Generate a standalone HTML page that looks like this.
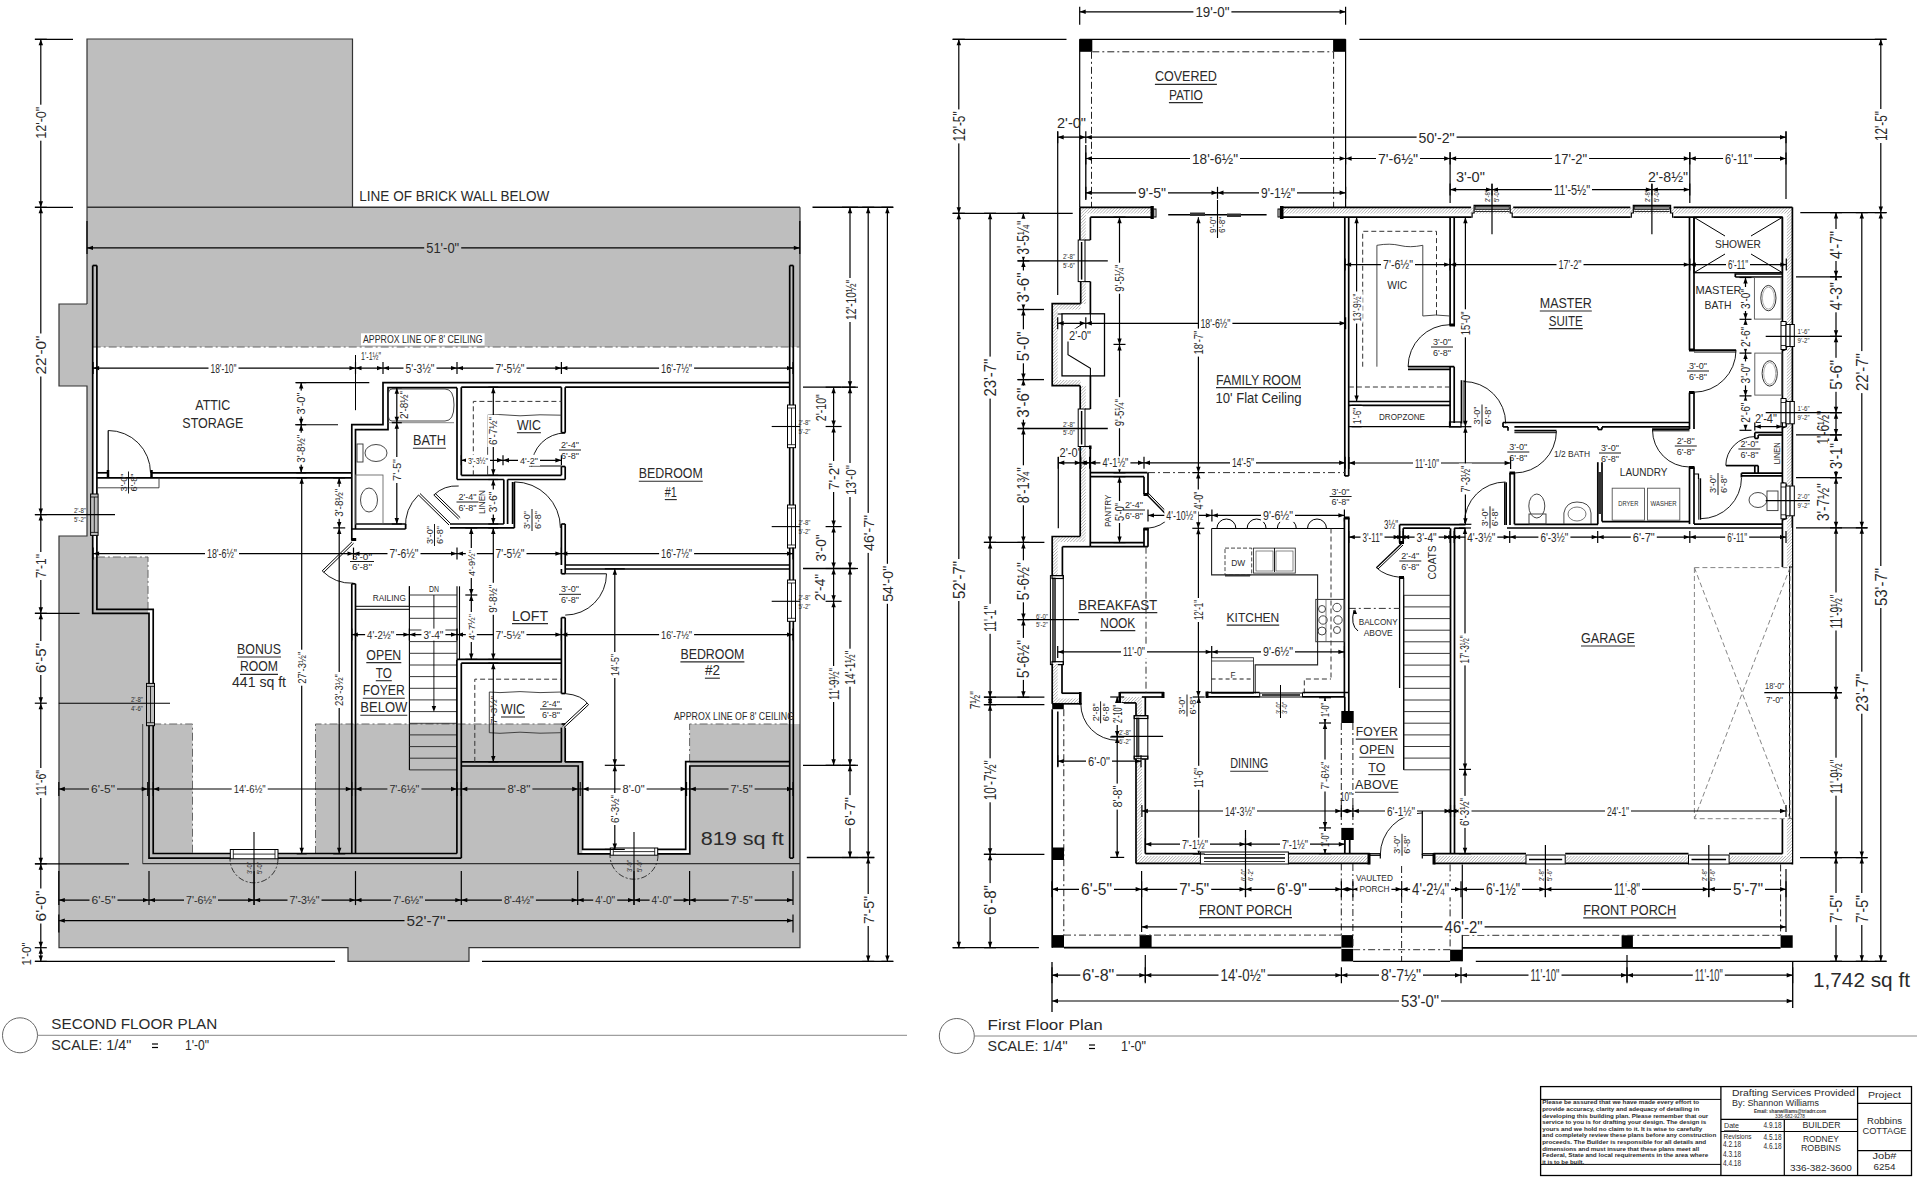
<!DOCTYPE html>
<html><head><meta charset="utf-8"><style>
html,body{margin:0;padding:0;background:#fff;width:1920px;height:1178px;overflow:hidden}
svg{display:block}
</style></head><body>
<svg width="1920" height="1178" viewBox="0 0 1920 1178" stroke-linecap="butt">
<defs><pattern id="h" width="2.2" height="2.2" patternUnits="userSpaceOnUse" patternTransform="rotate(45)"><rect width="2.2" height="2.2" fill="#fff"/><line x1="0" y1="0" x2="0" y2="2.2" stroke="#777" stroke-width="0.8"/></pattern></defs>
<rect x="0" y="0" width="1920" height="1178" fill="#fff"/>
<polygon points="87.0,39.0 352.5,39.0 352.5,207.3 87.0,207.3" fill="#bebebe" stroke="none"/>
<polygon points="87.0,207.3 800.0,207.3 800.0,347.0 87.0,347.0" fill="#bebebe" stroke="none"/>
<polygon points="59.0,304.0 87.0,304.0 87.0,386.0 59.0,386.0" fill="#bebebe" stroke="none"/>
<polygon points="87.0,347.0 92.7,347.0 92.7,536.0 87.0,536.0" fill="#bebebe" stroke="none"/>
<polygon points="59.0,536.0 92.7,536.0 92.7,557.0 148.0,557.0 148.0,724.0 192.5,724.0 192.5,854.0 59.0,854.0" fill="#bebebe" stroke="none"/>
<polygon points="59.0,854.0 800.0,854.0 800.0,947.7 469.0,947.7 469.0,961.4 348.0,961.4 348.0,947.7 59.0,947.7" fill="#bebebe" stroke="none"/>
<polygon points="315.5,724.0 565.0,724.0 565.0,762.0 582.3,762.0 582.3,854.0 315.5,854.0" fill="#bebebe" stroke="none"/>
<polygon points="689.6,724.0 800.0,724.0 800.0,854.0 689.6,854.0" fill="#bebebe" stroke="none"/>
<polyline points="87.0,304.0 87.0,39.0 352.5,39.0 352.5,207.3" fill="none" stroke="#333" stroke-width="1.2" stroke-linejoin="miter"/>
<line x1="87.0" y1="207.3" x2="800.0" y2="207.3" stroke="#333" stroke-width="1.4"/>
<polyline points="87.0,304.0 59.0,304.0 59.0,386.0 87.0,386.0 87.0,536.0 59.0,536.0 59.0,947.7 348.0,947.7 348.0,961.4 469.0,961.4 469.0,947.7 800.0,947.7 800.0,207.3" fill="none" stroke="#333" stroke-width="1.2" stroke-linejoin="miter"/>
<line x1="92.7" y1="347.0" x2="800.0" y2="347.0" stroke="#666" stroke-width="1.0" stroke-dasharray="8,3,2,3"/>
<polyline points="96.9,557.0 148.0,557.0 148.0,609.0" fill="none" stroke="#666" stroke-width="1.0" stroke-dasharray="8,3,2,3" stroke-linejoin="miter"/>
<polyline points="153.2,724.0 192.5,724.0 192.5,854.0" fill="none" stroke="#666" stroke-width="1.0" stroke-dasharray="8,3,2,3" stroke-linejoin="miter"/>
<polyline points="315.5,854.0 315.5,724.0 561.0,724.0" fill="none" stroke="#666" stroke-width="1.0" stroke-dasharray="8,3,2,3" stroke-linejoin="miter"/>
<polyline points="689.6,762.0 689.6,724.0 789.7,724.0" fill="none" stroke="#666" stroke-width="1.0" stroke-dasharray="8,3,2,3" stroke-linejoin="miter"/>
<line x1="142.7" y1="724.0" x2="142.7" y2="863.7" stroke="#444" stroke-width="1.0"/>
<line x1="142.7" y1="863.7" x2="800.0" y2="863.7" stroke="#333" stroke-width="1.2"/>
<polyline points="92.7,265.5 92.7,613.3 149.0,613.3 149.0,858.1 461.3,858.1" fill="none" stroke="#000" stroke-width="1.7" stroke-linejoin="miter"/>
<polyline points="96.9,265.5 96.9,609.3 153.2,609.3 153.2,853.5 456.9,853.5" fill="none" stroke="#000" stroke-width="1.7" stroke-linejoin="miter"/>
<line x1="92.7" y1="265.5" x2="96.9" y2="265.5" stroke="#000" stroke-width="1.7"/>
<line x1="789.7" y1="265.5" x2="789.7" y2="858.1" stroke="#000" stroke-width="1.7"/>
<line x1="793.3" y1="265.5" x2="793.3" y2="858.1" stroke="#000" stroke-width="1.7"/>
<line x1="789.7" y1="265.5" x2="793.3" y2="265.5" stroke="#000" stroke-width="1.7"/>
<line x1="789.7" y1="858.1" x2="793.3" y2="858.1" stroke="#000" stroke-width="1.7"/>
<line x1="96.9" y1="472.8" x2="108.0" y2="472.8" stroke="#000" stroke-width="1.7"/>
<line x1="151.5" y1="472.8" x2="351.8" y2="472.8" stroke="#000" stroke-width="1.7"/>
<line x1="96.9" y1="477.8" x2="351.8" y2="477.8" stroke="#000" stroke-width="1.7"/>
<line x1="108.0" y1="470.0" x2="108.0" y2="478.0" stroke="#000" stroke-width="2.5"/>
<line x1="151.5" y1="470.0" x2="151.5" y2="478.0" stroke="#000" stroke-width="2.5"/>
<line x1="108.2" y1="472.8" x2="108.2" y2="430.5" stroke="#000" stroke-width="1.2"/>
<path d="M108.2,430.5 A42.3,42.3 0 0 1 150.5,472.8" fill="none" stroke="#000" stroke-width="0.9"/>
<polyline points="96.9,487.8 159.0,487.8 159.0,477.8" fill="none" stroke="#333" stroke-width="0.9" stroke-linejoin="miter"/>
<polyline points="351.8,540.4 351.8,424.7 383.0,424.7 383.0,382.6 789.7,382.6" fill="none" stroke="#000" stroke-width="1.7" stroke-linejoin="miter"/>
<polyline points="355.5,529.0 355.5,429.7 388.0,429.7 388.0,387.7 457.0,387.7" fill="none" stroke="#000" stroke-width="1.7" stroke-linejoin="miter"/>
<line x1="461.3" y1="387.2" x2="561.4" y2="387.2" stroke="#000" stroke-width="1.7"/>
<line x1="565.2" y1="387.2" x2="789.7" y2="387.2" stroke="#000" stroke-width="1.7"/>
<line x1="457.0" y1="387.7" x2="457.0" y2="479.5" stroke="#000" stroke-width="1.7"/>
<line x1="461.3" y1="387.2" x2="461.3" y2="475.3" stroke="#000" stroke-width="1.7"/>
<line x1="461.3" y1="475.3" x2="561.4" y2="475.3" stroke="#000" stroke-width="1.7"/>
<line x1="457.0" y1="479.5" x2="503.8" y2="479.5" stroke="#000" stroke-width="1.7"/>
<line x1="507.6" y1="479.5" x2="565.2" y2="479.5" stroke="#000" stroke-width="1.7"/>
<line x1="561.4" y1="387.2" x2="561.4" y2="432.7" stroke="#000" stroke-width="1.7"/>
<line x1="565.2" y1="387.2" x2="565.2" y2="432.7" stroke="#000" stroke-width="1.7"/>
<line x1="561.4" y1="466.5" x2="561.4" y2="475.3" stroke="#000" stroke-width="1.7"/>
<line x1="565.2" y1="466.5" x2="565.2" y2="479.5" stroke="#000" stroke-width="1.7"/>
<line x1="561.4" y1="432.7" x2="565.2" y2="432.7" stroke="#000" stroke-width="1.7"/>
<line x1="561.4" y1="466.5" x2="565.2" y2="466.5" stroke="#000" stroke-width="1.7"/>
<line x1="355.5" y1="524.0" x2="405.6" y2="524.0" stroke="#000" stroke-width="1.7"/>
<line x1="351.8" y1="529.0" x2="405.6" y2="529.0" stroke="#000" stroke-width="1.7"/>
<line x1="405.6" y1="524.0" x2="405.6" y2="529.0" stroke="#000" stroke-width="1.7"/>
<line x1="503.8" y1="479.5" x2="503.8" y2="524.0" stroke="#000" stroke-width="1.7"/>
<line x1="507.6" y1="479.5" x2="507.6" y2="524.0" stroke="#000" stroke-width="1.7"/>
<line x1="450.0" y1="524.0" x2="503.8" y2="524.0" stroke="#000" stroke-width="1.7"/>
<line x1="450.0" y1="527.9" x2="514.4" y2="527.9" stroke="#000" stroke-width="1.7"/>
<line x1="512.6" y1="482.0" x2="512.6" y2="524.0" stroke="#000" stroke-width="1.7"/>
<line x1="514.4" y1="482.0" x2="514.4" y2="527.9" stroke="#000" stroke-width="1.7"/>
<line x1="561.4" y1="524.0" x2="561.4" y2="565.0" stroke="#000" stroke-width="1.7"/>
<line x1="565.2" y1="524.0" x2="565.2" y2="569.0" stroke="#000" stroke-width="1.7"/>
<line x1="561.4" y1="524.0" x2="565.2" y2="524.0" stroke="#000" stroke-width="1.7"/>
<line x1="565.2" y1="565.0" x2="789.7" y2="565.0" stroke="#000" stroke-width="1.7"/>
<line x1="565.2" y1="569.0" x2="789.7" y2="569.0" stroke="#000" stroke-width="1.7"/>
<line x1="561.4" y1="569.0" x2="561.4" y2="573.8" stroke="#000" stroke-width="1.7"/>
<line x1="565.2" y1="569.0" x2="565.2" y2="573.8" stroke="#000" stroke-width="1.7"/>
<line x1="561.4" y1="617.6" x2="561.4" y2="693.6" stroke="#000" stroke-width="1.7"/>
<line x1="565.2" y1="617.6" x2="565.2" y2="693.6" stroke="#000" stroke-width="1.7"/>
<line x1="561.4" y1="727.6" x2="561.4" y2="761.9" stroke="#000" stroke-width="1.7"/>
<line x1="565.2" y1="727.6" x2="565.2" y2="761.9" stroke="#000" stroke-width="1.7"/>
<line x1="561.4" y1="573.8" x2="565.2" y2="573.8" stroke="#000" stroke-width="1.7"/>
<line x1="561.4" y1="617.6" x2="565.2" y2="617.6" stroke="#000" stroke-width="1.7"/>
<line x1="565.2" y1="573.8" x2="606.5" y2="573.8" stroke="#000" stroke-width="1.0"/>
<path d="M606.5,573.8 A41.3,41.3 0 0 1 565.2,615.1" fill="none" stroke="#000" stroke-width="0.9"/>
<line x1="351.8" y1="583.8" x2="351.8" y2="853.5" stroke="#000" stroke-width="1.7"/>
<line x1="355.5" y1="583.8" x2="355.5" y2="853.5" stroke="#000" stroke-width="1.7"/>
<line x1="351.8" y1="583.8" x2="355.5" y2="583.8" stroke="#000" stroke-width="1.7"/>
<line x1="409.4" y1="586.3" x2="409.4" y2="769.9" stroke="#000" stroke-width="1.1"/>
<line x1="457.0" y1="586.3" x2="457.0" y2="659.4" stroke="#000" stroke-width="1.1"/>
<line x1="459.5" y1="586.3" x2="459.5" y2="659.4" stroke="#000" stroke-width="1.1"/>
<line x1="409.4" y1="586.3" x2="409.4" y2="606.3" stroke="#000" stroke-width="1.1"/>
<line x1="409.4" y1="595.0" x2="457.0" y2="595.0" stroke="#222" stroke-width="0.9"/>
<line x1="409.4" y1="606.7" x2="457.0" y2="606.7" stroke="#222" stroke-width="0.9"/>
<line x1="409.4" y1="618.3" x2="457.0" y2="618.3" stroke="#222" stroke-width="0.9"/>
<line x1="409.4" y1="630.0" x2="457.0" y2="630.0" stroke="#222" stroke-width="0.9"/>
<line x1="409.4" y1="641.6" x2="457.0" y2="641.6" stroke="#222" stroke-width="0.9"/>
<line x1="409.4" y1="653.3" x2="457.0" y2="653.3" stroke="#222" stroke-width="0.9"/>
<line x1="409.4" y1="665.0" x2="457.0" y2="665.0" stroke="#222" stroke-width="0.9"/>
<line x1="409.4" y1="676.6" x2="457.0" y2="676.6" stroke="#222" stroke-width="0.9"/>
<line x1="409.4" y1="688.3" x2="457.0" y2="688.3" stroke="#222" stroke-width="0.9"/>
<line x1="409.4" y1="699.9" x2="457.0" y2="699.9" stroke="#222" stroke-width="0.9"/>
<line x1="409.4" y1="711.6" x2="457.0" y2="711.6" stroke="#222" stroke-width="0.9"/>
<line x1="409.4" y1="723.3" x2="457.0" y2="723.3" stroke="#222" stroke-width="0.9"/>
<line x1="409.4" y1="734.9" x2="457.0" y2="734.9" stroke="#222" stroke-width="0.9"/>
<line x1="409.4" y1="746.6" x2="457.0" y2="746.6" stroke="#222" stroke-width="0.9"/>
<line x1="409.4" y1="758.2" x2="457.0" y2="758.2" stroke="#222" stroke-width="0.9"/>
<line x1="409.4" y1="769.9" x2="457.0" y2="769.9" stroke="#222" stroke-width="0.9"/>
<line x1="433.9" y1="595.0" x2="433.9" y2="709.0" stroke="#000" stroke-width="0.9"/>
<polygon points="433.9,712.0 431.7,706.0 436.1,706.0" fill="#000"/>
<line x1="355.5" y1="606.3" x2="409.4" y2="606.3" stroke="#000" stroke-width="1.0"/>
<line x1="355.5" y1="609.3" x2="409.4" y2="609.3" stroke="#000" stroke-width="1.0"/>
<line x1="457.0" y1="659.4" x2="561.4" y2="659.4" stroke="#000" stroke-width="1.7"/>
<line x1="461.3" y1="663.2" x2="561.4" y2="663.2" stroke="#000" stroke-width="1.7"/>
<line x1="456.9" y1="659.4" x2="456.9" y2="853.5" stroke="#000" stroke-width="1.7"/>
<line x1="461.3" y1="663.2" x2="461.3" y2="858.1" stroke="#000" stroke-width="1.7"/>
<line x1="461.3" y1="761.9" x2="561.9" y2="761.9" stroke="#000" stroke-width="1.7"/>
<polyline points="564.8,761.9 582.6,761.9 582.6,849.4 685.7,849.4 685.7,761.6 789.7,761.6" fill="none" stroke="#000" stroke-width="1.7" stroke-linejoin="miter"/>
<polyline points="461.3,766.0 578.2,766.0 578.2,853.8 689.8,853.8 689.8,766.0 789.7,766.0" fill="none" stroke="#000" stroke-width="1.7" stroke-linejoin="miter"/>
<rect x="90.6" y="494.0" width="7.5" height="41.4" fill="#bebebe" stroke="#000" stroke-width="1.0"/>
<line x1="94.3" y1="497.0" x2="94.3" y2="532.4" stroke="#000" stroke-width="0.8"/>
<line x1="90.6" y1="497.0" x2="98.1" y2="497.0" stroke="#000" stroke-width="0.8"/>
<line x1="90.6" y1="532.4" x2="98.1" y2="532.4" stroke="#000" stroke-width="0.8"/>
<rect x="146.5" y="683.4" width="8.0" height="42.3" fill="#bebebe" stroke="#000" stroke-width="1.0"/>
<line x1="150.5" y1="686.4" x2="150.5" y2="722.7" stroke="#000" stroke-width="0.8"/>
<line x1="146.5" y1="686.4" x2="154.5" y2="686.4" stroke="#000" stroke-width="0.8"/>
<line x1="146.5" y1="722.7" x2="154.5" y2="722.7" stroke="#000" stroke-width="0.8"/>
<rect x="787.5" y="405.0" width="8.0" height="42.7" fill="#fff" stroke="#000" stroke-width="1.0"/>
<line x1="791.5" y1="408.0" x2="791.5" y2="444.7" stroke="#000" stroke-width="0.8"/>
<line x1="787.5" y1="408.0" x2="795.5" y2="408.0" stroke="#000" stroke-width="0.8"/>
<line x1="787.5" y1="444.7" x2="795.5" y2="444.7" stroke="#000" stroke-width="0.8"/>
<rect x="787.5" y="505.0" width="8.0" height="43.0" fill="#fff" stroke="#000" stroke-width="1.0"/>
<line x1="791.5" y1="508.0" x2="791.5" y2="545.0" stroke="#000" stroke-width="0.8"/>
<line x1="787.5" y1="508.0" x2="795.5" y2="508.0" stroke="#000" stroke-width="0.8"/>
<line x1="787.5" y1="545.0" x2="795.5" y2="545.0" stroke="#000" stroke-width="0.8"/>
<rect x="787.5" y="580.0" width="8.0" height="41.3" fill="#fff" stroke="#000" stroke-width="1.0"/>
<line x1="791.5" y1="583.0" x2="791.5" y2="618.3" stroke="#000" stroke-width="0.8"/>
<line x1="787.5" y1="583.0" x2="795.5" y2="583.0" stroke="#000" stroke-width="0.8"/>
<line x1="787.5" y1="618.3" x2="795.5" y2="618.3" stroke="#000" stroke-width="0.8"/>
<rect x="230.3" y="849.5" width="47.7" height="9.3" fill="#fff" stroke="#000" stroke-width="1.0"/>
<line x1="233.3" y1="854.1" x2="275.0" y2="854.1" stroke="#000" stroke-width="0.8"/>
<line x1="233.3" y1="849.5" x2="233.3" y2="858.8" stroke="#000" stroke-width="0.8"/>
<line x1="275.0" y1="849.5" x2="275.0" y2="858.8" stroke="#000" stroke-width="0.8"/>
<rect x="610.3" y="848.0" width="47.4" height="7.2" fill="#fff" stroke="#000" stroke-width="1.0"/>
<line x1="613.3" y1="851.6" x2="654.7" y2="851.6" stroke="#000" stroke-width="0.8"/>
<line x1="613.3" y1="848.0" x2="613.3" y2="855.2" stroke="#000" stroke-width="0.8"/>
<line x1="654.7" y1="848.0" x2="654.7" y2="855.2" stroke="#000" stroke-width="0.8"/>
<path d="M278.0,858.8 A24.0,24.0 0 0 1 230.0,858.8" fill="none" stroke="#222" stroke-width="0.9" stroke-dasharray="6,2,2,2"/>
<path d="M658.0,855.2 A24.0,24.0 0 0 1 610.0,855.2" fill="none" stroke="#222" stroke-width="0.9" stroke-dasharray="6,2,2,2"/>
<line x1="254.0" y1="832.0" x2="254.0" y2="905.0" stroke="#000" stroke-width="1.1"/>
<line x1="634.0" y1="832.0" x2="634.0" y2="905.0" stroke="#000" stroke-width="1.1"/>
<text x="249.0" y="870.5" font-family="Liberation Sans" font-size="6.94" font-weight="normal" text-anchor="middle" fill="#2a2a2a" textLength="12.0" lengthAdjust="spacingAndGlyphs" transform="rotate(-90 249.0 868.0)">3'-0&quot;</text>
<text x="259.0" y="870.5" font-family="Liberation Sans" font-size="6.94" font-weight="normal" text-anchor="middle" fill="#2a2a2a" textLength="12.0" lengthAdjust="spacingAndGlyphs" transform="rotate(-90 259.0 868.0)">5'-0&quot;</text>
<text x="629.0" y="868.5" font-family="Liberation Sans" font-size="6.94" font-weight="normal" text-anchor="middle" fill="#2a2a2a" textLength="12.0" lengthAdjust="spacingAndGlyphs" transform="rotate(-90 629.0 866.0)">3'-0&quot;</text>
<text x="639.0" y="868.5" font-family="Liberation Sans" font-size="6.94" font-weight="normal" text-anchor="middle" fill="#2a2a2a" textLength="12.0" lengthAdjust="spacingAndGlyphs" transform="rotate(-90 639.0 866.0)">5'-0&quot;</text>
<line x1="35.0" y1="514.6" x2="115.0" y2="514.6" stroke="#000" stroke-width="1.1"/>
<text x="80.0" y="512.5" font-family="Liberation Sans" font-size="6.94" font-weight="normal" text-anchor="middle" fill="#2a2a2a" textLength="12.0" lengthAdjust="spacingAndGlyphs">2'-8&quot;</text>
<text x="80.0" y="522.0" font-family="Liberation Sans" font-size="6.94" font-weight="normal" text-anchor="middle" fill="#2a2a2a" textLength="12.0" lengthAdjust="spacingAndGlyphs">5'-2&quot;</text>
<line x1="58.8" y1="703.2" x2="170.0" y2="703.2" stroke="#000" stroke-width="1.1"/>
<text x="137.0" y="701.5" font-family="Liberation Sans" font-size="6.94" font-weight="normal" text-anchor="middle" fill="#2a2a2a" textLength="12.0" lengthAdjust="spacingAndGlyphs">2'-8&quot;</text>
<text x="137.0" y="711.0" font-family="Liberation Sans" font-size="6.94" font-weight="normal" text-anchor="middle" fill="#2a2a2a" textLength="12.0" lengthAdjust="spacingAndGlyphs">4'-6&quot;</text>
<line x1="771.7" y1="426.5" x2="800.0" y2="426.5" stroke="#000" stroke-width="1.1"/>
<text x="804.5" y="424.7" font-family="Liberation Sans" font-size="6.94" font-weight="normal" text-anchor="middle" fill="#2a2a2a" textLength="12.0" lengthAdjust="spacingAndGlyphs">2'-8&quot;</text>
<text x="804.5" y="433.7" font-family="Liberation Sans" font-size="6.94" font-weight="normal" text-anchor="middle" fill="#2a2a2a" textLength="12.0" lengthAdjust="spacingAndGlyphs">5'-2&quot;</text>
<line x1="771.7" y1="526.6" x2="800.0" y2="526.6" stroke="#000" stroke-width="1.1"/>
<text x="804.5" y="524.8" font-family="Liberation Sans" font-size="6.94" font-weight="normal" text-anchor="middle" fill="#2a2a2a" textLength="12.0" lengthAdjust="spacingAndGlyphs">2'-8&quot;</text>
<text x="804.5" y="533.8" font-family="Liberation Sans" font-size="6.94" font-weight="normal" text-anchor="middle" fill="#2a2a2a" textLength="12.0" lengthAdjust="spacingAndGlyphs">5'-2&quot;</text>
<line x1="771.7" y1="601.3" x2="800.0" y2="601.3" stroke="#000" stroke-width="1.1"/>
<text x="804.5" y="599.5" font-family="Liberation Sans" font-size="6.94" font-weight="normal" text-anchor="middle" fill="#2a2a2a" textLength="12.0" lengthAdjust="spacingAndGlyphs">2'-8&quot;</text>
<text x="804.5" y="608.5" font-family="Liberation Sans" font-size="6.94" font-weight="normal" text-anchor="middle" fill="#2a2a2a" textLength="12.0" lengthAdjust="spacingAndGlyphs">5'-2&quot;</text>
<path d="M392,389 H445 Q454,389 454,405 Q454,421 445,421 H392 Q388.5,421 388.5,417 V393 Q388.5,389 392,389 Z" fill="none" stroke="#333" stroke-width="0.9"/>
<line x1="388.0" y1="422.7" x2="454.0" y2="422.7" stroke="#666" stroke-width="0.8"/>
<rect x="357.0" y="444.0" width="6.0" height="18.0" fill="none" stroke="#333" stroke-width="0.9"/>
<ellipse cx="376.0" cy="453.0" rx="11.0" ry="8.5" fill="none" stroke="#333" stroke-width="0.9"/>
<rect x="355.5" y="475.0" width="27.5" height="49.0" fill="none" stroke="#555" stroke-width="0.8"/>
<ellipse cx="369.0" cy="500.0" rx="8.5" ry="12.0" fill="none" stroke="#333" stroke-width="0.9"/>
<polyline points="473.3,475.3 473.3,401.4 561.4,401.4" fill="none" stroke="#333" stroke-width="1.0" stroke-dasharray="5,3" stroke-linejoin="miter"/>
<polyline points="487.6,475.3 487.6,415.2 500.0,414.6 520.0,415.8 540.0,414.8 561.4,415.2" fill="none" stroke="#333" stroke-width="0.9" stroke-linejoin="miter"/>
<polyline points="474.8,761.9 474.8,679.2 561.4,679.2" fill="none" stroke="#333" stroke-width="1.0" stroke-dasharray="5,3" stroke-linejoin="miter"/>
<polyline points="561.4,692.0 540.0,692.6 520.0,691.6 500.0,692.6 489.3,692.0 489.3,732.7 500.0,733.3 520.0,732.2 540.0,733.2 561.4,732.7" fill="none" stroke="#333" stroke-width="0.9" stroke-linejoin="miter"/>
<path d="M531.7,466.5 A33.5,33.5 0 0 1 565.2,433.0" fill="none" stroke="#000" stroke-width="0.9"/>
<line x1="528.9" y1="466.0" x2="561.4" y2="466.0" stroke="#000" stroke-width="1.0"/>
<path d="M514.4,481.9 A46.0,46.0 0 0 1 560.4,527.9" fill="none" stroke="#000" stroke-width="0.9"/>
<line x1="514.4" y1="482.0" x2="514.4" y2="527.9" stroke="#000" stroke-width="1.0"/>
<path d="M418.5,495 A43,43 0 0 0 405.6,528.8" fill="none" stroke="#000" stroke-width="0.9"/>
<line x1="449.0" y1="525.0" x2="418.5" y2="495.0" stroke="#000" stroke-width="1.0"/>
<line x1="450.5" y1="523.5" x2="420.0" y2="493.5" stroke="#000" stroke-width="1.0"/>
<path d="M433.8,495 A33,33 0 0 1 458.7,486" fill="none" stroke="#000" stroke-width="0.9"/>
<line x1="458.7" y1="519.2" x2="433.8" y2="495.0" stroke="#000" stroke-width="1.0"/>
<line x1="460.2" y1="517.7" x2="435.3" y2="493.5" stroke="#000" stroke-width="1.0"/>
<line x1="352.1" y1="541.7" x2="322.2" y2="570.9" stroke="#000" stroke-width="1.0"/>
<line x1="353.6" y1="543.2" x2="323.7" y2="572.4" stroke="#000" stroke-width="1.0"/>
<path d="M322.2,570.9 A42,42 0 0 0 353.5,583.2" fill="none" stroke="#000" stroke-width="0.9"/>
<rect x="351.4" y="538.0" width="4.8" height="3.0" fill="#000" stroke="none"/>
<path d="M565.2,693.6 Q582,695 588.6,704.7" fill="none" stroke="#000" stroke-width="0.9"/>
<line x1="588.6" y1="704.7" x2="564.0" y2="727.6" stroke="#000" stroke-width="1.0"/>
<line x1="587.0" y1="703.2" x2="562.5" y2="726.1" stroke="#000" stroke-width="1.0"/>
<line x1="561.4" y1="693.5" x2="565.2" y2="693.5" stroke="#000" stroke-width="1.7"/>
<line x1="561.4" y1="724.0" x2="565.2" y2="724.0" stroke="#000" stroke-width="1.7"/>
<line x1="40.8" y1="39.3" x2="40.8" y2="961.4" stroke="#000" stroke-width="1.2"/>
<line x1="34.8" y1="39.3" x2="46.8" y2="39.3" stroke="#000" stroke-width="1.2"/>
<line x1="34.8" y1="207.3" x2="46.8" y2="207.3" stroke="#000" stroke-width="1.2"/>
<line x1="34.8" y1="514.6" x2="46.8" y2="514.6" stroke="#000" stroke-width="1.2"/>
<line x1="34.8" y1="613.3" x2="46.8" y2="613.3" stroke="#000" stroke-width="1.2"/>
<line x1="34.8" y1="703.2" x2="46.8" y2="703.2" stroke="#000" stroke-width="1.2"/>
<line x1="34.8" y1="863.8" x2="46.8" y2="863.8" stroke="#000" stroke-width="1.2"/>
<line x1="34.8" y1="947.7" x2="46.8" y2="947.7" stroke="#000" stroke-width="1.2"/>
<line x1="34.8" y1="961.4" x2="46.8" y2="961.4" stroke="#000" stroke-width="1.2"/>
<polygon points="40.8,39.3 38.6,45.3 43.0,45.3" fill="#000"/>
<polygon points="40.8,207.3 38.6,201.3 43.0,201.3" fill="#000"/>
<polygon points="40.8,207.3 38.6,213.3 43.0,213.3" fill="#000"/>
<polygon points="40.8,514.6 38.6,508.6 43.0,508.6" fill="#000"/>
<polygon points="40.8,514.6 38.6,520.6 43.0,520.6" fill="#000"/>
<polygon points="40.8,613.3 38.6,607.3 43.0,607.3" fill="#000"/>
<polygon points="40.8,613.3 38.6,619.3 43.0,619.3" fill="#000"/>
<polygon points="40.8,703.2 38.6,697.2 43.0,697.2" fill="#000"/>
<polygon points="40.8,703.2 38.6,709.2 43.0,709.2" fill="#000"/>
<polygon points="40.8,863.8 38.6,857.8 43.0,857.8" fill="#000"/>
<polygon points="40.8,863.8 38.6,869.8 43.0,869.8" fill="#000"/>
<polygon points="40.8,947.7 38.6,941.7 43.0,941.7" fill="#000"/>
<polygon points="40.8,947.7 38.6,953.7 43.0,953.7" fill="#000"/>
<polygon points="40.8,961.4 38.6,955.4 43.0,955.4" fill="#000"/>
<rect x="22.8" y="115.2" width="36.0" height="15.0" fill="#fff" transform="rotate(-90 40.8 122.7)"/>
<text x="40.8" y="128.2" font-family="Liberation Sans" font-size="15.28" font-weight="normal" text-anchor="middle" fill="#2a2a2a" textLength="32.0" lengthAdjust="spacingAndGlyphs" transform="rotate(-90 40.8 122.7)">12'-0&quot;</text>
<rect x="19.3" y="347.5" width="43.0" height="15.0" fill="#fff" transform="rotate(-90 40.8 355.0)"/>
<text x="40.8" y="360.5" font-family="Liberation Sans" font-size="15.28" font-weight="normal" text-anchor="middle" fill="#2a2a2a" textLength="39.0" lengthAdjust="spacingAndGlyphs" transform="rotate(-90 40.8 355.0)">22'-0&quot;</text>
<rect x="26.8" y="558.5" width="28.0" height="15.0" fill="#fff" transform="rotate(-90 40.8 566.0)"/>
<text x="40.8" y="571.5" font-family="Liberation Sans" font-size="15.28" font-weight="normal" text-anchor="middle" fill="#2a2a2a" textLength="24.0" lengthAdjust="spacingAndGlyphs" transform="rotate(-90 40.8 566.0)">7'-1&quot;</text>
<rect x="23.8" y="650.5" width="34.0" height="15.0" fill="#fff" transform="rotate(-90 40.8 658.0)"/>
<text x="40.8" y="663.5" font-family="Liberation Sans" font-size="15.28" font-weight="normal" text-anchor="middle" fill="#2a2a2a" textLength="30.0" lengthAdjust="spacingAndGlyphs" transform="rotate(-90 40.8 658.0)">6'-5&quot;</text>
<rect x="25.8" y="775.5" width="30.0" height="15.0" fill="#fff" transform="rotate(-90 40.8 783.0)"/>
<text x="40.8" y="788.5" font-family="Liberation Sans" font-size="15.28" font-weight="normal" text-anchor="middle" fill="#2a2a2a" textLength="26.0" lengthAdjust="spacingAndGlyphs" transform="rotate(-90 40.8 783.0)">11'-6&quot;</text>
<rect x="23.3" y="898.5" width="35.0" height="15.0" fill="#fff" transform="rotate(-90 40.8 906.0)"/>
<text x="40.8" y="911.5" font-family="Liberation Sans" font-size="15.28" font-weight="normal" text-anchor="middle" fill="#2a2a2a" textLength="31.0" lengthAdjust="spacingAndGlyphs" transform="rotate(-90 40.8 906.0)">6'-0&quot;</text>
<line x1="35.0" y1="39.3" x2="73.0" y2="39.3" stroke="#000" stroke-width="1.3"/>
<line x1="35.0" y1="207.3" x2="73.0" y2="207.3" stroke="#000" stroke-width="1.3"/>
<line x1="35.0" y1="613.3" x2="79.6" y2="613.3" stroke="#000" stroke-width="1.3"/>
<line x1="35.0" y1="863.8" x2="129.0" y2="863.8" stroke="#000" stroke-width="1.3"/>
<line x1="35.0" y1="961.4" x2="335.0" y2="961.4" stroke="#000" stroke-width="1.3"/>
<text x="26.8" y="958.5" font-family="Liberation Sans" font-size="12.50" font-weight="normal" text-anchor="middle" fill="#2a2a2a" textLength="23.0" lengthAdjust="spacingAndGlyphs" transform="rotate(-90 26.8 954.0)">1'-0&quot;</text>
<line x1="833.6" y1="387.2" x2="833.6" y2="765.3" stroke="#000" stroke-width="1.2"/>
<line x1="825.6" y1="387.2" x2="841.6" y2="387.2" stroke="#000" stroke-width="1.2"/>
<line x1="825.6" y1="426.5" x2="841.6" y2="426.5" stroke="#000" stroke-width="1.2"/>
<line x1="825.6" y1="526.6" x2="841.6" y2="526.6" stroke="#000" stroke-width="1.2"/>
<line x1="825.6" y1="568.5" x2="841.6" y2="568.5" stroke="#000" stroke-width="1.2"/>
<line x1="825.6" y1="601.3" x2="841.6" y2="601.3" stroke="#000" stroke-width="1.2"/>
<line x1="825.6" y1="765.3" x2="841.6" y2="765.3" stroke="#000" stroke-width="1.2"/>
<polygon points="833.6,387.2 831.4,393.2 835.8,393.2" fill="#000"/>
<polygon points="833.6,426.5 831.4,420.5 835.8,420.5" fill="#000"/>
<polygon points="833.6,426.5 831.4,432.5 835.8,432.5" fill="#000"/>
<polygon points="833.6,526.6 831.4,520.6 835.8,520.6" fill="#000"/>
<polygon points="833.6,526.6 831.4,532.6 835.8,532.6" fill="#000"/>
<polygon points="833.6,568.5 831.4,562.5 835.8,562.5" fill="#000"/>
<polygon points="833.6,568.5 831.4,574.5 835.8,574.5" fill="#000"/>
<polygon points="833.6,601.3 831.4,595.3 835.8,595.3" fill="#000"/>
<polygon points="833.6,601.3 831.4,607.3 835.8,607.3" fill="#000"/>
<polygon points="833.6,765.3 831.4,759.3 835.8,759.3" fill="#000"/>
<text x="820.6" y="413.2" font-family="Liberation Sans" font-size="15.28" font-weight="normal" text-anchor="middle" fill="#2a2a2a" textLength="27.0" lengthAdjust="spacingAndGlyphs" transform="rotate(-90 820.6 407.7)">2'-10&quot;</text>
<rect x="818.1" y="469.0" width="31.0" height="15.0" fill="#fff" transform="rotate(-90 833.6 476.5)"/>
<text x="833.6" y="482.0" font-family="Liberation Sans" font-size="15.28" font-weight="normal" text-anchor="middle" fill="#2a2a2a" textLength="27.0" lengthAdjust="spacingAndGlyphs" transform="rotate(-90 833.6 476.5)">7'-2&quot;</text>
<text x="820.6" y="553.5" font-family="Liberation Sans" font-size="15.28" font-weight="normal" text-anchor="middle" fill="#2a2a2a" textLength="27.0" lengthAdjust="spacingAndGlyphs" transform="rotate(-90 820.6 548.0)">3'-0&quot;</text>
<text x="819.6" y="593.0" font-family="Liberation Sans" font-size="15.28" font-weight="normal" text-anchor="middle" fill="#2a2a2a" textLength="27.0" lengthAdjust="spacingAndGlyphs" transform="rotate(-90 819.6 587.5)">2'-4&quot;</text>
<rect x="815.6" y="676.5" width="36.0" height="15.0" fill="#fff" transform="rotate(-90 833.6 684.0)"/>
<text x="833.6" y="689.5" font-family="Liberation Sans" font-size="15.28" font-weight="normal" text-anchor="middle" fill="#2a2a2a" textLength="32.0" lengthAdjust="spacingAndGlyphs" transform="rotate(-90 833.6 684.0)">11'-9½&quot;</text>
<line x1="850.0" y1="207.3" x2="850.0" y2="857.5" stroke="#000" stroke-width="1.2"/>
<line x1="842.0" y1="207.3" x2="858.0" y2="207.3" stroke="#000" stroke-width="1.2"/>
<line x1="842.0" y1="387.2" x2="858.0" y2="387.2" stroke="#000" stroke-width="1.2"/>
<line x1="842.0" y1="568.5" x2="858.0" y2="568.5" stroke="#000" stroke-width="1.2"/>
<line x1="842.0" y1="765.3" x2="858.0" y2="765.3" stroke="#000" stroke-width="1.2"/>
<line x1="842.0" y1="857.5" x2="858.0" y2="857.5" stroke="#000" stroke-width="1.2"/>
<polygon points="850.0,207.3 847.8,213.3 852.2,213.3" fill="#000"/>
<polygon points="850.0,387.2 847.8,381.2 852.2,381.2" fill="#000"/>
<polygon points="850.0,387.2 847.8,393.2 852.2,393.2" fill="#000"/>
<polygon points="850.0,568.5 847.8,562.5 852.2,562.5" fill="#000"/>
<polygon points="850.0,568.5 847.8,574.5 852.2,574.5" fill="#000"/>
<polygon points="850.0,765.3 847.8,759.3 852.2,759.3" fill="#000"/>
<polygon points="850.0,765.3 847.8,771.3 852.2,771.3" fill="#000"/>
<polygon points="850.0,857.5 847.8,851.5 852.2,851.5" fill="#000"/>
<rect x="828.0" y="292.5" width="44.0" height="15.0" fill="#fff" transform="rotate(-90 850.0 300.0)"/>
<text x="850.0" y="305.5" font-family="Liberation Sans" font-size="15.28" font-weight="normal" text-anchor="middle" fill="#2a2a2a" textLength="40.0" lengthAdjust="spacingAndGlyphs" transform="rotate(-90 850.0 300.0)">12'-10½&quot;</text>
<rect x="833.0" y="472.5" width="34.0" height="15.0" fill="#fff" transform="rotate(-90 850.0 480.0)"/>
<text x="850.0" y="485.5" font-family="Liberation Sans" font-size="15.28" font-weight="normal" text-anchor="middle" fill="#2a2a2a" textLength="30.0" lengthAdjust="spacingAndGlyphs" transform="rotate(-90 850.0 480.0)">13'-0&quot;</text>
<rect x="831.0" y="660.2" width="38.0" height="15.0" fill="#fff" transform="rotate(-90 850.0 667.7)"/>
<text x="850.0" y="673.2" font-family="Liberation Sans" font-size="15.28" font-weight="normal" text-anchor="middle" fill="#2a2a2a" textLength="34.0" lengthAdjust="spacingAndGlyphs" transform="rotate(-90 850.0 667.7)">14'-1½&quot;</text>
<rect x="833.5" y="804.1" width="33.0" height="15.0" fill="#fff" transform="rotate(-90 850.0 811.6)"/>
<text x="850.0" y="817.1" font-family="Liberation Sans" font-size="15.28" font-weight="normal" text-anchor="middle" fill="#2a2a2a" textLength="29.0" lengthAdjust="spacingAndGlyphs" transform="rotate(-90 850.0 811.6)">6'-7&quot;</text>
<line x1="868.2" y1="207.3" x2="868.2" y2="961.4" stroke="#000" stroke-width="1.2"/>
<line x1="862.2" y1="207.3" x2="874.2" y2="207.3" stroke="#000" stroke-width="1.2"/>
<line x1="862.2" y1="857.5" x2="874.2" y2="857.5" stroke="#000" stroke-width="1.2"/>
<line x1="862.2" y1="961.4" x2="874.2" y2="961.4" stroke="#000" stroke-width="1.2"/>
<polygon points="868.2,207.3 866.0,213.3 870.4,213.3" fill="#000"/>
<polygon points="868.2,857.5 866.0,851.5 870.4,851.5" fill="#000"/>
<polygon points="868.2,857.5 866.0,863.5 870.4,863.5" fill="#000"/>
<polygon points="868.2,961.4 866.0,955.4 870.4,955.4" fill="#000"/>
<rect x="848.2" y="525.4" width="40.0" height="15.0" fill="#fff" transform="rotate(-90 868.2 532.9)"/>
<text x="868.2" y="538.4" font-family="Liberation Sans" font-size="15.28" font-weight="normal" text-anchor="middle" fill="#2a2a2a" textLength="36.0" lengthAdjust="spacingAndGlyphs" transform="rotate(-90 868.2 532.9)">46'-7&quot;</text>
<rect x="852.2" y="902.5" width="32.0" height="15.0" fill="#fff" transform="rotate(-90 868.2 910.0)"/>
<text x="868.2" y="915.5" font-family="Liberation Sans" font-size="15.28" font-weight="normal" text-anchor="middle" fill="#2a2a2a" textLength="28.0" lengthAdjust="spacingAndGlyphs" transform="rotate(-90 868.2 910.0)">7'-5&quot;</text>
<line x1="887.4" y1="207.3" x2="887.4" y2="961.4" stroke="#000" stroke-width="1.2"/>
<line x1="881.4" y1="207.3" x2="893.4" y2="207.3" stroke="#000" stroke-width="1.2"/>
<line x1="881.4" y1="961.4" x2="893.4" y2="961.4" stroke="#000" stroke-width="1.2"/>
<polygon points="887.4,207.3 885.2,213.3 889.6,213.3" fill="#000"/>
<polygon points="887.4,961.4 885.2,955.4 889.6,955.4" fill="#000"/>
<rect x="867.4" y="576.3" width="40.0" height="15.0" fill="#fff" transform="rotate(-90 887.4 583.8)"/>
<text x="887.4" y="589.3" font-family="Liberation Sans" font-size="15.28" font-weight="normal" text-anchor="middle" fill="#2a2a2a" textLength="36.0" lengthAdjust="spacingAndGlyphs" transform="rotate(-90 887.4 583.8)">54'-0&quot;</text>
<line x1="812.5" y1="207.3" x2="893.2" y2="207.3" stroke="#000" stroke-width="1.4"/>
<line x1="803.0" y1="387.2" x2="855.6" y2="387.2" stroke="#000" stroke-width="1.3"/>
<line x1="803.0" y1="568.5" x2="855.6" y2="568.5" stroke="#000" stroke-width="1.3"/>
<line x1="803.0" y1="765.3" x2="855.6" y2="765.3" stroke="#000" stroke-width="1.3"/>
<line x1="806.8" y1="857.5" x2="874.4" y2="857.5" stroke="#000" stroke-width="1.3"/>
<line x1="482.0" y1="961.4" x2="893.2" y2="961.4" stroke="#000" stroke-width="1.4"/>
<line x1="87.0" y1="247.9" x2="799.8" y2="247.9" stroke="#000" stroke-width="1.2"/>
<line x1="87.0" y1="220.9" x2="87.0" y2="253.9" stroke="#000" stroke-width="1.2"/>
<line x1="799.8" y1="220.9" x2="799.8" y2="253.9" stroke="#000" stroke-width="1.2"/>
<polygon points="87.0,247.9 93.0,245.7 93.0,250.1" fill="#000"/>
<polygon points="799.8,247.9 793.8,245.7 793.8,250.1" fill="#000"/>
<rect x="424.2" y="240.4" width="37.0" height="15.0" fill="#bebebe"/>
<text x="442.7" y="253.4" font-family="Liberation Sans" font-size="15.28" font-weight="normal" text-anchor="middle" fill="#2a2a2a" textLength="33.0" lengthAdjust="spacingAndGlyphs">51'-0&quot;</text>
<line x1="93.1" y1="368.1" x2="793.0" y2="368.1" stroke="#000" stroke-width="1.2"/>
<line x1="93.1" y1="362.1" x2="93.1" y2="374.1" stroke="#000" stroke-width="1.2"/>
<line x1="355.5" y1="362.1" x2="355.5" y2="374.1" stroke="#000" stroke-width="1.2"/>
<line x1="383.0" y1="362.1" x2="383.0" y2="374.1" stroke="#000" stroke-width="1.2"/>
<line x1="457.0" y1="362.1" x2="457.0" y2="374.1" stroke="#000" stroke-width="1.2"/>
<line x1="561.4" y1="362.1" x2="561.4" y2="374.1" stroke="#000" stroke-width="1.2"/>
<line x1="793.0" y1="362.1" x2="793.0" y2="374.1" stroke="#000" stroke-width="1.2"/>
<polygon points="93.1,368.1 99.1,365.9 99.1,370.3" fill="#000"/>
<polygon points="355.5,368.1 349.5,365.9 349.5,370.3" fill="#000"/>
<polygon points="355.5,368.1 361.5,365.9 361.5,370.3" fill="#000"/>
<polygon points="383.0,368.1 377.0,365.9 377.0,370.3" fill="#000"/>
<polygon points="383.0,368.1 389.0,365.9 389.0,370.3" fill="#000"/>
<polygon points="457.0,368.1 451.0,365.9 451.0,370.3" fill="#000"/>
<polygon points="457.0,368.1 463.0,365.9 463.0,370.3" fill="#000"/>
<polygon points="561.4,368.1 555.4,365.9 555.4,370.3" fill="#000"/>
<polygon points="561.4,368.1 567.4,365.9 567.4,370.3" fill="#000"/>
<polygon points="793.0,368.1 787.0,365.9 787.0,370.3" fill="#000"/>
<rect x="208.5" y="361.6" width="30.0" height="13.0" fill="#fff"/>
<text x="223.5" y="372.6" font-family="Liberation Sans" font-size="12.50" font-weight="normal" text-anchor="middle" fill="#2a2a2a" textLength="26.0" lengthAdjust="spacingAndGlyphs">18'-10&quot;</text>
<rect x="403.5" y="361.6" width="33.0" height="13.0" fill="#fff"/>
<text x="420.0" y="372.6" font-family="Liberation Sans" font-size="12.50" font-weight="normal" text-anchor="middle" fill="#2a2a2a" textLength="29.0" lengthAdjust="spacingAndGlyphs">5'-3½&quot;</text>
<rect x="493.5" y="361.6" width="33.0" height="13.0" fill="#fff"/>
<text x="510.0" y="372.6" font-family="Liberation Sans" font-size="12.50" font-weight="normal" text-anchor="middle" fill="#2a2a2a" textLength="29.0" lengthAdjust="spacingAndGlyphs">7'-5½&quot;</text>
<rect x="659.1" y="361.6" width="35.0" height="13.0" fill="#fff"/>
<text x="676.6" y="372.6" font-family="Liberation Sans" font-size="12.50" font-weight="normal" text-anchor="middle" fill="#2a2a2a" textLength="31.0" lengthAdjust="spacingAndGlyphs">16'-7½&quot;</text>
<text x="371.0" y="360.0" font-family="Liberation Sans" font-size="11.11" font-weight="normal" text-anchor="middle" fill="#2a2a2a" textLength="20.0" lengthAdjust="spacingAndGlyphs">1'-1½&quot;</text>
<line x1="355.5" y1="355.0" x2="355.5" y2="410.2" stroke="#000" stroke-width="1.0"/>
<line x1="295.4" y1="382.6" x2="369.3" y2="382.6" stroke="#000" stroke-width="1.1"/>
<line x1="295.0" y1="424.7" x2="338.0" y2="424.7" stroke="#000" stroke-width="1.1"/>
<line x1="93.1" y1="553.6" x2="793.0" y2="553.6" stroke="#000" stroke-width="1.2"/>
<line x1="93.1" y1="547.6" x2="93.1" y2="559.6" stroke="#000" stroke-width="1.2"/>
<line x1="353.5" y1="547.6" x2="353.5" y2="559.6" stroke="#000" stroke-width="1.2"/>
<line x1="457.0" y1="547.6" x2="457.0" y2="559.6" stroke="#000" stroke-width="1.2"/>
<line x1="561.4" y1="547.6" x2="561.4" y2="559.6" stroke="#000" stroke-width="1.2"/>
<line x1="793.0" y1="547.6" x2="793.0" y2="559.6" stroke="#000" stroke-width="1.2"/>
<polygon points="93.1,553.6 99.1,551.4 99.1,555.8" fill="#000"/>
<polygon points="353.5,553.6 347.5,551.4 347.5,555.8" fill="#000"/>
<polygon points="353.5,553.6 359.5,551.4 359.5,555.8" fill="#000"/>
<polygon points="457.0,553.6 451.0,551.4 451.0,555.8" fill="#000"/>
<polygon points="457.0,553.6 463.0,551.4 463.0,555.8" fill="#000"/>
<polygon points="561.4,553.6 555.4,551.4 555.4,555.8" fill="#000"/>
<polygon points="561.4,553.6 567.4,551.4 567.4,555.8" fill="#000"/>
<polygon points="793.0,553.6 787.0,551.4 787.0,555.8" fill="#000"/>
<rect x="205.0" y="547.1" width="34.0" height="13.0" fill="#fff"/>
<text x="222.0" y="558.1" font-family="Liberation Sans" font-size="12.50" font-weight="normal" text-anchor="middle" fill="#2a2a2a" textLength="30.0" lengthAdjust="spacingAndGlyphs">18'-6½&quot;</text>
<rect x="387.5" y="547.1" width="33.0" height="13.0" fill="#fff"/>
<text x="404.0" y="558.1" font-family="Liberation Sans" font-size="12.50" font-weight="normal" text-anchor="middle" fill="#2a2a2a" textLength="29.0" lengthAdjust="spacingAndGlyphs">7'-6½&quot;</text>
<rect x="493.5" y="547.1" width="33.0" height="13.0" fill="#fff"/>
<text x="510.0" y="558.1" font-family="Liberation Sans" font-size="12.50" font-weight="normal" text-anchor="middle" fill="#2a2a2a" textLength="29.0" lengthAdjust="spacingAndGlyphs">7'-5½&quot;</text>
<rect x="659.1" y="547.1" width="35.0" height="13.0" fill="#fff"/>
<text x="676.6" y="558.1" font-family="Liberation Sans" font-size="12.50" font-weight="normal" text-anchor="middle" fill="#2a2a2a" textLength="31.0" lengthAdjust="spacingAndGlyphs">16'-7½&quot;</text>
<line x1="351.8" y1="634.6" x2="793.0" y2="634.6" stroke="#000" stroke-width="1.2"/>
<line x1="351.8" y1="628.6" x2="351.8" y2="640.6" stroke="#000" stroke-width="1.2"/>
<line x1="409.4" y1="628.6" x2="409.4" y2="640.6" stroke="#000" stroke-width="1.2"/>
<line x1="457.0" y1="628.6" x2="457.0" y2="640.6" stroke="#000" stroke-width="1.2"/>
<line x1="561.4" y1="628.6" x2="561.4" y2="640.6" stroke="#000" stroke-width="1.2"/>
<line x1="793.0" y1="628.6" x2="793.0" y2="640.6" stroke="#000" stroke-width="1.2"/>
<polygon points="351.8,634.6 357.8,632.4 357.8,636.8" fill="#000"/>
<polygon points="409.4,634.6 403.4,632.4 403.4,636.8" fill="#000"/>
<polygon points="409.4,634.6 415.4,632.4 415.4,636.8" fill="#000"/>
<polygon points="457.0,634.6 451.0,632.4 451.0,636.8" fill="#000"/>
<polygon points="457.0,634.6 463.0,632.4 463.0,636.8" fill="#000"/>
<polygon points="561.4,634.6 555.4,632.4 555.4,636.8" fill="#000"/>
<polygon points="561.4,634.6 567.4,632.4 567.4,636.8" fill="#000"/>
<polygon points="793.0,634.6 787.0,632.4 787.0,636.8" fill="#000"/>
<rect x="365.1" y="628.6" width="31.0" height="12.0" fill="#fff"/>
<text x="380.6" y="638.6" font-family="Liberation Sans" font-size="11.11" font-weight="normal" text-anchor="middle" fill="#2a2a2a" textLength="27.0" lengthAdjust="spacingAndGlyphs">4'-2½&quot;</text>
<rect x="421.4" y="628.6" width="24.0" height="12.0" fill="#fff"/>
<text x="433.4" y="638.6" font-family="Liberation Sans" font-size="11.11" font-weight="normal" text-anchor="middle" fill="#2a2a2a" textLength="20.0" lengthAdjust="spacingAndGlyphs">3'-4&quot;</text>
<rect x="493.5" y="628.6" width="33.0" height="12.0" fill="#fff"/>
<text x="510.0" y="638.6" font-family="Liberation Sans" font-size="11.11" font-weight="normal" text-anchor="middle" fill="#2a2a2a" textLength="29.0" lengthAdjust="spacingAndGlyphs">7'-5½&quot;</text>
<rect x="659.1" y="628.6" width="35.0" height="12.0" fill="#fff"/>
<text x="676.6" y="638.6" font-family="Liberation Sans" font-size="11.11" font-weight="normal" text-anchor="middle" fill="#2a2a2a" textLength="31.0" lengthAdjust="spacingAndGlyphs">16'-7½&quot;</text>
<line x1="58.8" y1="789.0" x2="793.0" y2="789.0" stroke="#000" stroke-width="1.2"/>
<line x1="58.8" y1="782.0" x2="58.8" y2="796.0" stroke="#000" stroke-width="1.1"/>
<line x1="147.7" y1="782.0" x2="147.7" y2="796.0" stroke="#000" stroke-width="1.1"/>
<line x1="153.2" y1="782.0" x2="153.2" y2="796.0" stroke="#000" stroke-width="1.1"/>
<line x1="351.8" y1="782.0" x2="351.8" y2="796.0" stroke="#000" stroke-width="1.1"/>
<line x1="355.5" y1="782.0" x2="355.5" y2="796.0" stroke="#000" stroke-width="1.1"/>
<line x1="457.0" y1="782.0" x2="457.0" y2="796.0" stroke="#000" stroke-width="1.1"/>
<line x1="461.3" y1="782.0" x2="461.3" y2="796.0" stroke="#000" stroke-width="1.1"/>
<line x1="580.2" y1="782.0" x2="580.2" y2="796.0" stroke="#000" stroke-width="1.1"/>
<line x1="686.6" y1="782.0" x2="686.6" y2="796.0" stroke="#000" stroke-width="1.1"/>
<line x1="793.0" y1="782.0" x2="793.0" y2="796.0" stroke="#000" stroke-width="1.1"/>
<polygon points="58.8,789.0 64.8,786.8 64.8,791.2" fill="#000"/>
<polygon points="147.7,789.0 141.7,786.8 141.7,791.2" fill="#000"/>
<polygon points="153.2,789.0 159.2,786.8 159.2,791.2" fill="#000"/>
<polygon points="351.8,789.0 345.8,786.8 345.8,791.2" fill="#000"/>
<polygon points="355.5,789.0 361.5,786.8 361.5,791.2" fill="#000"/>
<polygon points="457.0,789.0 451.0,786.8 451.0,791.2" fill="#000"/>
<polygon points="461.3,789.0 467.3,786.8 467.3,791.2" fill="#000"/>
<polygon points="578.2,789.0 572.2,786.8 572.2,791.2" fill="#000"/>
<polygon points="582.6,789.0 588.6,786.8 588.6,791.2" fill="#000"/>
<polygon points="686.6,789.0 680.6,786.8 680.6,791.2" fill="#000"/>
<polygon points="689.8,789.0 695.8,786.8 695.8,791.2" fill="#000"/>
<polygon points="793.0,789.0 787.0,786.8 787.0,791.2" fill="#000"/>
<rect x="89.0" y="783.0" width="28.0" height="12.0" fill="#bebebe"/>
<text x="103.0" y="793.0" font-family="Liberation Sans" font-size="11.11" font-weight="normal" text-anchor="middle" fill="#2a2a2a" textLength="24.0" lengthAdjust="spacingAndGlyphs">6'-5&quot;</text>
<rect x="231.7" y="783.0" width="36.0" height="12.0" fill="#fff"/>
<text x="249.7" y="793.0" font-family="Liberation Sans" font-size="11.11" font-weight="normal" text-anchor="middle" fill="#2a2a2a" textLength="32.0" lengthAdjust="spacingAndGlyphs">14'-6½&quot;</text>
<rect x="387.4" y="783.0" width="34.0" height="12.0" fill="#bebebe"/>
<text x="404.4" y="793.0" font-family="Liberation Sans" font-size="11.11" font-weight="normal" text-anchor="middle" fill="#2a2a2a" textLength="30.0" lengthAdjust="spacingAndGlyphs">7'-6½&quot;</text>
<rect x="505.4" y="783.0" width="27.0" height="12.0" fill="#bebebe"/>
<text x="518.9" y="793.0" font-family="Liberation Sans" font-size="11.11" font-weight="normal" text-anchor="middle" fill="#2a2a2a" textLength="23.0" lengthAdjust="spacingAndGlyphs">8'-8&quot;</text>
<rect x="620.6" y="783.0" width="26.0" height="12.0" fill="#fff"/>
<text x="633.6" y="793.0" font-family="Liberation Sans" font-size="11.11" font-weight="normal" text-anchor="middle" fill="#2a2a2a" textLength="22.0" lengthAdjust="spacingAndGlyphs">8'-0&quot;</text>
<rect x="728.6" y="783.0" width="26.0" height="12.0" fill="#bebebe"/>
<text x="741.6" y="793.0" font-family="Liberation Sans" font-size="11.11" font-weight="normal" text-anchor="middle" fill="#2a2a2a" textLength="22.0" lengthAdjust="spacingAndGlyphs">7'-5&quot;</text>
<line x1="58.8" y1="900.1" x2="793.0" y2="900.1" stroke="#000" stroke-width="1.2"/>
<line x1="58.8" y1="871.1" x2="58.8" y2="905.1" stroke="#000" stroke-width="1.2"/>
<line x1="149.0" y1="871.1" x2="149.0" y2="905.1" stroke="#000" stroke-width="1.2"/>
<line x1="254.1" y1="871.1" x2="254.1" y2="905.1" stroke="#000" stroke-width="1.2"/>
<line x1="355.5" y1="871.1" x2="355.5" y2="905.1" stroke="#000" stroke-width="1.2"/>
<line x1="461.3" y1="871.1" x2="461.3" y2="905.1" stroke="#000" stroke-width="1.2"/>
<line x1="577.7" y1="871.1" x2="577.7" y2="905.1" stroke="#000" stroke-width="1.2"/>
<line x1="634.0" y1="871.1" x2="634.0" y2="905.1" stroke="#000" stroke-width="1.2"/>
<line x1="689.6" y1="871.1" x2="689.6" y2="905.1" stroke="#000" stroke-width="1.2"/>
<line x1="793.0" y1="871.1" x2="793.0" y2="905.1" stroke="#000" stroke-width="1.2"/>
<polygon points="58.8,900.1 64.8,897.9 64.8,902.3" fill="#000"/>
<polygon points="149.0,900.1 143.0,897.9 143.0,902.3" fill="#000"/>
<polygon points="149.0,900.1 155.0,897.9 155.0,902.3" fill="#000"/>
<polygon points="254.1,900.1 248.1,897.9 248.1,902.3" fill="#000"/>
<polygon points="254.1,900.1 260.1,897.9 260.1,902.3" fill="#000"/>
<polygon points="355.5,900.1 349.5,897.9 349.5,902.3" fill="#000"/>
<polygon points="355.5,900.1 361.5,897.9 361.5,902.3" fill="#000"/>
<polygon points="461.3,900.1 455.3,897.9 455.3,902.3" fill="#000"/>
<polygon points="461.3,900.1 467.3,897.9 467.3,902.3" fill="#000"/>
<polygon points="577.7,900.1 571.7,897.9 571.7,902.3" fill="#000"/>
<polygon points="577.7,900.1 583.7,897.9 583.7,902.3" fill="#000"/>
<polygon points="634.0,900.1 628.0,897.9 628.0,902.3" fill="#000"/>
<polygon points="634.0,900.1 640.0,897.9 640.0,902.3" fill="#000"/>
<polygon points="689.6,900.1 683.6,897.9 683.6,902.3" fill="#000"/>
<polygon points="689.6,900.1 695.6,897.9 695.6,902.3" fill="#000"/>
<polygon points="793.0,900.1 787.0,897.9 787.0,902.3" fill="#000"/>
<rect x="89.5" y="894.1" width="28.0" height="12.0" fill="#bebebe"/>
<text x="103.5" y="904.1" font-family="Liberation Sans" font-size="11.11" font-weight="normal" text-anchor="middle" fill="#2a2a2a" textLength="24.0" lengthAdjust="spacingAndGlyphs">6'-5&quot;</text>
<rect x="184.0" y="894.1" width="34.0" height="12.0" fill="#bebebe"/>
<text x="201.0" y="904.1" font-family="Liberation Sans" font-size="11.11" font-weight="normal" text-anchor="middle" fill="#2a2a2a" textLength="30.0" lengthAdjust="spacingAndGlyphs">7'-6½&quot;</text>
<rect x="287.5" y="894.1" width="34.0" height="12.0" fill="#bebebe"/>
<text x="304.5" y="904.1" font-family="Liberation Sans" font-size="11.11" font-weight="normal" text-anchor="middle" fill="#2a2a2a" textLength="30.0" lengthAdjust="spacingAndGlyphs">7'-3½&quot;</text>
<rect x="391.0" y="894.1" width="34.0" height="12.0" fill="#bebebe"/>
<text x="408.0" y="904.1" font-family="Liberation Sans" font-size="11.11" font-weight="normal" text-anchor="middle" fill="#2a2a2a" textLength="30.0" lengthAdjust="spacingAndGlyphs">7'-6½&quot;</text>
<rect x="501.9" y="894.1" width="34.0" height="12.0" fill="#bebebe"/>
<text x="518.9" y="904.1" font-family="Liberation Sans" font-size="11.11" font-weight="normal" text-anchor="middle" fill="#2a2a2a" textLength="30.0" lengthAdjust="spacingAndGlyphs">8'-4½&quot;</text>
<rect x="593.2" y="894.1" width="24.0" height="12.0" fill="#bebebe"/>
<text x="605.2" y="904.1" font-family="Liberation Sans" font-size="11.11" font-weight="normal" text-anchor="middle" fill="#2a2a2a" textLength="20.0" lengthAdjust="spacingAndGlyphs">4'-0&quot;</text>
<rect x="649.6" y="894.1" width="24.0" height="12.0" fill="#bebebe"/>
<text x="661.6" y="904.1" font-family="Liberation Sans" font-size="11.11" font-weight="normal" text-anchor="middle" fill="#2a2a2a" textLength="20.0" lengthAdjust="spacingAndGlyphs">4'-0&quot;</text>
<rect x="728.7" y="894.1" width="26.0" height="12.0" fill="#bebebe"/>
<text x="741.7" y="904.1" font-family="Liberation Sans" font-size="11.11" font-weight="normal" text-anchor="middle" fill="#2a2a2a" textLength="22.0" lengthAdjust="spacingAndGlyphs">7'-5&quot;</text>
<line x1="58.8" y1="920.6" x2="793.0" y2="920.6" stroke="#000" stroke-width="1.2"/>
<line x1="58.8" y1="914.6" x2="58.8" y2="932.6" stroke="#000" stroke-width="1.2"/>
<line x1="793.0" y1="914.6" x2="793.0" y2="932.6" stroke="#000" stroke-width="1.2"/>
<polygon points="58.8,920.6 64.8,918.4 64.8,922.8" fill="#000"/>
<polygon points="793.0,920.6 787.0,918.4 787.0,922.8" fill="#000"/>
<rect x="404.5" y="913.1" width="43.0" height="15.0" fill="#bebebe"/>
<text x="426.0" y="926.1" font-family="Liberation Sans" font-size="15.28" font-weight="normal" text-anchor="middle" fill="#2a2a2a" textLength="39.0" lengthAdjust="spacingAndGlyphs">52'-7&quot;</text>
<line x1="301.2" y1="382.6" x2="301.2" y2="472.8" stroke="#000" stroke-width="1.2"/>
<line x1="296.2" y1="382.6" x2="306.2" y2="382.6" stroke="#000" stroke-width="1.2"/>
<line x1="296.2" y1="424.7" x2="306.2" y2="424.7" stroke="#000" stroke-width="1.2"/>
<line x1="296.2" y1="472.8" x2="306.2" y2="472.8" stroke="#000" stroke-width="1.2"/>
<polygon points="301.2,382.6 299.0,388.6 303.4,388.6" fill="#000"/>
<polygon points="301.2,424.7 299.0,418.7 303.4,418.7" fill="#000"/>
<polygon points="301.2,424.7 299.0,430.7 303.4,430.7" fill="#000"/>
<polygon points="301.2,472.8 299.0,466.8 303.4,466.8" fill="#000"/>
<rect x="288.2" y="397.6" width="26.0" height="12.0" fill="#fff" transform="rotate(-90 301.2 403.6)"/>
<text x="301.2" y="407.6" font-family="Liberation Sans" font-size="11.11" font-weight="normal" text-anchor="middle" fill="#2a2a2a" textLength="22.0" lengthAdjust="spacingAndGlyphs" transform="rotate(-90 301.2 403.6)">3'-0&quot;</text>
<rect x="285.2" y="442.7" width="32.0" height="12.0" fill="#fff" transform="rotate(-90 301.2 448.7)"/>
<text x="301.2" y="452.7" font-family="Liberation Sans" font-size="11.11" font-weight="normal" text-anchor="middle" fill="#2a2a2a" textLength="28.0" lengthAdjust="spacingAndGlyphs" transform="rotate(-90 301.2 448.7)">3'-8½&quot;</text>
<line x1="301.7" y1="477.8" x2="301.7" y2="853.8" stroke="#000" stroke-width="1.2"/>
<line x1="296.7" y1="477.8" x2="306.7" y2="477.8" stroke="#000" stroke-width="1.2"/>
<line x1="296.7" y1="853.8" x2="306.7" y2="853.8" stroke="#000" stroke-width="1.2"/>
<polygon points="301.7,477.8 299.5,483.8 303.9,483.8" fill="#000"/>
<polygon points="301.7,853.8 299.5,847.8 303.9,847.8" fill="#000"/>
<rect x="283.7" y="661.7" width="36.0" height="12.0" fill="#fff" transform="rotate(-90 301.7 667.7)"/>
<text x="301.7" y="671.7" font-family="Liberation Sans" font-size="11.11" font-weight="normal" text-anchor="middle" fill="#2a2a2a" textLength="32.0" lengthAdjust="spacingAndGlyphs" transform="rotate(-90 301.7 667.7)">27'-3½&quot;</text>
<line x1="339.2" y1="477.8" x2="339.2" y2="853.8" stroke="#000" stroke-width="1.2"/>
<line x1="333.2" y1="477.8" x2="345.2" y2="477.8" stroke="#000" stroke-width="1.2"/>
<line x1="333.2" y1="527.9" x2="345.2" y2="527.9" stroke="#000" stroke-width="1.2"/>
<line x1="333.2" y1="853.8" x2="345.2" y2="853.8" stroke="#000" stroke-width="1.2"/>
<polygon points="339.2,477.8 337.0,483.8 341.4,483.8" fill="#000"/>
<polygon points="339.2,527.9 337.0,521.9 341.4,521.9" fill="#000"/>
<polygon points="339.2,527.9 337.0,533.9 341.4,533.9" fill="#000"/>
<polygon points="339.2,853.8 337.0,847.8 341.4,847.8" fill="#000"/>
<rect x="323.2" y="496.8" width="32.0" height="12.0" fill="#fff" transform="rotate(-90 339.2 502.8)"/>
<text x="339.2" y="506.8" font-family="Liberation Sans" font-size="11.11" font-weight="normal" text-anchor="middle" fill="#2a2a2a" textLength="28.0" lengthAdjust="spacingAndGlyphs" transform="rotate(-90 339.2 502.8)">3'-8½&quot;</text>
<rect x="321.2" y="684.0" width="36.0" height="12.0" fill="#fff" transform="rotate(-90 339.2 690.0)"/>
<text x="339.2" y="694.0" font-family="Liberation Sans" font-size="11.11" font-weight="normal" text-anchor="middle" fill="#2a2a2a" textLength="32.0" lengthAdjust="spacingAndGlyphs" transform="rotate(-90 339.2 690.0)">23'-3½&quot;</text>
<line x1="396.8" y1="387.7" x2="396.8" y2="524.0" stroke="#000" stroke-width="1.2"/>
<line x1="391.8" y1="387.7" x2="401.8" y2="387.7" stroke="#000" stroke-width="1.2"/>
<line x1="391.8" y1="422.7" x2="401.8" y2="422.7" stroke="#000" stroke-width="1.2"/>
<line x1="391.8" y1="524.0" x2="401.8" y2="524.0" stroke="#000" stroke-width="1.2"/>
<polygon points="396.8,387.7 394.6,393.7 399.0,393.7" fill="#000"/>
<polygon points="396.8,422.7 394.6,416.7 399.0,416.7" fill="#000"/>
<polygon points="396.8,422.7 394.6,428.7 399.0,428.7" fill="#000"/>
<polygon points="396.8,524.0 394.6,518.0 399.0,518.0" fill="#000"/>
<text x="403.8" y="409.0" font-family="Liberation Sans" font-size="11.11" font-weight="normal" text-anchor="middle" fill="#2a2a2a" textLength="28.0" lengthAdjust="spacingAndGlyphs" transform="rotate(-90 403.8 405.0)">2'-8½&quot;</text>
<rect x="383.8" y="464.0" width="26.0" height="12.0" fill="#fff" transform="rotate(-90 396.8 470.0)"/>
<text x="396.8" y="474.0" font-family="Liberation Sans" font-size="11.11" font-weight="normal" text-anchor="middle" fill="#2a2a2a" textLength="22.0" lengthAdjust="spacingAndGlyphs" transform="rotate(-90 396.8 470.0)">7'-5&quot;</text>
<line x1="493.3" y1="387.2" x2="493.3" y2="475.3" stroke="#000" stroke-width="1.2"/>
<line x1="488.3" y1="387.2" x2="498.3" y2="387.2" stroke="#000" stroke-width="1.2"/>
<line x1="488.3" y1="475.3" x2="498.3" y2="475.3" stroke="#000" stroke-width="1.2"/>
<polygon points="493.3,387.2 491.1,393.2 495.5,393.2" fill="#000"/>
<polygon points="493.3,475.3 491.1,469.3 495.5,469.3" fill="#000"/>
<rect x="477.3" y="425.0" width="32.0" height="12.0" fill="#fff" transform="rotate(-90 493.3 431.0)"/>
<text x="493.3" y="435.0" font-family="Liberation Sans" font-size="11.11" font-weight="normal" text-anchor="middle" fill="#2a2a2a" textLength="28.0" lengthAdjust="spacingAndGlyphs" transform="rotate(-90 493.3 431.0)">6'-7½&quot;</text>
<line x1="493.3" y1="479.5" x2="493.3" y2="524.0" stroke="#000" stroke-width="1.2"/>
<line x1="488.3" y1="479.5" x2="498.3" y2="479.5" stroke="#000" stroke-width="1.2"/>
<line x1="488.3" y1="524.0" x2="498.3" y2="524.0" stroke="#000" stroke-width="1.2"/>
<polygon points="493.3,479.5 491.1,485.5 495.5,485.5" fill="#000"/>
<polygon points="493.3,524.0 491.1,518.0 495.5,518.0" fill="#000"/>
<rect x="480.8" y="496.0" width="25.0" height="12.0" fill="#fff" transform="rotate(-90 493.3 502.0)"/>
<text x="493.3" y="506.0" font-family="Liberation Sans" font-size="11.11" font-weight="normal" text-anchor="middle" fill="#2a2a2a" textLength="21.0" lengthAdjust="spacingAndGlyphs" transform="rotate(-90 493.3 502.0)">3'-6&quot;</text>
<line x1="493.3" y1="527.9" x2="493.3" y2="659.4" stroke="#000" stroke-width="1.2"/>
<line x1="488.3" y1="527.9" x2="498.3" y2="527.9" stroke="#000" stroke-width="1.2"/>
<line x1="488.3" y1="659.4" x2="498.3" y2="659.4" stroke="#000" stroke-width="1.2"/>
<polygon points="493.3,527.9 491.1,533.9 495.5,533.9" fill="#000"/>
<polygon points="493.3,659.4 491.1,653.4 495.5,653.4" fill="#000"/>
<rect x="477.3" y="592.8" width="32.0" height="12.0" fill="#fff" transform="rotate(-90 493.3 598.8)"/>
<text x="493.3" y="602.8" font-family="Liberation Sans" font-size="11.11" font-weight="normal" text-anchor="middle" fill="#2a2a2a" textLength="28.0" lengthAdjust="spacingAndGlyphs" transform="rotate(-90 493.3 598.8)">9'-8½&quot;</text>
<line x1="471.3" y1="527.9" x2="471.3" y2="659.4" stroke="#000" stroke-width="1.2"/>
<line x1="465.3" y1="527.9" x2="477.3" y2="527.9" stroke="#000" stroke-width="1.2"/>
<line x1="465.3" y1="595.0" x2="477.3" y2="595.0" stroke="#000" stroke-width="1.2"/>
<line x1="465.3" y1="659.4" x2="477.3" y2="659.4" stroke="#000" stroke-width="1.2"/>
<polygon points="471.3,527.9 469.1,533.9 473.5,533.9" fill="#000"/>
<polygon points="471.3,595.0 469.1,589.0 473.5,589.0" fill="#000"/>
<polygon points="471.3,595.0 469.1,601.0 473.5,601.0" fill="#000"/>
<polygon points="471.3,659.4 469.1,653.4 473.5,653.4" fill="#000"/>
<rect x="456.3" y="557.5" width="30.0" height="11.0" fill="#fff" transform="rotate(-90 471.3 563.0)"/>
<text x="471.3" y="566.5" font-family="Liberation Sans" font-size="9.72" font-weight="normal" text-anchor="middle" fill="#2a2a2a" textLength="26.0" lengthAdjust="spacingAndGlyphs" transform="rotate(-90 471.3 563.0)">4'-9½&quot;</text>
<rect x="456.3" y="621.5" width="30.0" height="11.0" fill="#fff" transform="rotate(-90 471.3 627.0)"/>
<text x="471.3" y="630.5" font-family="Liberation Sans" font-size="9.72" font-weight="normal" text-anchor="middle" fill="#2a2a2a" textLength="26.0" lengthAdjust="spacingAndGlyphs" transform="rotate(-90 471.3 627.0)">4'-7½&quot;</text>
<line x1="614.8" y1="568.8" x2="614.8" y2="849.4" stroke="#000" stroke-width="1.2"/>
<line x1="604.8" y1="568.8" x2="624.8" y2="568.8" stroke="#000" stroke-width="1.2"/>
<line x1="604.8" y1="765.3" x2="624.8" y2="765.3" stroke="#000" stroke-width="1.2"/>
<line x1="604.8" y1="849.4" x2="624.8" y2="849.4" stroke="#000" stroke-width="1.2"/>
<polygon points="614.8,568.8 612.6,574.8 617.0,574.8" fill="#000"/>
<polygon points="614.8,765.3 612.6,759.3 617.0,759.3" fill="#000"/>
<polygon points="614.8,765.3 612.6,771.3 617.0,771.3" fill="#000"/>
<polygon points="614.8,849.4 612.6,843.4 617.0,843.4" fill="#000"/>
<rect x="601.8" y="659.0" width="26.0" height="12.0" fill="#fff" transform="rotate(-90 614.8 665.0)"/>
<text x="614.8" y="669.0" font-family="Liberation Sans" font-size="11.11" font-weight="normal" text-anchor="middle" fill="#2a2a2a" textLength="22.0" lengthAdjust="spacingAndGlyphs" transform="rotate(-90 614.8 665.0)">14'-5&quot;</text>
<rect x="598.8" y="803.0" width="32.0" height="12.0" fill="#fff" transform="rotate(-90 614.8 809.0)"/>
<text x="614.8" y="813.0" font-family="Liberation Sans" font-size="11.11" font-weight="normal" text-anchor="middle" fill="#2a2a2a" textLength="28.0" lengthAdjust="spacingAndGlyphs" transform="rotate(-90 614.8 809.0)">6'-3½&quot;</text>
<line x1="493.3" y1="663.2" x2="493.3" y2="761.9" stroke="#000" stroke-width="1.2"/>
<line x1="488.3" y1="663.2" x2="498.3" y2="663.2" stroke="#000" stroke-width="1.2"/>
<line x1="488.3" y1="761.9" x2="498.3" y2="761.9" stroke="#000" stroke-width="1.2"/>
<polygon points="493.3,663.2 491.1,669.2 495.5,669.2" fill="#000"/>
<polygon points="493.3,761.9 491.1,755.9 495.5,755.9" fill="#000"/>
<text x="493.3" y="713.5" font-family="Liberation Sans" font-size="9.72" font-weight="normal" text-anchor="middle" fill="#2a2a2a" textLength="28.0" lengthAdjust="spacingAndGlyphs" transform="rotate(-90 493.3 710.0)">7'-3½&quot;</text>
<line x1="461.3" y1="460.3" x2="561.4" y2="460.3" stroke="#000" stroke-width="1.2"/>
<line x1="461.3" y1="455.3" x2="461.3" y2="465.3" stroke="#000" stroke-width="1.2"/>
<line x1="503.0" y1="455.3" x2="503.0" y2="465.3" stroke="#000" stroke-width="1.2"/>
<line x1="561.4" y1="455.3" x2="561.4" y2="465.3" stroke="#000" stroke-width="1.2"/>
<polygon points="461.3,460.3 467.3,458.1 467.3,462.5" fill="#000"/>
<polygon points="503.0,460.3 497.0,458.1 497.0,462.5" fill="#000"/>
<polygon points="503.0,460.3 509.0,458.1 509.0,462.5" fill="#000"/>
<polygon points="561.4,460.3 555.4,458.1 555.4,462.5" fill="#000"/>
<rect x="466.0" y="454.8" width="24.0" height="11.0" fill="#fff"/>
<text x="478.0" y="463.8" font-family="Liberation Sans" font-size="9.72" font-weight="normal" text-anchor="middle" fill="#2a2a2a" textLength="20.0" lengthAdjust="spacingAndGlyphs">3'-3½&quot;</text>
<rect x="518.0" y="454.8" width="22.0" height="11.0" fill="#fff"/>
<text x="529.0" y="463.8" font-family="Liberation Sans" font-size="9.72" font-weight="normal" text-anchor="middle" fill="#2a2a2a" textLength="18.0" lengthAdjust="spacingAndGlyphs">4'-2&quot;</text>
<text x="123.5" y="485.5" font-family="Liberation Sans" font-size="8.33" font-weight="normal" text-anchor="middle" fill="#2a2a2a" textLength="18.0" lengthAdjust="spacingAndGlyphs" transform="rotate(-90 123.5 482.5)">3'-0&quot;</text>
<line x1="128.5" y1="471.5" x2="128.5" y2="493.5" stroke="#000" stroke-width="0.9"/>
<text x="134.0" y="485.5" font-family="Liberation Sans" font-size="8.33" font-weight="normal" text-anchor="middle" fill="#2a2a2a" textLength="18.0" lengthAdjust="spacingAndGlyphs" transform="rotate(-90 134.0 482.5)">6'-8&quot;</text>
<text x="570.0" y="448.0" font-family="Liberation Sans" font-size="8.33" font-weight="normal" text-anchor="middle" fill="#2a2a2a" textLength="18.0" lengthAdjust="spacingAndGlyphs">2'-4&quot;</text>
<line x1="559.0" y1="450.0" x2="581.0" y2="450.0" stroke="#000" stroke-width="0.9"/>
<text x="570.0" y="458.5" font-family="Liberation Sans" font-size="8.33" font-weight="normal" text-anchor="middle" fill="#2a2a2a" textLength="18.0" lengthAdjust="spacingAndGlyphs">6'-8&quot;</text>
<text x="467.5" y="500.0" font-family="Liberation Sans" font-size="8.33" font-weight="normal" text-anchor="middle" fill="#2a2a2a" textLength="18.0" lengthAdjust="spacingAndGlyphs">2'-4&quot;</text>
<line x1="456.5" y1="502.0" x2="478.5" y2="502.0" stroke="#000" stroke-width="0.9"/>
<text x="467.5" y="510.5" font-family="Liberation Sans" font-size="8.33" font-weight="normal" text-anchor="middle" fill="#2a2a2a" textLength="18.0" lengthAdjust="spacingAndGlyphs">6'-8&quot;</text>
<text x="527.0" y="523.0" font-family="Liberation Sans" font-size="8.33" font-weight="normal" text-anchor="middle" fill="#2a2a2a" textLength="18.0" lengthAdjust="spacingAndGlyphs" transform="rotate(-90 527.0 520.0)">3'-0&quot;</text>
<line x1="532.0" y1="509.0" x2="532.0" y2="531.0" stroke="#000" stroke-width="0.9"/>
<text x="537.5" y="523.0" font-family="Liberation Sans" font-size="8.33" font-weight="normal" text-anchor="middle" fill="#2a2a2a" textLength="18.0" lengthAdjust="spacingAndGlyphs" transform="rotate(-90 537.5 520.0)">6'-8&quot;</text>
<text x="362.0" y="559.5" font-family="Liberation Sans" font-size="8.33" font-weight="normal" text-anchor="middle" fill="#2a2a2a" textLength="20.0" lengthAdjust="spacingAndGlyphs">3'-0&quot;</text>
<line x1="350.0" y1="561.5" x2="374.0" y2="561.5" stroke="#000" stroke-width="0.9"/>
<text x="362.0" y="570.0" font-family="Liberation Sans" font-size="8.33" font-weight="normal" text-anchor="middle" fill="#2a2a2a" textLength="20.0" lengthAdjust="spacingAndGlyphs">6'-8&quot;</text>
<text x="429.5" y="538.0" font-family="Liberation Sans" font-size="8.33" font-weight="normal" text-anchor="middle" fill="#2a2a2a" textLength="18.0" lengthAdjust="spacingAndGlyphs" transform="rotate(-90 429.5 535.0)">3'-0&quot;</text>
<line x1="434.5" y1="524.0" x2="434.5" y2="546.0" stroke="#000" stroke-width="0.9"/>
<text x="440.0" y="538.0" font-family="Liberation Sans" font-size="8.33" font-weight="normal" text-anchor="middle" fill="#2a2a2a" textLength="18.0" lengthAdjust="spacingAndGlyphs" transform="rotate(-90 440.0 535.0)">6'-8&quot;</text>
<text x="570.0" y="592.3" font-family="Liberation Sans" font-size="8.33" font-weight="normal" text-anchor="middle" fill="#2a2a2a" textLength="18.0" lengthAdjust="spacingAndGlyphs">3'-0&quot;</text>
<line x1="559.0" y1="594.3" x2="581.0" y2="594.3" stroke="#000" stroke-width="0.9"/>
<text x="570.0" y="602.8" font-family="Liberation Sans" font-size="8.33" font-weight="normal" text-anchor="middle" fill="#2a2a2a" textLength="18.0" lengthAdjust="spacingAndGlyphs">6'-8&quot;</text>
<text x="551.0" y="707.0" font-family="Liberation Sans" font-size="8.33" font-weight="normal" text-anchor="middle" fill="#2a2a2a" textLength="18.0" lengthAdjust="spacingAndGlyphs">2'-4&quot;</text>
<line x1="540.0" y1="709.0" x2="562.0" y2="709.0" stroke="#000" stroke-width="0.9"/>
<text x="551.0" y="717.5" font-family="Liberation Sans" font-size="8.33" font-weight="normal" text-anchor="middle" fill="#2a2a2a" textLength="18.0" lengthAdjust="spacingAndGlyphs">6'-8&quot;</text>
<text x="359.3" y="200.5" font-family="Liberation Sans" font-size="13.89" font-weight="normal" text-anchor="start" fill="#2a2a2a" textLength="190.0" lengthAdjust="spacingAndGlyphs">LINE OF BRICK WALL BELOW</text>
<rect x="361.0" y="333.3" width="123.6" height="12.0" fill="#fff"/>
<text x="363.0" y="343.3" font-family="Liberation Sans" font-size="11.11" font-weight="normal" text-anchor="start" fill="#2a2a2a" textLength="119.6" lengthAdjust="spacingAndGlyphs">APPROX LINE OF 8' CEILING</text>
<text x="212.8" y="410.0" font-family="Liberation Sans" font-size="13.89" font-weight="normal" text-anchor="middle" fill="#2a2a2a" textLength="35.0" lengthAdjust="spacingAndGlyphs">ATTIC</text>
<text x="212.8" y="428.0" font-family="Liberation Sans" font-size="13.89" font-weight="normal" text-anchor="middle" fill="#2a2a2a" textLength="61.0" lengthAdjust="spacingAndGlyphs">STORAGE</text>
<text x="429.4" y="445.2" font-family="Liberation Sans" font-size="13.89" font-weight="normal" text-anchor="middle" fill="#2a2a2a" textLength="33.0" lengthAdjust="spacingAndGlyphs">BATH</text>
<line x1="412.9" y1="448.2" x2="445.9" y2="448.2" stroke="#2a2a2a" stroke-width="1.1"/>
<text x="528.9" y="429.7" font-family="Liberation Sans" font-size="13.89" font-weight="normal" text-anchor="middle" fill="#2a2a2a" textLength="24.0" lengthAdjust="spacingAndGlyphs">WIC</text>
<line x1="516.9" y1="432.7" x2="540.9" y2="432.7" stroke="#2a2a2a" stroke-width="1.1"/>
<text x="670.8" y="478.3" font-family="Liberation Sans" font-size="13.89" font-weight="normal" text-anchor="middle" fill="#2a2a2a" textLength="64.0" lengthAdjust="spacingAndGlyphs">BEDROOM</text>
<line x1="638.8" y1="481.3" x2="702.8" y2="481.3" stroke="#2a2a2a" stroke-width="1.1"/>
<text x="670.8" y="496.6" font-family="Liberation Sans" font-size="13.89" font-weight="normal" text-anchor="middle" fill="#2a2a2a" textLength="12.0" lengthAdjust="spacingAndGlyphs">#1</text>
<line x1="664.8" y1="499.6" x2="676.8" y2="499.6" stroke="#2a2a2a" stroke-width="1.1"/>
<text x="481.3" y="505.5" font-family="Liberation Sans" font-size="9.72" font-weight="normal" text-anchor="middle" fill="#2a2a2a" textLength="24.0" lengthAdjust="spacingAndGlyphs" transform="rotate(-90 481.3 502.0)">LINEN</text>
<text x="530.0" y="620.6" font-family="Liberation Sans" font-size="13.89" font-weight="normal" text-anchor="middle" fill="#2a2a2a" textLength="36.0" lengthAdjust="spacingAndGlyphs">LOFT</text>
<line x1="512.0" y1="623.6" x2="548.0" y2="623.6" stroke="#2a2a2a" stroke-width="1.1"/>
<text x="712.4" y="658.9" font-family="Liberation Sans" font-size="13.89" font-weight="normal" text-anchor="middle" fill="#2a2a2a" textLength="64.0" lengthAdjust="spacingAndGlyphs">BEDROOM</text>
<line x1="680.4" y1="661.9" x2="744.4" y2="661.9" stroke="#2a2a2a" stroke-width="1.1"/>
<text x="712.4" y="675.2" font-family="Liberation Sans" font-size="13.89" font-weight="normal" text-anchor="middle" fill="#2a2a2a" textLength="15.0" lengthAdjust="spacingAndGlyphs">#2</text>
<line x1="704.9" y1="678.2" x2="719.9" y2="678.2" stroke="#2a2a2a" stroke-width="1.1"/>
<text x="513.0" y="714.0" font-family="Liberation Sans" font-size="13.89" font-weight="normal" text-anchor="middle" fill="#2a2a2a" textLength="24.0" lengthAdjust="spacingAndGlyphs">WIC</text>
<line x1="501.0" y1="717.0" x2="525.0" y2="717.0" stroke="#2a2a2a" stroke-width="1.1"/>
<text x="389.3" y="601.1" font-family="Liberation Sans" font-size="9.72" font-weight="normal" text-anchor="middle" fill="#2a2a2a" textLength="33.0" lengthAdjust="spacingAndGlyphs">RAILING</text>
<text x="433.9" y="591.5" font-family="Liberation Sans" font-size="9.72" font-weight="normal" text-anchor="middle" fill="#2a2a2a" textLength="10.0" lengthAdjust="spacingAndGlyphs">DN</text>
<text x="383.8" y="659.6" font-family="Liberation Sans" font-size="13.89" font-weight="normal" text-anchor="middle" fill="#2a2a2a" textLength="35.0" lengthAdjust="spacingAndGlyphs">OPEN</text>
<line x1="366.3" y1="662.6" x2="401.3" y2="662.6" stroke="#2a2a2a" stroke-width="1.1"/>
<text x="383.8" y="677.7" font-family="Liberation Sans" font-size="13.89" font-weight="normal" text-anchor="middle" fill="#2a2a2a" textLength="16.0" lengthAdjust="spacingAndGlyphs">TO</text>
<line x1="375.8" y1="680.7" x2="391.8" y2="680.7" stroke="#2a2a2a" stroke-width="1.1"/>
<text x="383.8" y="695.2" font-family="Liberation Sans" font-size="13.89" font-weight="normal" text-anchor="middle" fill="#2a2a2a" textLength="42.0" lengthAdjust="spacingAndGlyphs">FOYER</text>
<line x1="362.8" y1="698.2" x2="404.8" y2="698.2" stroke="#2a2a2a" stroke-width="1.1"/>
<text x="383.8" y="712.2" font-family="Liberation Sans" font-size="13.89" font-weight="normal" text-anchor="middle" fill="#2a2a2a" textLength="47.0" lengthAdjust="spacingAndGlyphs">BELOW</text>
<line x1="360.3" y1="715.2" x2="407.3" y2="715.2" stroke="#2a2a2a" stroke-width="1.1"/>
<text x="259.0" y="654.0" font-family="Liberation Sans" font-size="13.89" font-weight="normal" text-anchor="middle" fill="#2a2a2a" textLength="44.0" lengthAdjust="spacingAndGlyphs">BONUS</text>
<line x1="237.0" y1="657.0" x2="281.0" y2="657.0" stroke="#2a2a2a" stroke-width="1.1"/>
<text x="259.0" y="671.4" font-family="Liberation Sans" font-size="13.89" font-weight="normal" text-anchor="middle" fill="#2a2a2a" textLength="38.0" lengthAdjust="spacingAndGlyphs">ROOM</text>
<line x1="240.0" y1="674.4" x2="278.0" y2="674.4" stroke="#2a2a2a" stroke-width="1.1"/>
<text x="259.0" y="686.5" font-family="Liberation Sans" font-size="13.89" font-weight="normal" text-anchor="middle" fill="#2a2a2a" textLength="54.0" lengthAdjust="spacingAndGlyphs">441 sq ft</text>
<text x="674.0" y="719.7" font-family="Liberation Sans" font-size="11.11" font-weight="normal" text-anchor="start" fill="#2a2a2a" textLength="120.0" lengthAdjust="spacingAndGlyphs">APPROX LINE OF 8' CEILING</text>
<text x="700.7" y="844.5" font-family="Liberation Sans" font-size="18.06" font-weight="normal" text-anchor="start" fill="#2a2a2a" textLength="83.0" lengthAdjust="spacingAndGlyphs">819 sq ft</text>
<circle cx="20.0" cy="1035.3" r="17.5" fill="none" stroke="#666" stroke-width="1.0"/>
<line x1="37.6" y1="1035.3" x2="907.0" y2="1035.3" stroke="#888" stroke-width="1.0"/>
<text x="51.3" y="1029.0" font-family="Liberation Sans" font-size="15.28" font-weight="normal" text-anchor="start" fill="#2a2a2a" textLength="166.0" lengthAdjust="spacingAndGlyphs">SECOND FLOOR PLAN</text>
<text x="51.3" y="1050.0" font-family="Liberation Sans" font-size="15.28" font-weight="normal" text-anchor="start" fill="#2a2a2a" textLength="80.0" lengthAdjust="spacingAndGlyphs">SCALE: 1/4&quot;</text>
<line x1="152.0" y1="1044.0" x2="158.0" y2="1044.0" stroke="#000" stroke-width="1.2"/>
<line x1="152.0" y1="1047.5" x2="158.0" y2="1047.5" stroke="#000" stroke-width="1.2"/>
<text x="185.0" y="1050.0" font-family="Liberation Sans" font-size="15.28" font-weight="normal" text-anchor="start" fill="#2a2a2a" textLength="24.0" lengthAdjust="spacingAndGlyphs">1'-0&quot;</text>
<line x1="952.5" y1="39.3" x2="1066.5" y2="39.3" stroke="#000" stroke-width="1.3"/>
<line x1="1079.7" y1="39.3" x2="1345.6" y2="39.3" stroke="#000" stroke-width="1.3"/>
<line x1="1359.4" y1="39.3" x2="1886.2" y2="39.3" stroke="#000" stroke-width="1.3"/>
<rect x="1079.7" y="39.3" width="12.6" height="12.5" fill="#000" stroke="none"/>
<rect x="1333.1" y="39.3" width="12.5" height="12.5" fill="#000" stroke="none"/>
<line x1="1092.3" y1="51.8" x2="1333.1" y2="51.8" stroke="#222" stroke-width="1.0" stroke-dasharray="7,3,2,3"/>
<line x1="1091.5" y1="51.8" x2="1091.5" y2="207.3" stroke="#222" stroke-width="1.0" stroke-dasharray="7,3,2,3"/>
<line x1="1333.6" y1="51.8" x2="1333.6" y2="207.3" stroke="#222" stroke-width="1.0" stroke-dasharray="7,3,2,3"/>
<line x1="1079.7" y1="39.3" x2="1079.7" y2="207.3" stroke="#000" stroke-width="1.2"/>
<line x1="1345.6" y1="39.3" x2="1345.6" y2="207.3" stroke="#000" stroke-width="1.2"/>
<rect x="1080.7" y="207.7" width="72.2" height="5.8" fill="url(#h)" stroke="none"/>
<rect x="1281.9" y="207.7" width="510.1" height="5.8" fill="url(#h)" stroke="none"/>
<line x1="1079.9" y1="207.3" x2="1152.9" y2="207.3" stroke="#000" stroke-width="1.7"/>
<line x1="1090.4" y1="217.2" x2="1152.9" y2="217.2" stroke="#000" stroke-width="1.7"/>
<rect x="1150.5" y="206.0" width="3.3" height="13.0" fill="#000" stroke="none"/>
<rect x="1153.8" y="209.0" width="2.2" height="8.0" fill="#fff" stroke="#000" stroke-width="1"/>
<line x1="1281.9" y1="207.3" x2="1471.1" y2="207.3" stroke="#000" stroke-width="1.7"/>
<line x1="1513.2" y1="207.3" x2="1630.3" y2="207.3" stroke="#000" stroke-width="1.7"/>
<line x1="1673.6" y1="207.3" x2="1792.4" y2="207.3" stroke="#000" stroke-width="1.7"/>
<line x1="1281.9" y1="217.2" x2="1471.1" y2="217.2" stroke="#000" stroke-width="1.7"/>
<line x1="1513.2" y1="217.2" x2="1630.3" y2="217.2" stroke="#000" stroke-width="1.7"/>
<line x1="1673.6" y1="217.2" x2="1782.4" y2="217.2" stroke="#000" stroke-width="1.7"/>
<rect x="1280.0" y="206.0" width="3.5" height="13.0" fill="#000" stroke="none"/>
<rect x="1278.0" y="209.0" width="2.0" height="8.0" fill="#fff" stroke="#000" stroke-width="1"/>
<polyline points="1471.1,217.2 1472.1,217.2 1472.1,213.0 1474.1,213.0 1474.1,205.4 1510.2,205.4 1510.2,213.0 1512.2,213.0 1512.2,217.2 1513.2,217.2" fill="none" stroke="#000" stroke-width="1.2" stroke-linejoin="miter"/>
<rect x="1475.1" y="206.5" width="34.1" height="3.0" fill="#888" stroke="#000" stroke-width="0.7"/>
<line x1="1475.1" y1="211.5" x2="1509.2" y2="211.5" stroke="#000" stroke-width="0.8"/>
<polyline points="1630.3,217.2 1631.3,217.2 1631.3,213.0 1633.3,213.0 1633.3,205.4 1670.6,205.4 1670.6,213.0 1672.6,213.0 1672.6,217.2 1673.6,217.2" fill="none" stroke="#000" stroke-width="1.2" stroke-linejoin="miter"/>
<rect x="1634.3" y="206.5" width="35.3" height="3.0" fill="#888" stroke="#000" stroke-width="0.7"/>
<line x1="1634.3" y1="211.5" x2="1669.6" y2="211.5" stroke="#000" stroke-width="0.8"/>
<line x1="1168.2" y1="214.8" x2="1266.6" y2="214.8" stroke="#000" stroke-width="1.6"/>
<rect x="1190.0" y="212.5" width="15.0" height="3.5" fill="#333" stroke="none"/>
<rect x="1227.0" y="213.5" width="14.0" height="3.5" fill="#333" stroke="none"/>
<rect x="1786.9" y="213.5" width="5.1" height="314.3" fill="url(#h)" stroke="none"/>
<line x1="1792.4" y1="207.3" x2="1792.4" y2="864.4" stroke="#000" stroke-width="1.7"/>
<polyline points="1782.4,217.2 1782.4,321.7 1786.0,323.3 1786.0,349.1 1782.4,350.7 1782.4,398.6 1786.0,400.5 1786.0,426.3 1782.4,428.0 1782.4,482.5 1786.0,484.5 1786.0,518.4 1782.4,520.0 1782.4,567.0" fill="none" stroke="#000" stroke-width="1.7" stroke-linejoin="miter"/>
<rect x="1781.0" y="321.5" width="5.0" height="28.0" fill="#fff" stroke="#000" stroke-width="1.0"/>
<rect x="1786.0" y="324.5" width="8.3" height="22.0" fill="#fff" stroke="#000" stroke-width="1.0"/>
<line x1="1790.0" y1="324.5" x2="1790.0" y2="346.5" stroke="#000" stroke-width="1.2"/>
<line x1="1781.0" y1="325.5" x2="1786.0" y2="325.5" stroke="#000" stroke-width="0.8"/>
<line x1="1781.0" y1="345.5" x2="1786.0" y2="345.5" stroke="#000" stroke-width="0.8"/>
<rect x="1781.0" y="398.5" width="5.0" height="28.3" fill="#fff" stroke="#000" stroke-width="1.0"/>
<rect x="1786.0" y="401.5" width="8.3" height="22.3" fill="#fff" stroke="#000" stroke-width="1.0"/>
<line x1="1790.0" y1="401.5" x2="1790.0" y2="423.8" stroke="#000" stroke-width="1.2"/>
<line x1="1781.0" y1="402.5" x2="1786.0" y2="402.5" stroke="#000" stroke-width="0.8"/>
<line x1="1781.0" y1="422.8" x2="1786.0" y2="422.8" stroke="#000" stroke-width="0.8"/>
<rect x="1781.0" y="483.0" width="5.0" height="35.8" fill="#fff" stroke="#000" stroke-width="1.0"/>
<rect x="1786.0" y="486.0" width="8.3" height="29.8" fill="#fff" stroke="#000" stroke-width="1.0"/>
<line x1="1790.0" y1="486.0" x2="1790.0" y2="515.8" stroke="#000" stroke-width="1.2"/>
<line x1="1781.0" y1="487.0" x2="1786.0" y2="487.0" stroke="#000" stroke-width="0.8"/>
<line x1="1781.0" y1="514.8" x2="1786.0" y2="514.8" stroke="#000" stroke-width="0.8"/>
<rect x="1786.9" y="527.8" width="5.1" height="39.2" fill="url(#h)" stroke="none"/>
<rect x="1789.5" y="567.0" width="2.9" height="252.0" fill="#fff" stroke="#000" stroke-width="1.0"/>
<rect x="1786.9" y="819.0" width="5.1" height="41.0" fill="url(#h)" stroke="none"/>
<line x1="1782.4" y1="819.0" x2="1782.4" y2="853.7" stroke="#000" stroke-width="1.7"/>
<rect x="1694.4" y="567.6" width="95.6" height="251.1" fill="none" stroke="#777" stroke-width="0.9" stroke-dasharray="5,3"/>
<line x1="1694.4" y1="567.6" x2="1790.0" y2="818.7" stroke="#777" stroke-width="0.9" stroke-dasharray="5,3"/>
<line x1="1790.0" y1="567.6" x2="1694.4" y2="818.7" stroke="#777" stroke-width="0.9" stroke-dasharray="5,3"/>
<rect x="1080.7" y="213.5" width="5.1" height="26.5" fill="url(#h)" stroke="none"/>
<rect x="1080.7" y="281.6" width="5.1" height="22.4" fill="url(#h)" stroke="none"/>
<line x1="1079.9" y1="207.3" x2="1079.9" y2="240.0" stroke="#000" stroke-width="1.7"/>
<line x1="1090.4" y1="217.2" x2="1090.4" y2="240.0" stroke="#000" stroke-width="1.7"/>
<rect x="1078.2" y="240.0" width="6.8" height="41.6" fill="#fff" stroke="#000" stroke-width="1.0"/>
<line x1="1081.6" y1="242.0" x2="1081.6" y2="279.6" stroke="#000" stroke-width="1.5"/>
<line x1="1085.0" y1="240.0" x2="1090.4" y2="240.0" stroke="#000" stroke-width="1.2"/>
<line x1="1085.0" y1="281.6" x2="1090.4" y2="281.6" stroke="#000" stroke-width="1.2"/>
<line x1="1080.7" y1="281.6" x2="1080.7" y2="303.6" stroke="#000" stroke-width="1.7"/>
<line x1="1090.4" y1="281.6" x2="1090.4" y2="314.0" stroke="#000" stroke-width="1.7"/>
<polygon points="1052.2,303.6 1080.7,303.6 1080.7,309.5 1057.7,309.5 1057.7,380.0 1080.7,380.0 1080.7,385.7 1052.2,385.7" fill="url(#h)" stroke="none"/>
<polyline points="1080.7,303.6 1052.2,303.6 1052.2,385.7 1080.2,385.7" fill="none" stroke="#000" stroke-width="1.7" stroke-linejoin="miter"/>
<rect x="1062.0" y="313.8" width="42.5" height="62.1" fill="none" stroke="#000" stroke-width="1.3"/>
<line x1="1057.7" y1="314.0" x2="1062.0" y2="314.0" stroke="#000" stroke-width="1.0"/>
<polyline points="1068.0,333.4 1068.0,354.6 1090.4,368.2 1090.4,375.9" fill="none" stroke="#000" stroke-width="1.1" stroke-linejoin="miter"/>
<line x1="1068.0" y1="333.4" x2="1082.4" y2="324.0" stroke="#000" stroke-width="1.0"/>
<line x1="1090.4" y1="314.0" x2="1090.4" y2="323.0" stroke="#000" stroke-width="1.0"/>
<rect x="1080.7" y="386.0" width="5.1" height="23.0" fill="url(#h)" stroke="none"/>
<rect x="1080.7" y="446.5" width="5.1" height="90.0" fill="url(#h)" stroke="none"/>
<line x1="1080.2" y1="385.7" x2="1080.2" y2="409.0" stroke="#000" stroke-width="1.7"/>
<line x1="1090.4" y1="375.9" x2="1090.4" y2="409.0" stroke="#000" stroke-width="1.7"/>
<rect x="1078.2" y="409.0" width="6.8" height="37.5" fill="#fff" stroke="#000" stroke-width="1.0"/>
<line x1="1081.6" y1="411.0" x2="1081.6" y2="444.5" stroke="#000" stroke-width="1.5"/>
<line x1="1085.0" y1="409.0" x2="1090.4" y2="409.0" stroke="#000" stroke-width="1.2"/>
<line x1="1085.0" y1="446.5" x2="1090.4" y2="446.5" stroke="#000" stroke-width="1.2"/>
<line x1="1080.2" y1="446.5" x2="1080.2" y2="536.5" stroke="#000" stroke-width="1.7"/>
<line x1="1090.3" y1="446.5" x2="1090.3" y2="546.7" stroke="#000" stroke-width="1.7"/>
<rect x="1089.0" y="445.5" width="2.5" height="3.5" fill="#000" stroke="none"/>
<polygon points="1052.2,536.5 1085.5,536.5 1085.5,541.9 1057.7,541.9 1057.7,575.9 1052.9,575.9" fill="url(#h)" stroke="none"/>
<polyline points="1080.2,536.5 1052.2,536.5 1052.2,575.9" fill="none" stroke="#000" stroke-width="1.7" stroke-linejoin="miter"/>
<line x1="1062.4" y1="546.7" x2="1090.3" y2="546.7" stroke="#000" stroke-width="1.7"/>
<line x1="1062.4" y1="546.7" x2="1062.4" y2="575.9" stroke="#000" stroke-width="1.7"/>
<rect x="1050.4" y="575.6" width="12.9" height="89.0" fill="#fff" stroke="#000" stroke-width="1.0"/>
<rect x="1052.6" y="578.0" width="2.8" height="84.0" fill="#555" stroke="#000" stroke-width="0.6"/>
<rect x="1052.0" y="575.6" width="11.3" height="2.9" fill="none" stroke="#000" stroke-width="1.2"/>
<rect x="1052.0" y="661.7" width="11.3" height="2.9" fill="none" stroke="#000" stroke-width="1.2"/>
<polygon points="1052.9,663.9 1057.7,663.9 1057.7,698.5 1080.7,698.5 1080.7,703.8 1052.9,703.8" fill="url(#h)" stroke="none"/>
<line x1="1052.2" y1="663.9" x2="1052.2" y2="703.8" stroke="#000" stroke-width="1.7"/>
<line x1="1062.0" y1="663.9" x2="1062.0" y2="693.2" stroke="#000" stroke-width="1.7"/>
<line x1="1061.7" y1="693.2" x2="1080.7" y2="693.2" stroke="#000" stroke-width="1.7"/>
<line x1="1052.2" y1="703.8" x2="1081.6" y2="703.8" stroke="#000" stroke-width="1.7"/>
<rect x="1079.0" y="692.0" width="2.6" height="12.5" fill="#000" stroke="none"/>
<rect x="1052.2" y="703.8" width="11.6" height="5.4" fill="#000" stroke="none"/>
<line x1="1052.2" y1="709.2" x2="1052.2" y2="947.7" stroke="#000" stroke-width="1.7"/>
<line x1="1063.8" y1="709.2" x2="1063.8" y2="935.1" stroke="#222" stroke-width="1.0" stroke-dasharray="7,3,2,3"/>
<line x1="1057.8" y1="711.4" x2="1057.8" y2="766.6" stroke="#000" stroke-width="1.5"/>
<rect x="1052.0" y="847.5" width="12.0" height="12.5" fill="#000" stroke="none"/>
<rect x="1052.0" y="935.1" width="12.0" height="12.6" fill="#000" stroke="none"/>
<rect x="1139.6" y="935.1" width="12.0" height="12.6" fill="#000" stroke="none"/>
<rect x="1341.4" y="935.1" width="11.7" height="12.6" fill="#000" stroke="none"/>
<rect x="1341.4" y="948.9" width="11.7" height="12.5" fill="#000" stroke="none"/>
<line x1="1064.0" y1="947.7" x2="1341.4" y2="947.7" stroke="#000" stroke-width="1.7"/>
<line x1="1064.0" y1="935.1" x2="1341.4" y2="935.1" stroke="#333" stroke-width="1.0" stroke-dasharray="7,3,2,3"/>
<line x1="1341.3" y1="863.4" x2="1341.3" y2="935.1" stroke="#222" stroke-width="1.0" stroke-dasharray="7,3,2,3"/>
<line x1="1352.9" y1="864.0" x2="1352.9" y2="948.9" stroke="#222" stroke-width="1.0" stroke-dasharray="7,3,2,3"/>
<line x1="1341.3" y1="723.0" x2="1341.3" y2="827.9" stroke="#222" stroke-width="1.0" stroke-dasharray="7,3,2,3"/>
<line x1="1352.9" y1="723.0" x2="1352.9" y2="827.9" stroke="#222" stroke-width="1.0" stroke-dasharray="7,3,2,3"/>
<line x1="1353.1" y1="961.4" x2="1450.1" y2="961.4" stroke="#000" stroke-width="1.3"/>
<line x1="1353.1" y1="949.7" x2="1450.1" y2="949.7" stroke="#333" stroke-width="1.0" stroke-dasharray="7,3,2,3"/>
<rect x="1450.1" y="949.7" width="12.2" height="11.6" fill="#000" stroke="none"/>
<rect x="1621.6" y="935.3" width="11.3" height="12.5" fill="#000" stroke="none"/>
<rect x="1780.6" y="935.3" width="12.1" height="12.5" fill="#000" stroke="none"/>
<line x1="1462.3" y1="864.4" x2="1462.3" y2="961.3" stroke="#000" stroke-width="1.2"/>
<line x1="1450.1" y1="864.4" x2="1450.1" y2="949.7" stroke="#222" stroke-width="1.0" stroke-dasharray="7,3,2,3"/>
<line x1="1780.6" y1="864.4" x2="1780.6" y2="935.3" stroke="#222" stroke-width="1.0" stroke-dasharray="7,3,2,3"/>
<line x1="1462.3" y1="935.3" x2="1780.6" y2="935.3" stroke="#333" stroke-width="1.0" stroke-dasharray="7,3,2,3"/>
<line x1="1462.3" y1="947.8" x2="1780.6" y2="947.8" stroke="#000" stroke-width="1.7"/>
<polygon points="1121.5,697.0 1141.9,697.0 1141.9,715.7 1136.0,715.7 1136.0,702.9 1121.5,702.9" fill="url(#h)" stroke="none"/>
<line x1="1119.8" y1="692.7" x2="1163.9" y2="692.7" stroke="#000" stroke-width="1.7"/>
<line x1="1121.5" y1="702.9" x2="1136.0" y2="702.9" stroke="#000" stroke-width="1.7"/>
<line x1="1141.9" y1="697.0" x2="1163.9" y2="697.0" stroke="#000" stroke-width="1.7"/>
<rect x="1118.5" y="692.0" width="2.5" height="12.0" fill="#000" stroke="none"/>
<rect x="1161.5" y="692.0" width="3.0" height="6.0" fill="#000" stroke="none"/>
<rect x="1134.2" y="715.7" width="13.6" height="43.3" fill="#fff" stroke="#000" stroke-width="1.0"/>
<rect x="1136.5" y="718.0" width="2.5" height="39.0" fill="#555" stroke="#000" stroke-width="0.6"/>
<rect x="1134.2" y="715.7" width="13.6" height="2.8" fill="none" stroke="#000" stroke-width="1.2"/>
<rect x="1134.2" y="756.2" width="13.6" height="2.8" fill="none" stroke="#000" stroke-width="1.2"/>
<line x1="1145.3" y1="697.0" x2="1145.3" y2="715.7" stroke="#000" stroke-width="1.7"/>
<line x1="1136.0" y1="702.9" x2="1136.0" y2="715.7" stroke="#000" stroke-width="1.7"/>
<rect x="1136.5" y="759.0" width="5.4" height="104.0" fill="url(#h)" stroke="none"/>
<rect x="1136.5" y="856.0" width="63.9" height="6.6" fill="url(#h)" stroke="none"/>
<rect x="1288.4" y="856.0" width="80.6" height="6.6" fill="url(#h)" stroke="none"/>
<line x1="1136.0" y1="759.0" x2="1136.0" y2="863.4" stroke="#000" stroke-width="1.7"/>
<line x1="1145.3" y1="759.0" x2="1145.3" y2="853.7" stroke="#000" stroke-width="1.7"/>
<line x1="1136.0" y1="863.4" x2="1200.4" y2="863.4" stroke="#000" stroke-width="1.7"/>
<line x1="1145.3" y1="853.7" x2="1200.4" y2="853.7" stroke="#000" stroke-width="1.7"/>
<line x1="1288.4" y1="863.4" x2="1369.8" y2="863.4" stroke="#000" stroke-width="1.7"/>
<line x1="1288.4" y1="853.7" x2="1369.8" y2="853.7" stroke="#000" stroke-width="1.7"/>
<rect x="1367.5" y="853.0" width="3.0" height="11.5" fill="#000" stroke="none"/>
<rect x="1200.4" y="852.0" width="88.0" height="12.0" fill="#fff" stroke="#000" stroke-width="1.0"/>
<line x1="1204.0" y1="858.0" x2="1285.0" y2="858.0" stroke="#000" stroke-width="1.5"/>
<line x1="1204.0" y1="854.5" x2="1285.0" y2="854.5" stroke="#000" stroke-width="0.8"/>
<line x1="1204.0" y1="861.5" x2="1285.0" y2="861.5" stroke="#000" stroke-width="0.8"/>
<rect x="1433.5" y="856.0" width="92.5" height="6.6" fill="url(#h)" stroke="none"/>
<rect x="1565.2" y="856.0" width="123.3" height="6.6" fill="url(#h)" stroke="none"/>
<rect x="1729.1" y="856.0" width="62.9" height="6.6" fill="url(#h)" stroke="none"/>
<line x1="1433.5" y1="853.7" x2="1526.0" y2="853.7" stroke="#000" stroke-width="1.7"/>
<line x1="1565.2" y1="853.7" x2="1688.5" y2="853.7" stroke="#000" stroke-width="1.7"/>
<line x1="1729.1" y1="853.7" x2="1782.4" y2="853.7" stroke="#000" stroke-width="1.7"/>
<line x1="1433.5" y1="863.4" x2="1526.0" y2="863.4" stroke="#000" stroke-width="1.7"/>
<line x1="1565.2" y1="863.4" x2="1688.5" y2="863.4" stroke="#000" stroke-width="1.7"/>
<line x1="1729.1" y1="863.4" x2="1792.4" y2="863.4" stroke="#000" stroke-width="1.7"/>
<rect x="1432.5" y="853.0" width="3.0" height="11.5" fill="#000" stroke="none"/>
<rect x="1526.0" y="855.0" width="39.2" height="9.0" fill="#fff" stroke="#000" stroke-width="1.0"/>
<line x1="1529.0" y1="859.5" x2="1562.2" y2="859.5" stroke="#000" stroke-width="1.5"/>
<rect x="1688.5" y="855.0" width="40.6" height="9.0" fill="#fff" stroke="#000" stroke-width="1.0"/>
<line x1="1691.5" y1="859.5" x2="1726.1" y2="859.5" stroke="#000" stroke-width="1.5"/>
<line x1="1369.8" y1="853.7" x2="1380.3" y2="853.7" stroke="#000" stroke-width="1.2"/>
<line x1="1369.8" y1="855.3" x2="1380.3" y2="855.3" stroke="#000" stroke-width="1.2"/>
<line x1="1380.3" y1="853.7" x2="1380.3" y2="858.5" stroke="#000" stroke-width="1.2"/>
<line x1="1422.3" y1="853.7" x2="1433.5" y2="853.7" stroke="#000" stroke-width="1.2"/>
<line x1="1422.3" y1="855.3" x2="1433.5" y2="855.3" stroke="#000" stroke-width="1.2"/>
<line x1="1422.3" y1="853.7" x2="1422.3" y2="858.5" stroke="#000" stroke-width="1.2"/>
<path d="M1380.3,855.0 A42.0,42.0 0 0 1 1422.3,813.0" fill="none" stroke="#000" stroke-width="0.9"/>
<line x1="1422.3" y1="811.0" x2="1422.3" y2="855.0" stroke="#000" stroke-width="1.2"/>
<line x1="1344.8" y1="217.2" x2="1344.8" y2="475.9" stroke="#000" stroke-width="1.7"/>
<line x1="1348.7" y1="217.2" x2="1348.7" y2="475.9" stroke="#000" stroke-width="1.7"/>
<line x1="1344.8" y1="475.9" x2="1348.7" y2="475.9" stroke="#000" stroke-width="1.7"/>
<line x1="1450.1" y1="217.2" x2="1450.1" y2="325.5" stroke="#000" stroke-width="1.7"/>
<line x1="1454.2" y1="217.2" x2="1454.2" y2="325.5" stroke="#000" stroke-width="1.7"/>
<rect x="1449.5" y="323.5" width="5.5" height="3.0" fill="#000" stroke="none"/>
<line x1="1450.1" y1="366.7" x2="1450.1" y2="426.7" stroke="#000" stroke-width="1.7"/>
<line x1="1454.2" y1="366.7" x2="1454.2" y2="423.0" stroke="#000" stroke-width="1.7"/>
<rect x="1449.5" y="422.0" width="11.5" height="5.0" fill="none" stroke="#000" stroke-width="1.2"/>
<line x1="1408.0" y1="366.7" x2="1454.2" y2="366.7" stroke="#000" stroke-width="1.7"/>
<line x1="1408.0" y1="369.4" x2="1450.1" y2="369.4" stroke="#000" stroke-width="1.7"/>
<path d="M1408.1,366.7 A42.0,42.0 0 0 1 1450.1,324.7" fill="none" stroke="#000" stroke-width="0.9"/>
<polyline points="1362.7,366.7 1362.7,231.3 1436.5,231.3 1436.5,316.0" fill="none" stroke="#333" stroke-width="1.0" stroke-dasharray="5,3" stroke-linejoin="miter"/>
<path d="M1376.9,366.7 V245.3 Q1390,243 1400,245.5 T1422.8,245.3 V316 Q1435,314 1450,316" fill="none" stroke="#333" stroke-width="0.9"/>
<line x1="1348.9" y1="387.0" x2="1450.1" y2="387.0" stroke="#333" stroke-width="1.0" stroke-dasharray="5,3"/>
<line x1="1348.9" y1="401.5" x2="1450.1" y2="401.5" stroke="#000" stroke-width="1.7"/>
<line x1="1348.9" y1="405.3" x2="1450.1" y2="405.3" stroke="#000" stroke-width="1.7"/>
<line x1="1348.9" y1="426.7" x2="1459.7" y2="426.7" stroke="#000" stroke-width="1.3"/>
<line x1="1461.5" y1="380.2" x2="1461.5" y2="423.5" stroke="#000" stroke-width="1.7"/>
<line x1="1464.0" y1="380.2" x2="1464.0" y2="423.5" stroke="#000" stroke-width="1.0"/>
<path d="M1463.7,381.5 A42.0,42.0 0 0 1 1505.7,423.5" fill="none" stroke="#000" stroke-width="0.9"/>
<line x1="1503.0" y1="422.5" x2="1689.5" y2="422.5" stroke="#000" stroke-width="1.7"/>
<line x1="1503.0" y1="422.5" x2="1503.0" y2="426.9" stroke="#000" stroke-width="1.7"/>
<line x1="1503.0" y1="426.9" x2="1508.0" y2="426.9" stroke="#000" stroke-width="1.7"/>
<line x1="1508.0" y1="426.9" x2="1508.0" y2="430.7" stroke="#000" stroke-width="1.7"/>
<line x1="1514.4" y1="426.9" x2="1598.0" y2="426.9" stroke="#000" stroke-width="1.7"/>
<line x1="1602.0" y1="426.9" x2="1689.5" y2="426.9" stroke="#000" stroke-width="1.7"/>
<line x1="1598.0" y1="426.9" x2="1598.0" y2="429.5" stroke="#000" stroke-width="1.7"/>
<line x1="1602.0" y1="426.9" x2="1602.0" y2="429.5" stroke="#000" stroke-width="1.7"/>
<line x1="1598.0" y1="429.5" x2="1602.0" y2="429.5" stroke="#000" stroke-width="1.7"/>
<line x1="1514.4" y1="430.7" x2="1556.5" y2="430.7" stroke="#000" stroke-width="1.7"/>
<line x1="1514.4" y1="432.7" x2="1556.5" y2="432.7" stroke="#000" stroke-width="1.0"/>
<path d="M1556.4,431.0 A42.0,42.0 0 0 1 1514.4,473.0" fill="none" stroke="#000" stroke-width="0.9"/>
<line x1="1689.5" y1="217.2" x2="1689.5" y2="350.2" stroke="#000" stroke-width="1.7"/>
<line x1="1694.0" y1="217.2" x2="1694.0" y2="350.2" stroke="#000" stroke-width="1.7"/>
<rect x="1689.0" y="348.5" width="5.5" height="3.0" fill="#000" stroke="none"/>
<line x1="1689.5" y1="392.6" x2="1689.5" y2="429.0" stroke="#000" stroke-width="1.7"/>
<line x1="1694.0" y1="392.6" x2="1694.0" y2="429.0" stroke="#000" stroke-width="1.7"/>
<rect x="1689.0" y="391.0" width="5.5" height="3.0" fill="#000" stroke="none"/>
<line x1="1694.0" y1="350.2" x2="1736.1" y2="350.2" stroke="#000" stroke-width="1.7"/>
<line x1="1694.0" y1="352.0" x2="1736.1" y2="352.0" stroke="#000" stroke-width="1.0"/>
<path d="M1736.0,350.2 A42.0,42.0 0 0 1 1694.0,392.2" fill="none" stroke="#000" stroke-width="0.9"/>
<rect x="1694.0" y="217.3" width="88.4" height="55.4" fill="none" stroke="#000" stroke-width="1.3"/>
<line x1="1694.0" y1="217.3" x2="1725.0" y2="236.0" stroke="#000" stroke-width="1.0"/>
<line x1="1782.4" y1="217.3" x2="1751.0" y2="236.0" stroke="#000" stroke-width="1.0"/>
<line x1="1694.0" y1="272.7" x2="1725.0" y2="254.0" stroke="#000" stroke-width="1.0"/>
<line x1="1782.4" y1="272.7" x2="1751.0" y2="254.0" stroke="#000" stroke-width="1.0"/>
<polyline points="1735.3,277.0 1735.3,274.0 1782.4,274.0" fill="none" stroke="#000" stroke-width="1.7" stroke-linejoin="miter"/>
<line x1="1735.3" y1="277.0" x2="1782.4" y2="277.0" stroke="#000" stroke-width="1.7"/>
<rect x="1754.4" y="277.5" width="26.8" height="41.6" fill="none" stroke="#555" stroke-width="0.9"/>
<ellipse cx="1768.4" cy="298.1" rx="7.6" ry="12.7" fill="none" stroke="#333" stroke-width="1.0"/>
<ellipse cx="1768.4" cy="298.1" rx="6.0" ry="11.0" fill="none" stroke="#777" stroke-width="0.6"/>
<rect x="1754.8" y="353.1" width="27.1" height="42.0" fill="none" stroke="#555" stroke-width="0.9"/>
<ellipse cx="1769.7" cy="373.4" rx="7.6" ry="12.7" fill="none" stroke="#333" stroke-width="1.0"/>
<ellipse cx="1769.7" cy="373.4" rx="6.0" ry="11.0" fill="none" stroke="#777" stroke-width="0.6"/>
<line x1="1754.8" y1="432.5" x2="1782.4" y2="432.5" stroke="#000" stroke-width="1.7"/>
<line x1="1758.2" y1="435.0" x2="1782.4" y2="435.0" stroke="#000" stroke-width="1.7"/>
<line x1="1754.8" y1="432.5" x2="1754.8" y2="438.4" stroke="#000" stroke-width="1.7"/>
<line x1="1758.2" y1="435.0" x2="1758.2" y2="438.4" stroke="#000" stroke-width="1.7"/>
<line x1="1754.8" y1="438.4" x2="1758.2" y2="438.4" stroke="#000" stroke-width="1.7"/>
<line x1="1741.4" y1="473.2" x2="1782.4" y2="473.2" stroke="#000" stroke-width="1.7"/>
<line x1="1741.4" y1="475.8" x2="1782.4" y2="475.8" stroke="#000" stroke-width="1.7"/>
<line x1="1754.8" y1="465.6" x2="1754.8" y2="473.2" stroke="#000" stroke-width="1.7"/>
<line x1="1758.2" y1="465.6" x2="1758.2" y2="473.2" stroke="#000" stroke-width="1.7"/>
<line x1="1754.8" y1="465.6" x2="1758.2" y2="465.6" stroke="#000" stroke-width="1.7"/>
<line x1="1741.4" y1="473.2" x2="1741.4" y2="477.5" stroke="#000" stroke-width="1.7"/>
<line x1="1726.0" y1="465.6" x2="1754.8" y2="465.6" stroke="#000" stroke-width="1.7"/>
<path d="M1725.8,465.6 A29.0,29.0 0 0 1 1754.8,436.6" fill="none" stroke="#000" stroke-width="0.9"/>
<line x1="1652.1" y1="429.1" x2="1689.5" y2="429.1" stroke="#000" stroke-width="1.7"/>
<line x1="1652.1" y1="430.8" x2="1689.5" y2="430.8" stroke="#000" stroke-width="1.0"/>
<path d="M1689.5,467.0 A37.0,37.0 0 0 1 1652.5,430.0" fill="none" stroke="#000" stroke-width="0.9"/>
<line x1="1689.5" y1="467.3" x2="1689.5" y2="524.1" stroke="#000" stroke-width="1.7"/>
<line x1="1694.0" y1="467.3" x2="1694.0" y2="524.1" stroke="#000" stroke-width="1.7"/>
<rect x="1689.0" y="466.0" width="5.5" height="3.0" fill="#000" stroke="none"/>
<polyline points="1694.0,474.0 1698.5,474.0 1698.5,479.0" fill="none" stroke="#000" stroke-width="1.2" stroke-linejoin="miter"/>
<line x1="1700.5" y1="478.3" x2="1700.5" y2="519.7" stroke="#000" stroke-width="1.3"/>
<line x1="1698.8" y1="478.3" x2="1698.8" y2="519.7" stroke="#000" stroke-width="1.0"/>
<path d="M1741.5,477.7 A41.0,41.0 0 0 1 1700.5,518.7" fill="none" stroke="#000" stroke-width="0.9"/>
<line x1="1602.0" y1="521.6" x2="1689.5" y2="521.6" stroke="#000" stroke-width="1.7"/>
<line x1="1694.0" y1="524.1" x2="1782.4" y2="524.1" stroke="#000" stroke-width="1.7"/>
<line x1="1507.0" y1="528.0" x2="1782.4" y2="528.0" stroke="#000" stroke-width="1.7"/>
<line x1="1514.4" y1="524.3" x2="1598.0" y2="524.3" stroke="#000" stroke-width="1.7"/>
<line x1="1510.0" y1="472.8" x2="1510.0" y2="525.0" stroke="#000" stroke-width="1.7"/>
<line x1="1514.4" y1="472.8" x2="1514.4" y2="524.3" stroke="#000" stroke-width="1.7"/>
<rect x="1509.5" y="471.5" width="5.5" height="3.0" fill="#000" stroke="none"/>
<line x1="1597.8" y1="462.2" x2="1597.8" y2="524.3" stroke="#000" stroke-width="1.7"/>
<line x1="1602.0" y1="462.2" x2="1602.0" y2="521.6" stroke="#000" stroke-width="1.7"/>
<rect x="1597.8" y="472.0" width="4.2" height="42.0" fill="#333" stroke="none"/>
<ellipse cx="1536.8" cy="506.0" rx="8.0" ry="12.0" fill="none" stroke="#333" stroke-width="0.9"/>
<rect x="1529.0" y="514.0" width="17.0" height="10.0" fill="none" stroke="#333" stroke-width="0.9"/>
<path d="M1563.9,524 V513 Q1566,502 1577,502 Q1590,502 1591,513 V524" fill="none" stroke="#333" stroke-width="0.9"/>
<ellipse cx="1577.0" cy="514.0" rx="9.0" ry="7.0" fill="none" stroke="#555" stroke-width="0.8"/>
<rect x="1612.2" y="488.2" width="32.3" height="32.0" fill="none" stroke="#555" stroke-width="0.9"/>
<rect x="1647.5" y="488.2" width="32.3" height="32.0" fill="none" stroke="#555" stroke-width="0.9"/>
<ellipse cx="1758.0" cy="500.0" rx="9.0" ry="7.5" fill="none" stroke="#333" stroke-width="0.9"/>
<rect x="1767.0" y="491.0" width="11.0" height="19.6" fill="none" stroke="#333" stroke-width="0.9"/>
<line x1="1504.9" y1="482.3" x2="1504.9" y2="525.0" stroke="#000" stroke-width="1.7"/>
<line x1="1506.5" y1="482.3" x2="1506.5" y2="525.0" stroke="#000" stroke-width="1.0"/>
<path d="M1464.5,523.0 A41.0,41.0 0 0 1 1505.5,482.0" fill="none" stroke="#000" stroke-width="0.9"/>
<line x1="1399.6" y1="524.6" x2="1465.5" y2="524.6" stroke="#000" stroke-width="1.7"/>
<line x1="1403.2" y1="528.2" x2="1450.1" y2="528.2" stroke="#000" stroke-width="1.7"/>
<line x1="1454.2" y1="528.2" x2="1465.5" y2="528.2" stroke="#000" stroke-width="1.7"/>
<line x1="1399.6" y1="524.6" x2="1399.6" y2="542.8" stroke="#000" stroke-width="1.7"/>
<line x1="1403.2" y1="528.2" x2="1403.2" y2="542.8" stroke="#000" stroke-width="1.7"/>
<rect x="1399.0" y="541.0" width="5.0" height="3.0" fill="#000" stroke="none"/>
<line x1="1401.4" y1="543.7" x2="1376.4" y2="567.7" stroke="#000" stroke-width="1.3"/>
<line x1="1403.0" y1="545.0" x2="1378.0" y2="569.0" stroke="#000" stroke-width="1.0"/>
<path d="M1376.4,567.7 Q1385,576 1401.4,577.5" fill="none" stroke="#000" stroke-width="0.9"/>
<line x1="1399.6" y1="577.5" x2="1399.6" y2="688.0" stroke="#000" stroke-width="1.3"/>
<line x1="1403.7" y1="577.5" x2="1403.7" y2="769.8" stroke="#000" stroke-width="1.1"/>
<rect x="1399.0" y="576.0" width="5.0" height="3.0" fill="#000" stroke="none"/>
<line x1="1450.5" y1="528.2" x2="1450.5" y2="853.7" stroke="#000" stroke-width="1.7"/>
<line x1="1454.5" y1="528.2" x2="1454.5" y2="853.7" stroke="#000" stroke-width="1.7"/>
<line x1="1403.7" y1="595.3" x2="1403.7" y2="769.8" stroke="#000" stroke-width="1.1"/>
<line x1="1403.7" y1="595.3" x2="1450.5" y2="595.3" stroke="#222" stroke-width="0.9"/>
<line x1="1403.7" y1="606.9" x2="1450.5" y2="606.9" stroke="#222" stroke-width="0.9"/>
<line x1="1403.7" y1="618.6" x2="1450.5" y2="618.6" stroke="#222" stroke-width="0.9"/>
<line x1="1403.7" y1="630.2" x2="1450.5" y2="630.2" stroke="#222" stroke-width="0.9"/>
<line x1="1403.7" y1="641.8" x2="1450.5" y2="641.8" stroke="#222" stroke-width="0.9"/>
<line x1="1403.7" y1="653.4" x2="1450.5" y2="653.4" stroke="#222" stroke-width="0.9"/>
<line x1="1403.7" y1="665.1" x2="1450.5" y2="665.1" stroke="#222" stroke-width="0.9"/>
<line x1="1403.7" y1="676.7" x2="1450.5" y2="676.7" stroke="#222" stroke-width="0.9"/>
<line x1="1403.7" y1="688.3" x2="1450.5" y2="688.3" stroke="#222" stroke-width="0.9"/>
<line x1="1403.7" y1="700.0" x2="1450.5" y2="700.0" stroke="#222" stroke-width="0.9"/>
<line x1="1403.7" y1="711.6" x2="1450.5" y2="711.6" stroke="#222" stroke-width="0.9"/>
<line x1="1403.7" y1="723.2" x2="1450.5" y2="723.2" stroke="#222" stroke-width="0.9"/>
<line x1="1403.7" y1="734.9" x2="1450.5" y2="734.9" stroke="#222" stroke-width="0.9"/>
<line x1="1403.7" y1="746.5" x2="1450.5" y2="746.5" stroke="#222" stroke-width="0.9"/>
<line x1="1403.7" y1="758.1" x2="1450.5" y2="758.1" stroke="#222" stroke-width="0.9"/>
<line x1="1403.7" y1="769.8" x2="1450.5" y2="769.8" stroke="#222" stroke-width="0.9"/>
<line x1="1348.8" y1="608.4" x2="1399.6" y2="608.4" stroke="#333" stroke-width="1.0" stroke-dasharray="7,3,2,3"/>
<line x1="1344.4" y1="517.8" x2="1344.4" y2="697.0" stroke="#000" stroke-width="1.7"/>
<line x1="1348.8" y1="517.8" x2="1348.8" y2="711.0" stroke="#000" stroke-width="1.7"/>
<rect x="1344.0" y="516.5" width="5.5" height="3.0" fill="#000" stroke="none"/>
<polyline points="1211.6,528.5 1344.4,528.5" fill="none" stroke="#000" stroke-width="1.2" stroke-linejoin="miter"/>
<polyline points="1211.6,528.5 1211.6,574.9 1317.6,574.9 1317.6,664.9 1255.2,664.9 1255.2,693.4" fill="none" stroke="#222" stroke-width="1.1" stroke-linejoin="miter"/>
<line x1="1331.0" y1="528.5" x2="1331.0" y2="679.0" stroke="#333" stroke-width="1.0" stroke-dasharray="5,3"/>
<polyline points="1304.3,693.4 1304.3,679.0 1331.0,679.0" fill="none" stroke="#333" stroke-width="1.0" stroke-dasharray="5,3" stroke-linejoin="miter"/>
<rect x="1253.5" y="548.1" width="41.8" height="25.0" fill="none" stroke="#333" stroke-width="0.9"/>
<rect x="1256.0" y="551.0" width="17.0" height="20.0" fill="none" stroke="#555" stroke-width="0.7"/>
<rect x="1276.0" y="551.0" width="17.0" height="20.0" fill="none" stroke="#555" stroke-width="0.7"/>
<line x1="1274.5" y1="548.0" x2="1274.5" y2="572.0" stroke="#000" stroke-width="0.9"/>
<rect x="1225.0" y="548.1" width="26.7" height="26.8" fill="none" stroke="#333" stroke-width="0.9" stroke-dasharray="4,2"/>
<rect x="1225.0" y="574.5" width="25.0" height="2.0" fill="#333" stroke="none"/>
<path d="M1216.9,528.5 A9.5,9.5 0 0 1 1235.9,528.5" fill="none" stroke="#000" stroke-width="1.0"/>
<path d="M1247.1,528.5 A9.5,9.5 0 0 1 1266.1,528.5" fill="none" stroke="#000" stroke-width="1.0"/>
<path d="M1277.3,528.5 A9.5,9.5 0 0 1 1296.3,528.5" fill="none" stroke="#000" stroke-width="1.0"/>
<path d="M1307.5,528.5 A9.5,9.5 0 0 1 1326.5,528.5" fill="none" stroke="#000" stroke-width="1.0"/>
<rect x="1315.8" y="599.4" width="28.6" height="42.3" fill="none" stroke="#333" stroke-width="1.0"/>
<line x1="1326.0" y1="599.4" x2="1326.0" y2="641.7" stroke="#555" stroke-width="0.7"/>
<circle cx="1322.0" cy="609.0" r="3.5" fill="none" stroke="#333" stroke-width="0.9"/>
<circle cx="1337.0" cy="607.5" r="4.2" fill="none" stroke="#333" stroke-width="0.9"/>
<circle cx="1323.0" cy="620.0" r="4.2" fill="none" stroke="#333" stroke-width="0.9"/>
<circle cx="1338.0" cy="620.0" r="4.2" fill="none" stroke="#333" stroke-width="0.9"/>
<circle cx="1322.0" cy="631.0" r="4.0" fill="none" stroke="#333" stroke-width="0.9"/>
<circle cx="1337.0" cy="630.0" r="3.5" fill="none" stroke="#333" stroke-width="0.9"/>
<rect x="1211.6" y="657.7" width="41.9" height="35.7" fill="none" stroke="#333" stroke-width="0.9"/>
<line x1="1211.6" y1="661.0" x2="1253.5" y2="661.0" stroke="#000" stroke-width="0.7"/>
<line x1="1211.6" y1="679.0" x2="1253.5" y2="679.0" stroke="#000" stroke-width="0.9" stroke-dasharray="4,3"/>
<text x="1233.0" y="678.0" font-family="Liberation Sans" font-size="8.33" font-weight="normal" text-anchor="middle" fill="#2a2a2a" textLength="5.0" lengthAdjust="spacingAndGlyphs">F</text>
<line x1="1090.3" y1="472.6" x2="1147.3" y2="472.6" stroke="#000" stroke-width="1.7"/>
<line x1="1090.3" y1="476.7" x2="1144.0" y2="476.7" stroke="#000" stroke-width="1.7"/>
<line x1="1144.0" y1="476.7" x2="1144.0" y2="494.3" stroke="#000" stroke-width="1.7"/>
<line x1="1148.0" y1="472.6" x2="1148.0" y2="494.3" stroke="#000" stroke-width="1.7"/>
<rect x="1143.5" y="493.0" width="5.0" height="3.0" fill="#000" stroke="none"/>
<line x1="1144.0" y1="528.3" x2="1144.0" y2="546.7" stroke="#000" stroke-width="1.7"/>
<line x1="1148.0" y1="528.3" x2="1148.0" y2="546.7" stroke="#000" stroke-width="1.7"/>
<rect x="1143.5" y="527.5" width="5.0" height="3.0" fill="#000" stroke="none"/>
<line x1="1090.3" y1="542.6" x2="1144.0" y2="542.6" stroke="#000" stroke-width="1.7"/>
<line x1="1090.3" y1="546.7" x2="1148.0" y2="546.7" stroke="#000" stroke-width="1.7"/>
<line x1="1146.0" y1="493.7" x2="1169.1" y2="517.4" stroke="#000" stroke-width="1.4"/>
<line x1="1147.5" y1="492.3" x2="1170.5" y2="516.0" stroke="#000" stroke-width="1.0"/>
<path d="M1169.1,517.4 Q1162,527 1147.3,528.3" fill="none" stroke="#000" stroke-width="0.9"/>
<line x1="1148.0" y1="472.6" x2="1345.0" y2="472.6" stroke="#333" stroke-width="1.0" stroke-dasharray="7,3,2,3"/>
<line x1="1146.0" y1="546.7" x2="1146.0" y2="692.5" stroke="#333" stroke-width="1.0" stroke-dasharray="7,3,2,3"/>
<line x1="1207.1" y1="692.5" x2="1259.7" y2="692.5" stroke="#000" stroke-width="1.7"/>
<line x1="1207.1" y1="696.9" x2="1259.7" y2="696.9" stroke="#000" stroke-width="1.7"/>
<line x1="1302.5" y1="692.5" x2="1348.8" y2="692.5" stroke="#000" stroke-width="1.7"/>
<line x1="1302.5" y1="696.9" x2="1344.8" y2="696.9" stroke="#000" stroke-width="1.7"/>
<rect x="1205.5" y="691.5" width="3.0" height="6.5" fill="#000" stroke="none"/>
<rect x="1259.7" y="693.0" width="42.8" height="4.0" fill="#fff" stroke="#000" stroke-width="1.0"/>
<line x1="1262.0" y1="695.0" x2="1300.0" y2="695.0" stroke="#000" stroke-width="1.3"/>
<line x1="1344.8" y1="696.9" x2="1344.8" y2="711.0" stroke="#000" stroke-width="1.7"/>
<rect x="1341.3" y="711.0" width="12.4" height="12.0" fill="#000" stroke="none"/>
<rect x="1341.3" y="827.9" width="12.4" height="12.1" fill="#000" stroke="none"/>
<line x1="1344.8" y1="840.0" x2="1344.8" y2="853.7" stroke="#000" stroke-width="1.7"/>
<line x1="1349.7" y1="840.0" x2="1349.7" y2="853.7" stroke="#000" stroke-width="1.7"/>
<path d="M1117.3,740.3 A36.5,36.5 0 0 1 1080.8,703.8" fill="none" stroke="#000" stroke-width="0.9"/>
<line x1="1079.7" y1="11.8" x2="1345.6" y2="11.8" stroke="#000" stroke-width="1.2"/>
<line x1="1079.7" y1="6.8" x2="1079.7" y2="24.8" stroke="#000" stroke-width="1.2"/>
<line x1="1345.6" y1="6.8" x2="1345.6" y2="24.8" stroke="#000" stroke-width="1.2"/>
<polygon points="1079.7,11.8 1085.7,9.6 1085.7,14.0" fill="#000"/>
<polygon points="1345.6,11.8 1339.6,9.6 1339.6,14.0" fill="#000"/>
<rect x="1193.4" y="4.3" width="38.0" height="15.0" fill="#fff"/>
<text x="1212.4" y="17.3" font-family="Liberation Sans" font-size="15.28" font-weight="normal" text-anchor="middle" fill="#2a2a2a" textLength="34.0" lengthAdjust="spacingAndGlyphs">19'-0&quot;</text>
<line x1="1057.7" y1="137.2" x2="1786.0" y2="137.2" stroke="#000" stroke-width="1.2"/>
<line x1="1057.7" y1="131.2" x2="1057.7" y2="143.2" stroke="#000" stroke-width="1.2"/>
<line x1="1085.8" y1="131.2" x2="1085.8" y2="143.2" stroke="#000" stroke-width="1.2"/>
<line x1="1786.0" y1="131.2" x2="1786.0" y2="143.2" stroke="#000" stroke-width="1.2"/>
<polygon points="1057.7,137.2 1063.7,135.0 1063.7,139.4" fill="#000"/>
<polygon points="1085.8,137.2 1079.8,135.0 1079.8,139.4" fill="#000"/>
<polygon points="1085.8,137.2 1091.8,135.0 1091.8,139.4" fill="#000"/>
<polygon points="1786.0,137.2 1780.0,135.0 1780.0,139.4" fill="#000"/>
<rect x="1416.6" y="129.7" width="40.0" height="15.0" fill="#fff"/>
<text x="1436.6" y="142.7" font-family="Liberation Sans" font-size="15.28" font-weight="normal" text-anchor="middle" fill="#2a2a2a" textLength="36.0" lengthAdjust="spacingAndGlyphs">50'-2&quot;</text>
<line x1="1057.7" y1="131.4" x2="1057.7" y2="295.0" stroke="#000" stroke-width="1.2"/>
<line x1="1085.8" y1="145.0" x2="1085.8" y2="200.0" stroke="#000" stroke-width="1.3"/>
<line x1="1786.0" y1="131.4" x2="1786.0" y2="199.0" stroke="#000" stroke-width="1.2"/>
<text x="1071.5" y="128.2" font-family="Liberation Sans" font-size="15.28" font-weight="normal" text-anchor="middle" fill="#2a2a2a" textLength="29.0" lengthAdjust="spacingAndGlyphs">2'-0&quot;</text>
<line x1="1085.8" y1="158.5" x2="1786.0" y2="158.5" stroke="#000" stroke-width="1.2"/>
<line x1="1085.8" y1="152.5" x2="1085.8" y2="164.5" stroke="#000" stroke-width="1.2"/>
<line x1="1345.6" y1="152.5" x2="1345.6" y2="164.5" stroke="#000" stroke-width="1.2"/>
<line x1="1450.1" y1="152.5" x2="1450.1" y2="164.5" stroke="#000" stroke-width="1.2"/>
<line x1="1689.8" y1="152.5" x2="1689.8" y2="164.5" stroke="#000" stroke-width="1.2"/>
<line x1="1786.0" y1="152.5" x2="1786.0" y2="164.5" stroke="#000" stroke-width="1.2"/>
<polygon points="1085.8,158.5 1091.8,156.3 1091.8,160.7" fill="#000"/>
<polygon points="1345.6,158.5 1339.6,156.3 1339.6,160.7" fill="#000"/>
<polygon points="1345.6,158.5 1351.6,156.3 1351.6,160.7" fill="#000"/>
<polygon points="1450.1,158.5 1444.1,156.3 1444.1,160.7" fill="#000"/>
<polygon points="1450.1,158.5 1456.1,156.3 1456.1,160.7" fill="#000"/>
<polygon points="1689.8,158.5 1683.8,156.3 1683.8,160.7" fill="#000"/>
<polygon points="1689.8,158.5 1695.8,156.3 1695.8,160.7" fill="#000"/>
<polygon points="1786.0,158.5 1780.0,156.3 1780.0,160.7" fill="#000"/>
<rect x="1190.0" y="151.0" width="50.0" height="15.0" fill="#fff"/>
<text x="1215.0" y="164.0" font-family="Liberation Sans" font-size="15.28" font-weight="normal" text-anchor="middle" fill="#2a2a2a" textLength="46.0" lengthAdjust="spacingAndGlyphs">18'-6½&quot;</text>
<rect x="1376.0" y="151.0" width="44.0" height="15.0" fill="#fff"/>
<text x="1398.0" y="164.0" font-family="Liberation Sans" font-size="15.28" font-weight="normal" text-anchor="middle" fill="#2a2a2a" textLength="40.0" lengthAdjust="spacingAndGlyphs">7'-6½&quot;</text>
<rect x="1552.1" y="151.0" width="37.0" height="15.0" fill="#fff"/>
<text x="1570.6" y="164.0" font-family="Liberation Sans" font-size="15.28" font-weight="normal" text-anchor="middle" fill="#2a2a2a" textLength="33.0" lengthAdjust="spacingAndGlyphs">17'-2&quot;</text>
<rect x="1723.1" y="151.0" width="31.0" height="15.0" fill="#fff"/>
<text x="1738.6" y="164.0" font-family="Liberation Sans" font-size="15.28" font-weight="normal" text-anchor="middle" fill="#2a2a2a" textLength="27.0" lengthAdjust="spacingAndGlyphs">6'-11&quot;</text>
<line x1="1450.1" y1="152.0" x2="1450.1" y2="203.0" stroke="#000" stroke-width="1.2"/>
<line x1="1689.8" y1="152.0" x2="1689.8" y2="203.0" stroke="#000" stroke-width="1.2"/>
<line x1="1085.8" y1="192.8" x2="1345.6" y2="192.8" stroke="#000" stroke-width="1.2"/>
<line x1="1085.8" y1="186.8" x2="1085.8" y2="198.8" stroke="#000" stroke-width="1.2"/>
<line x1="1217.5" y1="186.8" x2="1217.5" y2="198.8" stroke="#000" stroke-width="1.2"/>
<line x1="1345.6" y1="186.8" x2="1345.6" y2="198.8" stroke="#000" stroke-width="1.2"/>
<polygon points="1085.8,192.8 1091.8,190.6 1091.8,195.0" fill="#000"/>
<polygon points="1217.5,192.8 1211.5,190.6 1211.5,195.0" fill="#000"/>
<polygon points="1217.5,192.8 1223.5,190.6 1223.5,195.0" fill="#000"/>
<polygon points="1345.6,192.8 1339.6,190.6 1339.6,195.0" fill="#000"/>
<rect x="1136.0" y="185.3" width="32.0" height="15.0" fill="#fff"/>
<text x="1152.0" y="198.3" font-family="Liberation Sans" font-size="15.28" font-weight="normal" text-anchor="middle" fill="#2a2a2a" textLength="28.0" lengthAdjust="spacingAndGlyphs">9'-5&quot;</text>
<rect x="1259.0" y="185.3" width="38.0" height="15.0" fill="#fff"/>
<text x="1278.0" y="198.3" font-family="Liberation Sans" font-size="15.28" font-weight="normal" text-anchor="middle" fill="#2a2a2a" textLength="34.0" lengthAdjust="spacingAndGlyphs">9'-1½&quot;</text>
<line x1="1450.1" y1="189.6" x2="1689.8" y2="189.6" stroke="#000" stroke-width="1.2"/>
<line x1="1450.1" y1="183.6" x2="1450.1" y2="195.6" stroke="#000" stroke-width="1.2"/>
<line x1="1492.0" y1="183.6" x2="1492.0" y2="195.6" stroke="#000" stroke-width="1.2"/>
<line x1="1651.9" y1="183.6" x2="1651.9" y2="195.6" stroke="#000" stroke-width="1.2"/>
<line x1="1689.8" y1="183.6" x2="1689.8" y2="195.6" stroke="#000" stroke-width="1.2"/>
<polygon points="1450.1,189.6 1456.1,187.4 1456.1,191.8" fill="#000"/>
<polygon points="1492.0,189.6 1486.0,187.4 1486.0,191.8" fill="#000"/>
<polygon points="1492.0,189.6 1498.0,187.4 1498.0,191.8" fill="#000"/>
<polygon points="1651.9,189.6 1645.9,187.4 1645.9,191.8" fill="#000"/>
<polygon points="1651.9,189.6 1657.9,187.4 1657.9,191.8" fill="#000"/>
<polygon points="1689.8,189.6 1683.8,187.4 1683.8,191.8" fill="#000"/>
<rect x="1552.0" y="182.1" width="40.0" height="15.0" fill="#fff"/>
<text x="1572.0" y="195.1" font-family="Liberation Sans" font-size="15.28" font-weight="normal" text-anchor="middle" fill="#2a2a2a" textLength="36.0" lengthAdjust="spacingAndGlyphs">11'-5½&quot;</text>
<line x1="1492.0" y1="184.0" x2="1492.0" y2="234.3" stroke="#000" stroke-width="1.2"/>
<line x1="1651.9" y1="184.0" x2="1651.9" y2="234.3" stroke="#000" stroke-width="1.2"/>
<text x="1470.4" y="181.5" font-family="Liberation Sans" font-size="15.28" font-weight="normal" text-anchor="middle" fill="#2a2a2a" textLength="29.0" lengthAdjust="spacingAndGlyphs">3'-0&quot;</text>
<text x="1668.0" y="181.5" font-family="Liberation Sans" font-size="15.28" font-weight="normal" text-anchor="middle" fill="#2a2a2a" textLength="40.0" lengthAdjust="spacingAndGlyphs">2'-8½&quot;</text>
<text x="1487.0" y="198.5" font-family="Liberation Sans" font-size="6.94" font-weight="normal" text-anchor="middle" fill="#2a2a2a" textLength="12.0" lengthAdjust="spacingAndGlyphs" transform="rotate(-90 1487.0 196.0)">2'-8&quot;</text>
<text x="1496.0" y="198.5" font-family="Liberation Sans" font-size="6.94" font-weight="normal" text-anchor="middle" fill="#2a2a2a" textLength="12.0" lengthAdjust="spacingAndGlyphs" transform="rotate(-90 1496.0 196.0)">5'-0&quot;</text>
<text x="1647.0" y="198.5" font-family="Liberation Sans" font-size="6.94" font-weight="normal" text-anchor="middle" fill="#2a2a2a" textLength="12.0" lengthAdjust="spacingAndGlyphs" transform="rotate(-90 1647.0 196.0)">2'-8&quot;</text>
<text x="1656.0" y="198.5" font-family="Liberation Sans" font-size="6.94" font-weight="normal" text-anchor="middle" fill="#2a2a2a" textLength="12.0" lengthAdjust="spacingAndGlyphs" transform="rotate(-90 1656.0 196.0)">5'-0&quot;</text>
<text x="1213.0" y="228.0" font-family="Liberation Sans" font-size="8.33" font-weight="normal" text-anchor="middle" fill="#2a2a2a" textLength="16.0" lengthAdjust="spacingAndGlyphs" transform="rotate(-90 1213.0 225.0)">9'-0&quot;</text>
<text x="1222.0" y="228.0" font-family="Liberation Sans" font-size="8.33" font-weight="normal" text-anchor="middle" fill="#2a2a2a" textLength="16.0" lengthAdjust="spacingAndGlyphs" transform="rotate(-90 1222.0 225.0)">6'-8&quot;</text>
<line x1="1217.5" y1="200.0" x2="1217.5" y2="238.0" stroke="#000" stroke-width="1.1"/>
<line x1="958.8" y1="39.3" x2="958.8" y2="947.7" stroke="#000" stroke-width="1.2"/>
<line x1="952.8" y1="39.3" x2="964.8" y2="39.3" stroke="#000" stroke-width="1.2"/>
<line x1="952.8" y1="213.3" x2="964.8" y2="213.3" stroke="#000" stroke-width="1.2"/>
<line x1="952.8" y1="947.7" x2="964.8" y2="947.7" stroke="#000" stroke-width="1.2"/>
<polygon points="958.8,39.3 956.6,45.3 961.0,45.3" fill="#000"/>
<polygon points="958.8,213.3 956.6,207.3 961.0,207.3" fill="#000"/>
<polygon points="958.8,213.3 956.6,219.3 961.0,219.3" fill="#000"/>
<polygon points="958.8,947.7 956.6,941.7 961.0,941.7" fill="#000"/>
<rect x="941.8" y="118.4" width="34.0" height="16.0" fill="#fff" transform="rotate(-90 958.8 126.4)"/>
<text x="958.8" y="132.4" font-family="Liberation Sans" font-size="16.67" font-weight="normal" text-anchor="middle" fill="#2a2a2a" textLength="30.0" lengthAdjust="spacingAndGlyphs" transform="rotate(-90 958.8 126.4)">12'-5&quot;</text>
<rect x="937.8" y="572.0" width="42.0" height="16.0" fill="#fff" transform="rotate(-90 958.8 580.0)"/>
<text x="958.8" y="586.0" font-family="Liberation Sans" font-size="16.67" font-weight="normal" text-anchor="middle" fill="#2a2a2a" textLength="38.0" lengthAdjust="spacingAndGlyphs" transform="rotate(-90 958.8 580.0)">52'-7&quot;</text>
<line x1="990.1" y1="213.3" x2="990.1" y2="947.7" stroke="#000" stroke-width="1.2"/>
<line x1="984.1" y1="213.3" x2="996.1" y2="213.3" stroke="#000" stroke-width="1.2"/>
<line x1="984.1" y1="542.4" x2="996.1" y2="542.4" stroke="#000" stroke-width="1.2"/>
<line x1="984.1" y1="697.2" x2="996.1" y2="697.2" stroke="#000" stroke-width="1.2"/>
<line x1="984.1" y1="704.7" x2="996.1" y2="704.7" stroke="#000" stroke-width="1.2"/>
<line x1="984.1" y1="854.3" x2="996.1" y2="854.3" stroke="#000" stroke-width="1.2"/>
<line x1="984.1" y1="947.7" x2="996.1" y2="947.7" stroke="#000" stroke-width="1.2"/>
<polygon points="990.1,213.3 987.9,219.3 992.3,219.3" fill="#000"/>
<polygon points="990.1,542.4 987.9,536.4 992.3,536.4" fill="#000"/>
<polygon points="990.1,542.4 987.9,548.4 992.3,548.4" fill="#000"/>
<polygon points="990.1,697.2 987.9,691.2 992.3,691.2" fill="#000"/>
<polygon points="990.1,697.2 987.9,703.2 992.3,703.2" fill="#000"/>
<polygon points="990.1,704.7 987.9,698.7 992.3,698.7" fill="#000"/>
<polygon points="990.1,704.7 987.9,710.7 992.3,710.7" fill="#000"/>
<polygon points="990.1,854.3 987.9,848.3 992.3,848.3" fill="#000"/>
<polygon points="990.1,854.3 987.9,860.3 992.3,860.3" fill="#000"/>
<polygon points="990.1,947.7 987.9,941.7 992.3,941.7" fill="#000"/>
<rect x="969.1" y="369.6" width="42.0" height="16.0" fill="#fff" transform="rotate(-90 990.1 377.6)"/>
<text x="990.1" y="383.6" font-family="Liberation Sans" font-size="16.67" font-weight="normal" text-anchor="middle" fill="#2a2a2a" textLength="38.0" lengthAdjust="spacingAndGlyphs" transform="rotate(-90 990.1 377.6)">23'-7&quot;</text>
<rect x="975.1" y="610.8" width="30.0" height="16.0" fill="#fff" transform="rotate(-90 990.1 618.8)"/>
<text x="990.1" y="624.8" font-family="Liberation Sans" font-size="16.67" font-weight="normal" text-anchor="middle" fill="#2a2a2a" textLength="26.0" lengthAdjust="spacingAndGlyphs" transform="rotate(-90 990.1 618.8)">11'-1&quot;</text>
<rect x="968.1" y="772.3" width="44.0" height="16.0" fill="#fff" transform="rotate(-90 990.1 780.3)"/>
<text x="990.1" y="786.3" font-family="Liberation Sans" font-size="16.67" font-weight="normal" text-anchor="middle" fill="#2a2a2a" textLength="40.0" lengthAdjust="spacingAndGlyphs" transform="rotate(-90 990.1 780.3)">10'-7½&quot;</text>
<rect x="973.1" y="892.1" width="34.0" height="16.0" fill="#fff" transform="rotate(-90 990.1 900.1)"/>
<text x="990.1" y="906.1" font-family="Liberation Sans" font-size="16.67" font-weight="normal" text-anchor="middle" fill="#2a2a2a" textLength="30.0" lengthAdjust="spacingAndGlyphs" transform="rotate(-90 990.1 900.1)">6'-8&quot;</text>
<text x="975.0" y="705.7" font-family="Liberation Sans" font-size="15.28" font-weight="normal" text-anchor="middle" fill="#2a2a2a" textLength="18.0" lengthAdjust="spacingAndGlyphs" transform="rotate(-90 975.0 700.2)">7½&quot;</text>
<line x1="1023.4" y1="213.3" x2="1023.4" y2="697.2" stroke="#000" stroke-width="1.2"/>
<line x1="1017.4" y1="213.3" x2="1029.4" y2="213.3" stroke="#000" stroke-width="1.2"/>
<line x1="1017.4" y1="260.9" x2="1029.4" y2="260.9" stroke="#000" stroke-width="1.2"/>
<line x1="1017.4" y1="309.5" x2="1029.4" y2="309.5" stroke="#000" stroke-width="1.2"/>
<line x1="1017.4" y1="379.6" x2="1029.4" y2="379.6" stroke="#000" stroke-width="1.2"/>
<line x1="1017.4" y1="428.5" x2="1029.4" y2="428.5" stroke="#000" stroke-width="1.2"/>
<line x1="1017.4" y1="542.4" x2="1029.4" y2="542.4" stroke="#000" stroke-width="1.2"/>
<line x1="1017.4" y1="619.6" x2="1029.4" y2="619.6" stroke="#000" stroke-width="1.2"/>
<line x1="1017.4" y1="697.2" x2="1029.4" y2="697.2" stroke="#000" stroke-width="1.2"/>
<polygon points="1023.4,213.3 1021.2,219.3 1025.6,219.3" fill="#000"/>
<polygon points="1023.4,260.9 1021.2,254.9 1025.6,254.9" fill="#000"/>
<polygon points="1023.4,260.9 1021.2,266.9 1025.6,266.9" fill="#000"/>
<polygon points="1023.4,309.5 1021.2,303.5 1025.6,303.5" fill="#000"/>
<polygon points="1023.4,309.5 1021.2,315.5 1025.6,315.5" fill="#000"/>
<polygon points="1023.4,379.6 1021.2,373.6 1025.6,373.6" fill="#000"/>
<polygon points="1023.4,379.6 1021.2,385.6 1025.6,385.6" fill="#000"/>
<polygon points="1023.4,428.5 1021.2,422.5 1025.6,422.5" fill="#000"/>
<polygon points="1023.4,428.5 1021.2,434.5 1025.6,434.5" fill="#000"/>
<polygon points="1023.4,542.4 1021.2,536.4 1025.6,536.4" fill="#000"/>
<polygon points="1023.4,542.4 1021.2,548.4 1025.6,548.4" fill="#000"/>
<polygon points="1023.4,619.6 1021.2,613.6 1025.6,613.6" fill="#000"/>
<polygon points="1023.4,619.6 1021.2,625.6 1025.6,625.6" fill="#000"/>
<polygon points="1023.4,697.2 1021.2,691.2 1025.6,691.2" fill="#000"/>
<rect x="1004.4" y="229.8" width="38.0" height="16.0" fill="#fff" transform="rotate(-90 1023.4 237.8)"/>
<text x="1023.4" y="243.8" font-family="Liberation Sans" font-size="16.67" font-weight="normal" text-anchor="middle" fill="#2a2a2a" textLength="34.0" lengthAdjust="spacingAndGlyphs" transform="rotate(-90 1023.4 237.8)">3'-5¼&quot;</text>
<rect x="1006.4" y="279.5" width="34.0" height="16.0" fill="#fff" transform="rotate(-90 1023.4 287.5)"/>
<text x="1023.4" y="293.5" font-family="Liberation Sans" font-size="16.67" font-weight="normal" text-anchor="middle" fill="#2a2a2a" textLength="30.0" lengthAdjust="spacingAndGlyphs" transform="rotate(-90 1023.4 287.5)">3'-6&quot;</text>
<rect x="1006.4" y="338.3" width="34.0" height="16.0" fill="#fff" transform="rotate(-90 1023.4 346.3)"/>
<text x="1023.4" y="352.3" font-family="Liberation Sans" font-size="16.67" font-weight="normal" text-anchor="middle" fill="#2a2a2a" textLength="30.0" lengthAdjust="spacingAndGlyphs" transform="rotate(-90 1023.4 346.3)">5'-0&quot;</text>
<rect x="1006.4" y="394.7" width="34.0" height="16.0" fill="#fff" transform="rotate(-90 1023.4 402.7)"/>
<text x="1023.4" y="408.7" font-family="Liberation Sans" font-size="16.67" font-weight="normal" text-anchor="middle" fill="#2a2a2a" textLength="30.0" lengthAdjust="spacingAndGlyphs" transform="rotate(-90 1023.4 402.7)">3'-6&quot;</text>
<rect x="1003.4" y="477.3" width="40.0" height="16.0" fill="#fff" transform="rotate(-90 1023.4 485.3)"/>
<text x="1023.4" y="491.3" font-family="Liberation Sans" font-size="16.67" font-weight="normal" text-anchor="middle" fill="#2a2a2a" textLength="36.0" lengthAdjust="spacingAndGlyphs" transform="rotate(-90 1023.4 485.3)">8'-1¾&quot;</text>
<rect x="1002.4" y="573.3" width="42.0" height="16.0" fill="#fff" transform="rotate(-90 1023.4 581.3)"/>
<text x="1023.4" y="587.3" font-family="Liberation Sans" font-size="16.67" font-weight="normal" text-anchor="middle" fill="#2a2a2a" textLength="38.0" lengthAdjust="spacingAndGlyphs" transform="rotate(-90 1023.4 581.3)">5'-6½&quot;</text>
<rect x="1002.4" y="650.9" width="42.0" height="16.0" fill="#fff" transform="rotate(-90 1023.4 658.9)"/>
<text x="1023.4" y="664.9" font-family="Liberation Sans" font-size="16.67" font-weight="normal" text-anchor="middle" fill="#2a2a2a" textLength="38.0" lengthAdjust="spacingAndGlyphs" transform="rotate(-90 1023.4 658.9)">5'-6½&quot;</text>
<line x1="952.5" y1="213.3" x2="1072.7" y2="213.3" stroke="#000" stroke-width="1.3"/>
<line x1="1017.6" y1="260.9" x2="1107.8" y2="260.9" stroke="#000" stroke-width="1.3"/>
<line x1="1017.6" y1="428.5" x2="1107.8" y2="428.5" stroke="#000" stroke-width="1.3"/>
<line x1="983.8" y1="542.4" x2="1044.4" y2="542.4" stroke="#000" stroke-width="1.3"/>
<line x1="1017.6" y1="619.6" x2="1079.0" y2="619.6" stroke="#000" stroke-width="1.3"/>
<line x1="983.8" y1="697.2" x2="1044.4" y2="697.2" stroke="#000" stroke-width="1.3"/>
<line x1="983.8" y1="704.7" x2="1044.4" y2="704.7" stroke="#000" stroke-width="1.3"/>
<line x1="983.8" y1="854.3" x2="1044.4" y2="854.3" stroke="#000" stroke-width="1.3"/>
<line x1="952.5" y1="947.7" x2="1038.9" y2="947.7" stroke="#000" stroke-width="1.3"/>
<line x1="1017.6" y1="309.5" x2="1044.0" y2="309.5" stroke="#000" stroke-width="1.3"/>
<line x1="1017.6" y1="379.6" x2="1044.0" y2="379.6" stroke="#000" stroke-width="1.3"/>
<text x="1068.9" y="259.0" font-family="Liberation Sans" font-size="6.94" font-weight="normal" text-anchor="middle" fill="#2a2a2a" textLength="12.0" lengthAdjust="spacingAndGlyphs">2'-8&quot;</text>
<text x="1068.9" y="268.0" font-family="Liberation Sans" font-size="6.94" font-weight="normal" text-anchor="middle" fill="#2a2a2a" textLength="12.0" lengthAdjust="spacingAndGlyphs">5'-6&quot;</text>
<text x="1069.0" y="427.2" font-family="Liberation Sans" font-size="6.94" font-weight="normal" text-anchor="middle" fill="#2a2a2a" textLength="12.0" lengthAdjust="spacingAndGlyphs">2'-8&quot;</text>
<text x="1069.0" y="435.0" font-family="Liberation Sans" font-size="6.94" font-weight="normal" text-anchor="middle" fill="#2a2a2a" textLength="12.0" lengthAdjust="spacingAndGlyphs">5'-0&quot;</text>
<text x="1042.0" y="618.5" font-family="Liberation Sans" font-size="6.94" font-weight="normal" text-anchor="middle" fill="#2a2a2a" textLength="12.0" lengthAdjust="spacingAndGlyphs">6'-0&quot;</text>
<text x="1042.0" y="626.5" font-family="Liberation Sans" font-size="6.94" font-weight="normal" text-anchor="middle" fill="#2a2a2a" textLength="12.0" lengthAdjust="spacingAndGlyphs">5'-2&quot;</text>
<line x1="1880.8" y1="39.3" x2="1880.8" y2="961.3" stroke="#000" stroke-width="1.2"/>
<line x1="1874.8" y1="39.3" x2="1886.8" y2="39.3" stroke="#000" stroke-width="1.2"/>
<line x1="1874.8" y1="212.6" x2="1886.8" y2="212.6" stroke="#000" stroke-width="1.2"/>
<line x1="1874.8" y1="961.3" x2="1886.8" y2="961.3" stroke="#000" stroke-width="1.2"/>
<polygon points="1880.8,39.3 1878.6,45.3 1883.0,45.3" fill="#000"/>
<polygon points="1880.8,212.6 1878.6,206.6 1883.0,206.6" fill="#000"/>
<polygon points="1880.8,212.6 1878.6,218.6 1883.0,218.6" fill="#000"/>
<polygon points="1880.8,961.3 1878.6,955.3 1883.0,955.3" fill="#000"/>
<rect x="1863.8" y="118.0" width="34.0" height="16.0" fill="#fff" transform="rotate(-90 1880.8 126.0)"/>
<text x="1880.8" y="132.0" font-family="Liberation Sans" font-size="16.67" font-weight="normal" text-anchor="middle" fill="#2a2a2a" textLength="30.0" lengthAdjust="spacingAndGlyphs" transform="rotate(-90 1880.8 126.0)">12'-5&quot;</text>
<rect x="1859.8" y="579.0" width="42.0" height="16.0" fill="#fff" transform="rotate(-90 1880.8 587.0)"/>
<text x="1880.8" y="593.0" font-family="Liberation Sans" font-size="16.67" font-weight="normal" text-anchor="middle" fill="#2a2a2a" textLength="38.0" lengthAdjust="spacingAndGlyphs" transform="rotate(-90 1880.8 587.0)">53'-7&quot;</text>
<line x1="1861.8" y1="212.6" x2="1861.8" y2="961.3" stroke="#000" stroke-width="1.2"/>
<line x1="1855.8" y1="212.6" x2="1867.8" y2="212.6" stroke="#000" stroke-width="1.2"/>
<line x1="1855.8" y1="527.8" x2="1867.8" y2="527.8" stroke="#000" stroke-width="1.2"/>
<line x1="1855.8" y1="857.6" x2="1867.8" y2="857.6" stroke="#000" stroke-width="1.2"/>
<line x1="1855.8" y1="961.3" x2="1867.8" y2="961.3" stroke="#000" stroke-width="1.2"/>
<polygon points="1861.8,212.6 1859.6,218.6 1864.0,218.6" fill="#000"/>
<polygon points="1861.8,527.8 1859.6,521.8 1864.0,521.8" fill="#000"/>
<polygon points="1861.8,527.8 1859.6,533.8 1864.0,533.8" fill="#000"/>
<polygon points="1861.8,857.6 1859.6,851.6 1864.0,851.6" fill="#000"/>
<polygon points="1861.8,857.6 1859.6,863.6 1864.0,863.6" fill="#000"/>
<polygon points="1861.8,961.3 1859.6,955.3 1864.0,955.3" fill="#000"/>
<rect x="1840.8" y="364.1" width="42.0" height="16.0" fill="#fff" transform="rotate(-90 1861.8 372.1)"/>
<text x="1861.8" y="378.1" font-family="Liberation Sans" font-size="16.67" font-weight="normal" text-anchor="middle" fill="#2a2a2a" textLength="38.0" lengthAdjust="spacingAndGlyphs" transform="rotate(-90 1861.8 372.1)">22'-7&quot;</text>
<rect x="1840.8" y="684.7" width="42.0" height="16.0" fill="#fff" transform="rotate(-90 1861.8 692.7)"/>
<text x="1861.8" y="698.7" font-family="Liberation Sans" font-size="16.67" font-weight="normal" text-anchor="middle" fill="#2a2a2a" textLength="38.0" lengthAdjust="spacingAndGlyphs" transform="rotate(-90 1861.8 692.7)">23'-7&quot;</text>
<rect x="1845.8" y="901.0" width="32.0" height="16.0" fill="#fff" transform="rotate(-90 1861.8 909.0)"/>
<text x="1861.8" y="915.0" font-family="Liberation Sans" font-size="16.67" font-weight="normal" text-anchor="middle" fill="#2a2a2a" textLength="28.0" lengthAdjust="spacingAndGlyphs" transform="rotate(-90 1861.8 909.0)">7'-5&quot;</text>
<line x1="1836.0" y1="212.6" x2="1836.0" y2="961.3" stroke="#000" stroke-width="1.2"/>
<line x1="1830.0" y1="212.6" x2="1842.0" y2="212.6" stroke="#000" stroke-width="1.2"/>
<line x1="1830.0" y1="276.8" x2="1842.0" y2="276.8" stroke="#000" stroke-width="1.2"/>
<line x1="1830.0" y1="336.3" x2="1842.0" y2="336.3" stroke="#000" stroke-width="1.2"/>
<line x1="1830.0" y1="412.7" x2="1842.0" y2="412.7" stroke="#000" stroke-width="1.2"/>
<line x1="1830.0" y1="434.9" x2="1842.0" y2="434.9" stroke="#000" stroke-width="1.2"/>
<line x1="1830.0" y1="477.7" x2="1842.0" y2="477.7" stroke="#000" stroke-width="1.2"/>
<line x1="1830.0" y1="527.8" x2="1842.0" y2="527.8" stroke="#000" stroke-width="1.2"/>
<line x1="1830.0" y1="692.7" x2="1842.0" y2="692.7" stroke="#000" stroke-width="1.2"/>
<line x1="1830.0" y1="857.6" x2="1842.0" y2="857.6" stroke="#000" stroke-width="1.2"/>
<line x1="1830.0" y1="961.3" x2="1842.0" y2="961.3" stroke="#000" stroke-width="1.2"/>
<polygon points="1836.0,212.6 1833.8,218.6 1838.2,218.6" fill="#000"/>
<polygon points="1836.0,276.8 1833.8,270.8 1838.2,270.8" fill="#000"/>
<polygon points="1836.0,276.8 1833.8,282.8 1838.2,282.8" fill="#000"/>
<polygon points="1836.0,336.3 1833.8,330.3 1838.2,330.3" fill="#000"/>
<polygon points="1836.0,336.3 1833.8,342.3 1838.2,342.3" fill="#000"/>
<polygon points="1836.0,412.7 1833.8,406.7 1838.2,406.7" fill="#000"/>
<polygon points="1836.0,412.7 1833.8,418.7 1838.2,418.7" fill="#000"/>
<polygon points="1836.0,434.9 1833.8,428.9 1838.2,428.9" fill="#000"/>
<polygon points="1836.0,434.9 1833.8,440.9 1838.2,440.9" fill="#000"/>
<polygon points="1836.0,477.7 1833.8,471.7 1838.2,471.7" fill="#000"/>
<polygon points="1836.0,477.7 1833.8,483.7 1838.2,483.7" fill="#000"/>
<polygon points="1836.0,527.8 1833.8,521.8 1838.2,521.8" fill="#000"/>
<polygon points="1836.0,527.8 1833.8,533.8 1838.2,533.8" fill="#000"/>
<polygon points="1836.0,692.7 1833.8,686.7 1838.2,686.7" fill="#000"/>
<polygon points="1836.0,692.7 1833.8,698.7 1838.2,698.7" fill="#000"/>
<polygon points="1836.0,857.6 1833.8,851.6 1838.2,851.6" fill="#000"/>
<polygon points="1836.0,857.6 1833.8,863.6 1838.2,863.6" fill="#000"/>
<polygon points="1836.0,961.3 1833.8,955.3 1838.2,955.3" fill="#000"/>
<rect x="1820.0" y="237.0" width="32.0" height="16.0" fill="#fff" transform="rotate(-90 1836.0 245.0)"/>
<text x="1836.0" y="251.0" font-family="Liberation Sans" font-size="16.67" font-weight="normal" text-anchor="middle" fill="#2a2a2a" textLength="28.0" lengthAdjust="spacingAndGlyphs" transform="rotate(-90 1836.0 245.0)">4'-7&quot;</text>
<rect x="1820.0" y="288.3" width="32.0" height="16.0" fill="#fff" transform="rotate(-90 1836.0 296.3)"/>
<text x="1836.0" y="302.3" font-family="Liberation Sans" font-size="16.67" font-weight="normal" text-anchor="middle" fill="#2a2a2a" textLength="28.0" lengthAdjust="spacingAndGlyphs" transform="rotate(-90 1836.0 296.3)">4'-3&quot;</text>
<rect x="1819.0" y="366.8" width="34.0" height="16.0" fill="#fff" transform="rotate(-90 1836.0 374.8)"/>
<text x="1836.0" y="380.8" font-family="Liberation Sans" font-size="16.67" font-weight="normal" text-anchor="middle" fill="#2a2a2a" textLength="30.0" lengthAdjust="spacingAndGlyphs" transform="rotate(-90 1836.0 374.8)">5'-6&quot;</text>
<text x="1823.0" y="433.6" font-family="Liberation Sans" font-size="16.67" font-weight="normal" text-anchor="middle" fill="#2a2a2a" textLength="34.0" lengthAdjust="spacingAndGlyphs" transform="rotate(-90 1823.0 427.6)">1'-6½&quot;</text>
<rect x="1821.0" y="448.0" width="30.0" height="16.0" fill="#fff" transform="rotate(-90 1836.0 456.0)"/>
<text x="1836.0" y="462.0" font-family="Liberation Sans" font-size="16.67" font-weight="normal" text-anchor="middle" fill="#2a2a2a" textLength="26.0" lengthAdjust="spacingAndGlyphs" transform="rotate(-90 1836.0 456.0)">3'-1&quot;</text>
<text x="1823.0" y="508.1" font-family="Liberation Sans" font-size="16.67" font-weight="normal" text-anchor="middle" fill="#2a2a2a" textLength="38.0" lengthAdjust="spacingAndGlyphs" transform="rotate(-90 1823.0 502.1)">3'-7½&quot;</text>
<rect x="1817.0" y="603.5" width="38.0" height="16.0" fill="#fff" transform="rotate(-90 1836.0 611.5)"/>
<text x="1836.0" y="617.5" font-family="Liberation Sans" font-size="16.67" font-weight="normal" text-anchor="middle" fill="#2a2a2a" textLength="34.0" lengthAdjust="spacingAndGlyphs" transform="rotate(-90 1836.0 611.5)">11'-9½&quot;</text>
<rect x="1817.0" y="768.7" width="38.0" height="16.0" fill="#fff" transform="rotate(-90 1836.0 776.7)"/>
<text x="1836.0" y="782.7" font-family="Liberation Sans" font-size="16.67" font-weight="normal" text-anchor="middle" fill="#2a2a2a" textLength="34.0" lengthAdjust="spacingAndGlyphs" transform="rotate(-90 1836.0 776.7)">11'-9½&quot;</text>
<rect x="1820.0" y="901.0" width="32.0" height="16.0" fill="#fff" transform="rotate(-90 1836.0 909.0)"/>
<text x="1836.0" y="915.0" font-family="Liberation Sans" font-size="16.67" font-weight="normal" text-anchor="middle" fill="#2a2a2a" textLength="28.0" lengthAdjust="spacingAndGlyphs" transform="rotate(-90 1836.0 909.0)">7'-5&quot;</text>
<line x1="1800.3" y1="212.6" x2="1886.2" y2="212.6" stroke="#000" stroke-width="1.3"/>
<line x1="1796.0" y1="276.8" x2="1841.5" y2="276.8" stroke="#000" stroke-width="1.3"/>
<line x1="1765.7" y1="336.3" x2="1841.5" y2="336.3" stroke="#000" stroke-width="1.3"/>
<line x1="1765.7" y1="412.7" x2="1841.5" y2="412.7" stroke="#000" stroke-width="1.3"/>
<line x1="1796.0" y1="434.9" x2="1841.5" y2="434.9" stroke="#000" stroke-width="1.3"/>
<line x1="1796.0" y1="477.7" x2="1841.5" y2="477.7" stroke="#000" stroke-width="1.3"/>
<line x1="1796.0" y1="527.8" x2="1867.2" y2="527.8" stroke="#000" stroke-width="1.3"/>
<line x1="1764.3" y1="692.7" x2="1841.5" y2="692.7" stroke="#000" stroke-width="1.3"/>
<line x1="1800.0" y1="857.6" x2="1867.2" y2="857.6" stroke="#000" stroke-width="1.3"/>
<line x1="1475.8" y1="961.3" x2="1886.2" y2="961.3" stroke="#000" stroke-width="1.3"/>
<line x1="1765.7" y1="500.7" x2="1810.0" y2="500.7" stroke="#000" stroke-width="1.3"/>
<text x="1803.6" y="334.0" font-family="Liberation Sans" font-size="6.94" font-weight="normal" text-anchor="middle" fill="#2a2a2a" textLength="12.0" lengthAdjust="spacingAndGlyphs">1'-6&quot;</text>
<text x="1803.6" y="343.0" font-family="Liberation Sans" font-size="6.94" font-weight="normal" text-anchor="middle" fill="#2a2a2a" textLength="12.0" lengthAdjust="spacingAndGlyphs">9'-2&quot;</text>
<text x="1803.6" y="411.0" font-family="Liberation Sans" font-size="6.94" font-weight="normal" text-anchor="middle" fill="#2a2a2a" textLength="12.0" lengthAdjust="spacingAndGlyphs">1'-6&quot;</text>
<text x="1803.6" y="420.0" font-family="Liberation Sans" font-size="6.94" font-weight="normal" text-anchor="middle" fill="#2a2a2a" textLength="12.0" lengthAdjust="spacingAndGlyphs">9'-2&quot;</text>
<text x="1803.6" y="499.0" font-family="Liberation Sans" font-size="6.94" font-weight="normal" text-anchor="middle" fill="#2a2a2a" textLength="12.0" lengthAdjust="spacingAndGlyphs">2'-0&quot;</text>
<text x="1803.6" y="508.0" font-family="Liberation Sans" font-size="6.94" font-weight="normal" text-anchor="middle" fill="#2a2a2a" textLength="12.0" lengthAdjust="spacingAndGlyphs">9'-2&quot;</text>
<text x="1774.6" y="689.0" font-family="Liberation Sans" font-size="8.33" font-weight="normal" text-anchor="middle" fill="#2a2a2a" textLength="19.0" lengthAdjust="spacingAndGlyphs">18'-0&quot;</text>
<text x="1774.6" y="702.5" font-family="Liberation Sans" font-size="8.33" font-weight="normal" text-anchor="middle" fill="#2a2a2a" textLength="17.0" lengthAdjust="spacingAndGlyphs">7'-0&quot;</text>
<line x1="1345.1" y1="264.6" x2="1786.3" y2="264.6" stroke="#000" stroke-width="1.2"/>
<line x1="1345.1" y1="258.6" x2="1345.1" y2="270.6" stroke="#000" stroke-width="1.2"/>
<line x1="1450.1" y1="258.6" x2="1450.1" y2="270.6" stroke="#000" stroke-width="1.2"/>
<line x1="1689.8" y1="258.6" x2="1689.8" y2="270.6" stroke="#000" stroke-width="1.2"/>
<line x1="1786.3" y1="258.6" x2="1786.3" y2="270.6" stroke="#000" stroke-width="1.2"/>
<polygon points="1345.1,264.6 1351.1,262.4 1351.1,266.8" fill="#000"/>
<polygon points="1450.1,264.6 1444.1,262.4 1444.1,266.8" fill="#000"/>
<polygon points="1450.1,264.6 1456.1,262.4 1456.1,266.8" fill="#000"/>
<polygon points="1689.8,264.6 1683.8,262.4 1683.8,266.8" fill="#000"/>
<polygon points="1689.8,264.6 1695.8,262.4 1695.8,266.8" fill="#000"/>
<polygon points="1786.3,264.6 1780.3,262.4 1780.3,266.8" fill="#000"/>
<rect x="1381.0" y="258.1" width="34.0" height="13.0" fill="#fff"/>
<text x="1398.0" y="269.1" font-family="Liberation Sans" font-size="12.50" font-weight="normal" text-anchor="middle" fill="#2a2a2a" textLength="30.0" lengthAdjust="spacingAndGlyphs">7'-6½&quot;</text>
<rect x="1556.5" y="258.1" width="27.0" height="13.0" fill="#fff"/>
<text x="1570.0" y="269.1" font-family="Liberation Sans" font-size="12.50" font-weight="normal" text-anchor="middle" fill="#2a2a2a" textLength="23.0" lengthAdjust="spacingAndGlyphs">17'-2&quot;</text>
<rect x="1726.0" y="258.1" width="24.0" height="13.0" fill="#fff"/>
<text x="1738.0" y="269.1" font-family="Liberation Sans" font-size="12.50" font-weight="normal" text-anchor="middle" fill="#2a2a2a" textLength="20.0" lengthAdjust="spacingAndGlyphs">6'-11&quot;</text>
<line x1="1057.7" y1="323.3" x2="1345.6" y2="323.3" stroke="#000" stroke-width="1.2"/>
<line x1="1057.7" y1="317.3" x2="1057.7" y2="329.3" stroke="#000" stroke-width="1.2"/>
<line x1="1085.8" y1="317.3" x2="1085.8" y2="329.3" stroke="#000" stroke-width="1.2"/>
<line x1="1345.6" y1="317.3" x2="1345.6" y2="329.3" stroke="#000" stroke-width="1.2"/>
<polygon points="1057.7,323.3 1063.7,321.1 1063.7,325.5" fill="#000"/>
<polygon points="1085.8,323.3 1079.8,321.1 1079.8,325.5" fill="#000"/>
<polygon points="1085.8,323.3 1091.8,321.1 1091.8,325.5" fill="#000"/>
<polygon points="1345.6,323.3 1339.6,321.1 1339.6,325.5" fill="#000"/>
<rect x="1198.4" y="316.8" width="34.0" height="13.0" fill="#fff"/>
<text x="1215.4" y="327.8" font-family="Liberation Sans" font-size="12.50" font-weight="normal" text-anchor="middle" fill="#2a2a2a" textLength="30.0" lengthAdjust="spacingAndGlyphs">18'-6½&quot;</text>
<rect x="1067.0" y="328.5" width="26.0" height="13.0" fill="#fff"/>
<text x="1080.0" y="339.5" font-family="Liberation Sans" font-size="12.50" font-weight="normal" text-anchor="middle" fill="#2a2a2a" textLength="22.0" lengthAdjust="spacingAndGlyphs">2'-0&quot;</text>
<line x1="1119.5" y1="217.2" x2="1119.5" y2="472.8" stroke="#000" stroke-width="1.2"/>
<line x1="1113.5" y1="217.2" x2="1125.5" y2="217.2" stroke="#000" stroke-width="1.2"/>
<line x1="1113.5" y1="344.4" x2="1125.5" y2="344.4" stroke="#000" stroke-width="1.2"/>
<line x1="1113.5" y1="472.8" x2="1125.5" y2="472.8" stroke="#000" stroke-width="1.2"/>
<polygon points="1119.5,217.2 1117.3,223.2 1121.7,223.2" fill="#000"/>
<polygon points="1119.5,344.4 1117.3,338.4 1121.7,338.4" fill="#000"/>
<polygon points="1119.5,344.4 1117.3,350.4 1121.7,350.4" fill="#000"/>
<polygon points="1119.5,472.8 1117.3,466.8 1121.7,466.8" fill="#000"/>
<rect x="1104.0" y="271.7" width="31.0" height="13.0" fill="#fff" transform="rotate(-90 1119.5 278.2)"/>
<text x="1119.5" y="282.7" font-family="Liberation Sans" font-size="12.50" font-weight="normal" text-anchor="middle" fill="#2a2a2a" textLength="27.0" lengthAdjust="spacingAndGlyphs" transform="rotate(-90 1119.5 278.2)">9'-5¼&quot;</text>
<rect x="1104.0" y="406.2" width="31.0" height="13.0" fill="#fff" transform="rotate(-90 1119.5 412.7)"/>
<text x="1119.5" y="417.2" font-family="Liberation Sans" font-size="12.50" font-weight="normal" text-anchor="middle" fill="#2a2a2a" textLength="27.0" lengthAdjust="spacingAndGlyphs" transform="rotate(-90 1119.5 412.7)">9'-5¼&quot;</text>
<line x1="1198.4" y1="217.2" x2="1198.4" y2="472.8" stroke="#000" stroke-width="1.2"/>
<polygon points="1198.4,217.2 1196.2,223.2 1200.6,223.2" fill="#000"/>
<polygon points="1198.4,472.8 1196.2,466.8 1200.6,466.8" fill="#000"/>
<rect x="1184.4" y="336.1" width="28.0" height="13.0" fill="#fff" transform="rotate(-90 1198.4 342.6)"/>
<text x="1198.4" y="347.1" font-family="Liberation Sans" font-size="12.50" font-weight="normal" text-anchor="middle" fill="#2a2a2a" textLength="24.0" lengthAdjust="spacingAndGlyphs" transform="rotate(-90 1198.4 342.6)">18'-7&quot;</text>
<line x1="1356.6" y1="217.3" x2="1356.6" y2="401.5" stroke="#000" stroke-width="1.2"/>
<polygon points="1356.6,217.3 1354.4,223.3 1358.8,223.3" fill="#000"/>
<polygon points="1356.6,401.5 1354.4,395.5 1358.8,395.5" fill="#000"/>
<rect x="1340.6" y="301.5" width="32.0" height="12.0" fill="#fff" transform="rotate(-90 1356.6 307.5)"/>
<text x="1356.6" y="311.5" font-family="Liberation Sans" font-size="11.11" font-weight="normal" text-anchor="middle" fill="#2a2a2a" textLength="28.0" lengthAdjust="spacingAndGlyphs" transform="rotate(-90 1356.6 307.5)">13'-9½&quot;</text>
<line x1="1356.6" y1="405.3" x2="1356.6" y2="426.7" stroke="#000" stroke-width="1.2"/>
<line x1="1351.6" y1="405.3" x2="1361.6" y2="405.3" stroke="#000" stroke-width="1.2"/>
<line x1="1351.6" y1="426.7" x2="1361.6" y2="426.7" stroke="#000" stroke-width="1.2"/>
<polygon points="1356.6,405.3 1354.4,411.3 1358.8,411.3" fill="#000"/>
<polygon points="1356.6,426.7 1354.4,420.7 1358.8,420.7" fill="#000"/>
<rect x="1346.6" y="410.0" width="20.0" height="12.0" fill="#fff" transform="rotate(-90 1356.6 416.0)"/>
<text x="1356.6" y="420.0" font-family="Liberation Sans" font-size="11.11" font-weight="normal" text-anchor="middle" fill="#2a2a2a" textLength="16.0" lengthAdjust="spacingAndGlyphs" transform="rotate(-90 1356.6 416.0)">1'-6&quot;</text>
<line x1="1465.4" y1="217.3" x2="1465.4" y2="426.7" stroke="#000" stroke-width="1.2"/>
<polygon points="1465.4,217.3 1463.2,223.3 1467.6,223.3" fill="#000"/>
<polygon points="1465.4,426.7 1463.2,420.7 1467.6,420.7" fill="#000"/>
<rect x="1451.4" y="316.8" width="28.0" height="13.0" fill="#fff" transform="rotate(-90 1465.4 323.3)"/>
<text x="1465.4" y="327.8" font-family="Liberation Sans" font-size="12.50" font-weight="normal" text-anchor="middle" fill="#2a2a2a" textLength="24.0" lengthAdjust="spacingAndGlyphs" transform="rotate(-90 1465.4 323.3)">15'-0&quot;</text>
<text x="1397.3" y="289.4" font-family="Liberation Sans" font-size="11.11" font-weight="normal" text-anchor="middle" fill="#2a2a2a" textLength="20.0" lengthAdjust="spacingAndGlyphs">WIC</text>
<line x1="1058.3" y1="462.8" x2="1345.1" y2="462.8" stroke="#000" stroke-width="1.2"/>
<line x1="1058.3" y1="456.8" x2="1058.3" y2="468.8" stroke="#000" stroke-width="1.2"/>
<line x1="1080.8" y1="456.8" x2="1080.8" y2="468.8" stroke="#000" stroke-width="1.2"/>
<line x1="1089.6" y1="456.8" x2="1089.6" y2="468.8" stroke="#000" stroke-width="1.2"/>
<line x1="1144.0" y1="456.8" x2="1144.0" y2="468.8" stroke="#000" stroke-width="1.2"/>
<line x1="1345.1" y1="456.8" x2="1345.1" y2="468.8" stroke="#000" stroke-width="1.2"/>
<polygon points="1058.3,462.8 1064.3,460.6 1064.3,465.0" fill="#000"/>
<polygon points="1080.8,462.8 1074.8,460.6 1074.8,465.0" fill="#000"/>
<polygon points="1080.8,462.8 1086.8,460.6 1086.8,465.0" fill="#000"/>
<polygon points="1089.6,462.8 1083.6,460.6 1083.6,465.0" fill="#000"/>
<polygon points="1089.6,462.8 1095.6,460.6 1095.6,465.0" fill="#000"/>
<polygon points="1144.0,462.8 1138.0,460.6 1138.0,465.0" fill="#000"/>
<polygon points="1144.0,462.8 1150.0,460.6 1150.0,465.0" fill="#000"/>
<polygon points="1345.1,462.8 1339.1,460.6 1339.1,465.0" fill="#000"/>
<rect x="1100.4" y="456.3" width="30.0" height="13.0" fill="#fff"/>
<text x="1115.4" y="467.3" font-family="Liberation Sans" font-size="12.50" font-weight="normal" text-anchor="middle" fill="#2a2a2a" textLength="26.0" lengthAdjust="spacingAndGlyphs">4'-1½&quot;</text>
<rect x="1230.0" y="456.3" width="26.0" height="13.0" fill="#fff"/>
<text x="1243.0" y="467.3" font-family="Liberation Sans" font-size="12.50" font-weight="normal" text-anchor="middle" fill="#2a2a2a" textLength="22.0" lengthAdjust="spacingAndGlyphs">14'-5&quot;</text>
<line x1="1058.3" y1="457.0" x2="1058.3" y2="528.3" stroke="#000" stroke-width="1.2"/>
<text x="1070.6" y="457.4" font-family="Liberation Sans" font-size="12.50" font-weight="normal" text-anchor="middle" fill="#2a2a2a" textLength="22.0" lengthAdjust="spacingAndGlyphs">2'-0&quot;</text>
<line x1="1348.9" y1="463.0" x2="1510.6" y2="463.0" stroke="#000" stroke-width="1.2"/>
<line x1="1348.9" y1="457.0" x2="1348.9" y2="469.0" stroke="#000" stroke-width="1.2"/>
<line x1="1510.6" y1="457.0" x2="1510.6" y2="469.0" stroke="#000" stroke-width="1.2"/>
<polygon points="1348.9,463.0 1354.9,460.8 1354.9,465.2" fill="#000"/>
<polygon points="1510.6,463.0 1504.6,460.8 1504.6,465.2" fill="#000"/>
<rect x="1413.0" y="456.5" width="28.0" height="13.0" fill="#fff"/>
<text x="1427.0" y="467.5" font-family="Liberation Sans" font-size="12.50" font-weight="normal" text-anchor="middle" fill="#2a2a2a" textLength="24.0" lengthAdjust="spacingAndGlyphs">11'-10&quot;</text>
<line x1="1465.4" y1="426.7" x2="1465.4" y2="524.3" stroke="#000" stroke-width="1.2"/>
<line x1="1459.4" y1="426.7" x2="1471.4" y2="426.7" stroke="#000" stroke-width="1.2"/>
<line x1="1459.4" y1="524.3" x2="1471.4" y2="524.3" stroke="#000" stroke-width="1.2"/>
<polygon points="1465.4,426.7 1463.2,432.7 1467.6,432.7" fill="#000"/>
<polygon points="1465.4,524.3 1463.2,518.3 1467.6,518.3" fill="#000"/>
<rect x="1449.9" y="472.5" width="31.0" height="13.0" fill="#fff" transform="rotate(-90 1465.4 479.0)"/>
<text x="1465.4" y="483.5" font-family="Liberation Sans" font-size="12.50" font-weight="normal" text-anchor="middle" fill="#2a2a2a" textLength="27.0" lengthAdjust="spacingAndGlyphs" transform="rotate(-90 1465.4 479.0)">7'-3½&quot;</text>
<line x1="1119.5" y1="476.7" x2="1119.5" y2="542.6" stroke="#000" stroke-width="1.2"/>
<line x1="1113.5" y1="476.7" x2="1125.5" y2="476.7" stroke="#000" stroke-width="1.2"/>
<line x1="1113.5" y1="542.6" x2="1125.5" y2="542.6" stroke="#000" stroke-width="1.2"/>
<polygon points="1119.5,476.7 1117.3,482.7 1121.7,482.7" fill="#000"/>
<polygon points="1119.5,542.6 1117.3,536.6 1121.7,536.6" fill="#000"/>
<rect x="1108.5" y="505.5" width="22.0" height="13.0" fill="#fff" transform="rotate(-90 1119.5 512.0)"/>
<text x="1119.5" y="516.5" font-family="Liberation Sans" font-size="12.50" font-weight="normal" text-anchor="middle" fill="#2a2a2a" textLength="18.0" lengthAdjust="spacingAndGlyphs" transform="rotate(-90 1119.5 512.0)">5'-0&quot;</text>
<text x="1107.3" y="514.2" font-family="Liberation Sans" font-size="9.72" font-weight="normal" text-anchor="middle" fill="#2a2a2a" textLength="32.6" lengthAdjust="spacingAndGlyphs" transform="rotate(-90 1107.3 510.7)">PANTRY</text>
<line x1="1198.3" y1="472.6" x2="1198.3" y2="528.3" stroke="#000" stroke-width="1.2"/>
<line x1="1192.3" y1="472.6" x2="1204.3" y2="472.6" stroke="#000" stroke-width="1.2"/>
<line x1="1192.3" y1="528.3" x2="1204.3" y2="528.3" stroke="#000" stroke-width="1.2"/>
<polygon points="1198.3,472.6 1196.1,478.6 1200.5,478.6" fill="#000"/>
<polygon points="1198.3,528.3 1196.1,522.3 1200.5,522.3" fill="#000"/>
<rect x="1187.3" y="494.0" width="22.0" height="13.0" fill="#fff" transform="rotate(-90 1198.3 500.5)"/>
<text x="1198.3" y="505.0" font-family="Liberation Sans" font-size="12.50" font-weight="normal" text-anchor="middle" fill="#2a2a2a" textLength="18.0" lengthAdjust="spacingAndGlyphs" transform="rotate(-90 1198.3 500.5)">4'-0&quot;</text>
<line x1="1198.4" y1="528.3" x2="1198.4" y2="697.0" stroke="#000" stroke-width="1.2"/>
<polygon points="1198.4,528.3 1196.2,534.3 1200.6,534.3" fill="#000"/>
<polygon points="1198.4,697.0 1196.2,691.0 1200.6,691.0" fill="#000"/>
<rect x="1186.4" y="603.5" width="24.0" height="13.0" fill="#fff" transform="rotate(-90 1198.4 610.0)"/>
<text x="1198.4" y="614.5" font-family="Liberation Sans" font-size="12.50" font-weight="normal" text-anchor="middle" fill="#2a2a2a" textLength="20.0" lengthAdjust="spacingAndGlyphs" transform="rotate(-90 1198.4 610.0)">12'-1&quot;</text>
<line x1="1148.0" y1="515.4" x2="1344.4" y2="515.4" stroke="#000" stroke-width="1.2"/>
<line x1="1148.0" y1="509.4" x2="1148.0" y2="521.4" stroke="#000" stroke-width="1.2"/>
<line x1="1211.9" y1="509.4" x2="1211.9" y2="521.4" stroke="#000" stroke-width="1.2"/>
<line x1="1344.4" y1="509.4" x2="1344.4" y2="521.4" stroke="#000" stroke-width="1.2"/>
<polygon points="1148.0,515.4 1154.0,513.2 1154.0,517.6" fill="#000"/>
<polygon points="1211.9,515.4 1205.9,513.2 1205.9,517.6" fill="#000"/>
<polygon points="1211.9,515.4 1217.9,513.2 1217.9,517.6" fill="#000"/>
<polygon points="1344.4,515.4 1338.4,513.2 1338.4,517.6" fill="#000"/>
<rect x="1164.3" y="508.9" width="34.0" height="13.0" fill="#fff"/>
<text x="1181.3" y="519.9" font-family="Liberation Sans" font-size="12.50" font-weight="normal" text-anchor="middle" fill="#2a2a2a" textLength="30.0" lengthAdjust="spacingAndGlyphs">4'-10½&quot;</text>
<rect x="1261.0" y="508.9" width="34.0" height="13.0" fill="#fff"/>
<text x="1278.0" y="519.9" font-family="Liberation Sans" font-size="12.50" font-weight="normal" text-anchor="middle" fill="#2a2a2a" textLength="30.0" lengthAdjust="spacingAndGlyphs">9'-6½&quot;</text>
<line x1="1348.8" y1="537.1" x2="1786.0" y2="537.1" stroke="#000" stroke-width="1.2"/>
<line x1="1348.8" y1="531.1" x2="1348.8" y2="543.1" stroke="#000" stroke-width="1.2"/>
<line x1="1399.6" y1="531.1" x2="1399.6" y2="543.1" stroke="#000" stroke-width="1.2"/>
<line x1="1403.2" y1="531.1" x2="1403.2" y2="543.1" stroke="#000" stroke-width="1.2"/>
<line x1="1450.1" y1="531.1" x2="1450.1" y2="543.1" stroke="#000" stroke-width="1.2"/>
<line x1="1454.2" y1="531.1" x2="1454.2" y2="543.1" stroke="#000" stroke-width="1.2"/>
<line x1="1509.7" y1="531.1" x2="1509.7" y2="543.1" stroke="#000" stroke-width="1.2"/>
<line x1="1597.7" y1="531.1" x2="1597.7" y2="543.1" stroke="#000" stroke-width="1.2"/>
<line x1="1689.8" y1="531.1" x2="1689.8" y2="543.1" stroke="#000" stroke-width="1.2"/>
<line x1="1786.0" y1="531.1" x2="1786.0" y2="543.1" stroke="#000" stroke-width="1.2"/>
<polygon points="1348.8,537.1 1354.8,534.9 1354.8,539.3" fill="#000"/>
<polygon points="1399.6,537.1 1393.6,534.9 1393.6,539.3" fill="#000"/>
<polygon points="1399.6,537.1 1405.6,534.9 1405.6,539.3" fill="#000"/>
<polygon points="1403.2,537.1 1397.2,534.9 1397.2,539.3" fill="#000"/>
<polygon points="1403.2,537.1 1409.2,534.9 1409.2,539.3" fill="#000"/>
<polygon points="1450.1,537.1 1444.1,534.9 1444.1,539.3" fill="#000"/>
<polygon points="1450.1,537.1 1456.1,534.9 1456.1,539.3" fill="#000"/>
<polygon points="1454.2,537.1 1448.2,534.9 1448.2,539.3" fill="#000"/>
<polygon points="1454.2,537.1 1460.2,534.9 1460.2,539.3" fill="#000"/>
<polygon points="1509.7,537.1 1503.7,534.9 1503.7,539.3" fill="#000"/>
<polygon points="1509.7,537.1 1515.7,534.9 1515.7,539.3" fill="#000"/>
<polygon points="1597.7,537.1 1591.7,534.9 1591.7,539.3" fill="#000"/>
<polygon points="1597.7,537.1 1603.7,534.9 1603.7,539.3" fill="#000"/>
<polygon points="1689.8,537.1 1683.8,534.9 1683.8,539.3" fill="#000"/>
<polygon points="1689.8,537.1 1695.8,534.9 1695.8,539.3" fill="#000"/>
<polygon points="1786.0,537.1 1780.0,534.9 1780.0,539.3" fill="#000"/>
<rect x="1360.5" y="530.6" width="24.0" height="13.0" fill="#fff"/>
<text x="1372.5" y="541.6" font-family="Liberation Sans" font-size="12.50" font-weight="normal" text-anchor="middle" fill="#2a2a2a" textLength="20.0" lengthAdjust="spacingAndGlyphs">3'-11&quot;</text>
<rect x="1414.6" y="530.6" width="24.0" height="13.0" fill="#fff"/>
<text x="1426.6" y="541.6" font-family="Liberation Sans" font-size="12.50" font-weight="normal" text-anchor="middle" fill="#2a2a2a" textLength="20.0" lengthAdjust="spacingAndGlyphs">3'-4&quot;</text>
<rect x="1465.3" y="530.6" width="32.0" height="13.0" fill="#fff"/>
<text x="1481.3" y="541.6" font-family="Liberation Sans" font-size="12.50" font-weight="normal" text-anchor="middle" fill="#2a2a2a" textLength="28.0" lengthAdjust="spacingAndGlyphs">4'-3½&quot;</text>
<rect x="1538.4" y="530.6" width="32.0" height="13.0" fill="#fff"/>
<text x="1554.4" y="541.6" font-family="Liberation Sans" font-size="12.50" font-weight="normal" text-anchor="middle" fill="#2a2a2a" textLength="28.0" lengthAdjust="spacingAndGlyphs">6'-3½&quot;</text>
<rect x="1630.8" y="530.6" width="26.0" height="13.0" fill="#fff"/>
<text x="1643.8" y="541.6" font-family="Liberation Sans" font-size="12.50" font-weight="normal" text-anchor="middle" fill="#2a2a2a" textLength="22.0" lengthAdjust="spacingAndGlyphs">6'-7&quot;</text>
<rect x="1725.2" y="530.6" width="24.0" height="13.0" fill="#fff"/>
<text x="1737.2" y="541.6" font-family="Liberation Sans" font-size="12.50" font-weight="normal" text-anchor="middle" fill="#2a2a2a" textLength="20.0" lengthAdjust="spacingAndGlyphs">6'-11&quot;</text>
<text x="1391.0" y="528.5" font-family="Liberation Sans" font-size="12.50" font-weight="normal" text-anchor="middle" fill="#2a2a2a" textLength="14.0" lengthAdjust="spacingAndGlyphs">3½&quot;</text>
<line x1="1057.7" y1="651.9" x2="1344.4" y2="651.9" stroke="#000" stroke-width="1.2"/>
<line x1="1057.7" y1="645.9" x2="1057.7" y2="657.9" stroke="#000" stroke-width="1.2"/>
<line x1="1211.7" y1="645.9" x2="1211.7" y2="657.9" stroke="#000" stroke-width="1.2"/>
<line x1="1344.4" y1="645.9" x2="1344.4" y2="657.9" stroke="#000" stroke-width="1.2"/>
<polygon points="1057.7,651.9 1063.7,649.7 1063.7,654.1" fill="#000"/>
<polygon points="1211.7,651.9 1205.7,649.7 1205.7,654.1" fill="#000"/>
<polygon points="1211.7,651.9 1217.7,649.7 1217.7,654.1" fill="#000"/>
<polygon points="1344.4,651.9 1338.4,649.7 1338.4,654.1" fill="#000"/>
<rect x="1121.0" y="645.4" width="26.0" height="13.0" fill="#fff"/>
<text x="1134.0" y="656.4" font-family="Liberation Sans" font-size="12.50" font-weight="normal" text-anchor="middle" fill="#2a2a2a" textLength="22.0" lengthAdjust="spacingAndGlyphs">11'-0&quot;</text>
<rect x="1261.0" y="645.4" width="34.0" height="13.0" fill="#fff"/>
<text x="1278.0" y="656.4" font-family="Liberation Sans" font-size="12.50" font-weight="normal" text-anchor="middle" fill="#2a2a2a" textLength="30.0" lengthAdjust="spacingAndGlyphs">9'-6½&quot;</text>
<line x1="1057.8" y1="761.2" x2="1141.0" y2="761.2" stroke="#000" stroke-width="1.2"/>
<line x1="1057.8" y1="755.2" x2="1057.8" y2="767.2" stroke="#000" stroke-width="1.2"/>
<line x1="1141.0" y1="755.2" x2="1141.0" y2="767.2" stroke="#000" stroke-width="1.2"/>
<polygon points="1057.8,761.2 1063.8,759.0 1063.8,763.4" fill="#000"/>
<polygon points="1141.0,761.2 1135.0,759.0 1135.0,763.4" fill="#000"/>
<rect x="1086.0" y="754.7" width="26.0" height="13.0" fill="#fff"/>
<text x="1099.0" y="765.7" font-family="Liberation Sans" font-size="12.50" font-weight="normal" text-anchor="middle" fill="#2a2a2a" textLength="22.0" lengthAdjust="spacingAndGlyphs">6'-0&quot;</text>
<line x1="1117.2" y1="697.0" x2="1117.2" y2="857.4" stroke="#000" stroke-width="1.2"/>
<line x1="1110.2" y1="697.0" x2="1124.2" y2="697.0" stroke="#000" stroke-width="1.2"/>
<line x1="1110.2" y1="737.0" x2="1124.2" y2="737.0" stroke="#000" stroke-width="1.2"/>
<line x1="1110.2" y1="857.4" x2="1124.2" y2="857.4" stroke="#000" stroke-width="1.2"/>
<polygon points="1117.2,697.0 1115.0,703.0 1119.4,703.0" fill="#000"/>
<polygon points="1117.2,737.0 1115.0,731.0 1119.4,731.0" fill="#000"/>
<polygon points="1117.2,737.0 1115.0,743.0 1119.4,743.0" fill="#000"/>
<polygon points="1117.2,857.4 1115.0,851.4 1119.4,851.4" fill="#000"/>
<rect x="1106.2" y="707.5" width="22.0" height="13.0" fill="#fff" transform="rotate(-90 1117.2 714.0)"/>
<text x="1117.2" y="718.5" font-family="Liberation Sans" font-size="12.50" font-weight="normal" text-anchor="middle" fill="#2a2a2a" textLength="18.0" lengthAdjust="spacingAndGlyphs" transform="rotate(-90 1117.2 714.0)">2'-10&quot;</text>
<rect x="1104.2" y="790.1" width="26.0" height="13.0" fill="#fff" transform="rotate(-90 1117.2 796.6)"/>
<text x="1117.2" y="801.1" font-family="Liberation Sans" font-size="12.50" font-weight="normal" text-anchor="middle" fill="#2a2a2a" textLength="22.0" lengthAdjust="spacingAndGlyphs" transform="rotate(-90 1117.2 796.6)">8'-8&quot;</text>
<line x1="1111.3" y1="736.4" x2="1163.1" y2="736.4" stroke="#000" stroke-width="1.2"/>
<text x="1125.0" y="735.1" font-family="Liberation Sans" font-size="6.94" font-weight="normal" text-anchor="middle" fill="#2a2a2a" textLength="12.0" lengthAdjust="spacingAndGlyphs">2'-8&quot;</text>
<text x="1125.0" y="744.0" font-family="Liberation Sans" font-size="6.94" font-weight="normal" text-anchor="middle" fill="#2a2a2a" textLength="12.0" lengthAdjust="spacingAndGlyphs">6'-2&quot;</text>
<line x1="1198.7" y1="697.0" x2="1198.7" y2="854.0" stroke="#000" stroke-width="1.2"/>
<line x1="1192.7" y1="697.0" x2="1204.7" y2="697.0" stroke="#000" stroke-width="1.2"/>
<line x1="1192.7" y1="854.0" x2="1204.7" y2="854.0" stroke="#000" stroke-width="1.2"/>
<polygon points="1198.7,697.0 1196.5,703.0 1200.9,703.0" fill="#000"/>
<polygon points="1198.7,854.0 1196.5,848.0 1200.9,848.0" fill="#000"/>
<rect x="1186.7" y="771.3" width="24.0" height="13.0" fill="#fff" transform="rotate(-90 1198.7 777.8)"/>
<text x="1198.7" y="782.3" font-family="Liberation Sans" font-size="12.50" font-weight="normal" text-anchor="middle" fill="#2a2a2a" textLength="20.0" lengthAdjust="spacingAndGlyphs" transform="rotate(-90 1198.7 777.8)">11'-6&quot;</text>
<line x1="1325.0" y1="697.7" x2="1325.0" y2="853.7" stroke="#000" stroke-width="1.2"/>
<line x1="1319.0" y1="697.7" x2="1331.0" y2="697.7" stroke="#000" stroke-width="1.2"/>
<line x1="1319.0" y1="723.0" x2="1331.0" y2="723.0" stroke="#000" stroke-width="1.2"/>
<line x1="1319.0" y1="827.9" x2="1331.0" y2="827.9" stroke="#000" stroke-width="1.2"/>
<line x1="1319.0" y1="853.7" x2="1331.0" y2="853.7" stroke="#000" stroke-width="1.2"/>
<polygon points="1325.0,697.7 1322.8,703.7 1327.2,703.7" fill="#000"/>
<polygon points="1325.0,723.0 1322.8,717.0 1327.2,717.0" fill="#000"/>
<polygon points="1325.0,723.0 1322.8,729.0 1327.2,729.0" fill="#000"/>
<polygon points="1325.0,827.9 1322.8,821.9 1327.2,821.9" fill="#000"/>
<polygon points="1325.0,827.9 1322.8,833.9 1327.2,833.9" fill="#000"/>
<polygon points="1325.0,853.7 1322.8,847.7 1327.2,847.7" fill="#000"/>
<rect x="1316.0" y="704.0" width="18.0" height="12.0" fill="#fff" transform="rotate(-90 1325.0 710.0)"/>
<text x="1325.0" y="714.0" font-family="Liberation Sans" font-size="11.11" font-weight="normal" text-anchor="middle" fill="#2a2a2a" textLength="14.0" lengthAdjust="spacingAndGlyphs" transform="rotate(-90 1325.0 710.0)">1'-0&quot;</text>
<rect x="1309.0" y="769.5" width="32.0" height="12.0" fill="#fff" transform="rotate(-90 1325.0 775.5)"/>
<text x="1325.0" y="779.5" font-family="Liberation Sans" font-size="11.11" font-weight="normal" text-anchor="middle" fill="#2a2a2a" textLength="28.0" lengthAdjust="spacingAndGlyphs" transform="rotate(-90 1325.0 775.5)">7'-6½&quot;</text>
<rect x="1316.0" y="834.0" width="18.0" height="12.0" fill="#fff" transform="rotate(-90 1325.0 840.0)"/>
<text x="1325.0" y="844.0" font-family="Liberation Sans" font-size="11.11" font-weight="normal" text-anchor="middle" fill="#2a2a2a" textLength="14.0" lengthAdjust="spacingAndGlyphs" transform="rotate(-90 1325.0 840.0)">1'-0&quot;</text>
<line x1="1141.9" y1="811.0" x2="1786.0" y2="811.0" stroke="#000" stroke-width="1.2"/>
<line x1="1141.9" y1="805.0" x2="1141.9" y2="817.0" stroke="#000" stroke-width="1.2"/>
<line x1="1341.3" y1="805.0" x2="1341.3" y2="817.0" stroke="#000" stroke-width="1.2"/>
<line x1="1352.9" y1="805.0" x2="1352.9" y2="817.0" stroke="#000" stroke-width="1.2"/>
<line x1="1450.5" y1="805.0" x2="1450.5" y2="817.0" stroke="#000" stroke-width="1.2"/>
<line x1="1454.5" y1="805.0" x2="1454.5" y2="817.0" stroke="#000" stroke-width="1.2"/>
<line x1="1786.0" y1="805.0" x2="1786.0" y2="817.0" stroke="#000" stroke-width="1.2"/>
<polygon points="1141.9,811.0 1147.9,808.8 1147.9,813.2" fill="#000"/>
<polygon points="1341.3,811.0 1335.3,808.8 1335.3,813.2" fill="#000"/>
<polygon points="1341.3,811.0 1347.3,808.8 1347.3,813.2" fill="#000"/>
<polygon points="1352.9,811.0 1346.9,808.8 1346.9,813.2" fill="#000"/>
<polygon points="1352.9,811.0 1358.9,808.8 1358.9,813.2" fill="#000"/>
<polygon points="1450.5,811.0 1444.5,808.8 1444.5,813.2" fill="#000"/>
<polygon points="1450.5,811.0 1456.5,808.8 1456.5,813.2" fill="#000"/>
<polygon points="1454.5,811.0 1448.5,808.8 1448.5,813.2" fill="#000"/>
<polygon points="1454.5,811.0 1460.5,808.8 1460.5,813.2" fill="#000"/>
<polygon points="1786.0,811.0 1780.0,808.8 1780.0,813.2" fill="#000"/>
<rect x="1223.0" y="804.5" width="34.0" height="13.0" fill="#fff"/>
<text x="1240.0" y="815.5" font-family="Liberation Sans" font-size="12.50" font-weight="normal" text-anchor="middle" fill="#2a2a2a" textLength="30.0" lengthAdjust="spacingAndGlyphs">14'-3½&quot;</text>
<rect x="1385.0" y="804.5" width="32.0" height="13.0" fill="#fff"/>
<text x="1401.0" y="815.5" font-family="Liberation Sans" font-size="12.50" font-weight="normal" text-anchor="middle" fill="#2a2a2a" textLength="28.0" lengthAdjust="spacingAndGlyphs">6'-1½&quot;</text>
<rect x="1605.0" y="804.5" width="26.0" height="13.0" fill="#fff"/>
<text x="1618.0" y="815.5" font-family="Liberation Sans" font-size="12.50" font-weight="normal" text-anchor="middle" fill="#2a2a2a" textLength="22.0" lengthAdjust="spacingAndGlyphs">24'-1&quot;</text>
<text x="1346.0" y="800.5" font-family="Liberation Sans" font-size="12.50" font-weight="normal" text-anchor="middle" fill="#2a2a2a" textLength="12.0" lengthAdjust="spacingAndGlyphs">10&quot;</text>
<line x1="1145.3" y1="844.2" x2="1344.8" y2="844.2" stroke="#000" stroke-width="1.2"/>
<line x1="1145.3" y1="838.2" x2="1145.3" y2="850.2" stroke="#000" stroke-width="1.2"/>
<line x1="1245.5" y1="838.2" x2="1245.5" y2="850.2" stroke="#000" stroke-width="1.2"/>
<line x1="1344.8" y1="838.2" x2="1344.8" y2="850.2" stroke="#000" stroke-width="1.2"/>
<polygon points="1145.3,844.2 1151.3,842.0 1151.3,846.4" fill="#000"/>
<polygon points="1245.5,844.2 1239.5,842.0 1239.5,846.4" fill="#000"/>
<polygon points="1245.5,844.2 1251.5,842.0 1251.5,846.4" fill="#000"/>
<polygon points="1344.8,844.2 1338.8,842.0 1338.8,846.4" fill="#000"/>
<rect x="1180.0" y="837.7" width="30.0" height="13.0" fill="#fff"/>
<text x="1195.0" y="848.7" font-family="Liberation Sans" font-size="12.50" font-weight="normal" text-anchor="middle" fill="#2a2a2a" textLength="26.0" lengthAdjust="spacingAndGlyphs">7'-1½&quot;</text>
<rect x="1280.0" y="837.7" width="30.0" height="13.0" fill="#fff"/>
<text x="1295.0" y="848.7" font-family="Liberation Sans" font-size="12.50" font-weight="normal" text-anchor="middle" fill="#2a2a2a" textLength="26.0" lengthAdjust="spacingAndGlyphs">7'-1½&quot;</text>
<line x1="1245.5" y1="830.0" x2="1245.5" y2="897.0" stroke="#000" stroke-width="1.2"/>
<line x1="1465.0" y1="528.0" x2="1465.0" y2="853.7" stroke="#000" stroke-width="1.2"/>
<line x1="1459.0" y1="528.0" x2="1471.0" y2="528.0" stroke="#000" stroke-width="1.2"/>
<line x1="1459.0" y1="769.4" x2="1471.0" y2="769.4" stroke="#000" stroke-width="1.2"/>
<line x1="1459.0" y1="853.7" x2="1471.0" y2="853.7" stroke="#000" stroke-width="1.2"/>
<polygon points="1465.0,528.0 1462.8,534.0 1467.2,534.0" fill="#000"/>
<polygon points="1465.0,769.4 1462.8,763.4 1467.2,763.4" fill="#000"/>
<polygon points="1465.0,769.4 1462.8,775.4 1467.2,775.4" fill="#000"/>
<polygon points="1465.0,853.7 1462.8,847.7 1467.2,847.7" fill="#000"/>
<rect x="1449.0" y="642.9" width="32.0" height="13.0" fill="#fff" transform="rotate(-90 1465.0 649.4)"/>
<text x="1465.0" y="653.9" font-family="Liberation Sans" font-size="12.50" font-weight="normal" text-anchor="middle" fill="#2a2a2a" textLength="28.0" lengthAdjust="spacingAndGlyphs" transform="rotate(-90 1465.0 649.4)">17'-3½&quot;</text>
<rect x="1449.0" y="805.4" width="32.0" height="13.0" fill="#fff" transform="rotate(-90 1465.0 811.9)"/>
<text x="1465.0" y="816.4" font-family="Liberation Sans" font-size="12.50" font-weight="normal" text-anchor="middle" fill="#2a2a2a" textLength="28.0" lengthAdjust="spacingAndGlyphs" transform="rotate(-90 1465.0 811.9)">6'-3½&quot;</text>
<line x1="1052.0" y1="889.3" x2="1786.0" y2="889.3" stroke="#000" stroke-width="1.2"/>
<line x1="1052.0" y1="881.3" x2="1052.0" y2="897.3" stroke="#000" stroke-width="1.2"/>
<line x1="1141.6" y1="881.3" x2="1141.6" y2="897.3" stroke="#000" stroke-width="1.2"/>
<line x1="1245.5" y1="881.3" x2="1245.5" y2="897.3" stroke="#000" stroke-width="1.2"/>
<line x1="1341.4" y1="881.3" x2="1341.4" y2="897.3" stroke="#000" stroke-width="1.2"/>
<line x1="1352.9" y1="881.3" x2="1352.9" y2="897.3" stroke="#000" stroke-width="1.2"/>
<line x1="1401.6" y1="881.3" x2="1401.6" y2="897.3" stroke="#000" stroke-width="1.2"/>
<line x1="1461.0" y1="881.3" x2="1461.0" y2="897.3" stroke="#000" stroke-width="1.2"/>
<line x1="1545.4" y1="881.3" x2="1545.4" y2="897.3" stroke="#000" stroke-width="1.2"/>
<line x1="1627.0" y1="881.3" x2="1627.0" y2="897.3" stroke="#000" stroke-width="1.2"/>
<line x1="1708.8" y1="881.3" x2="1708.8" y2="897.3" stroke="#000" stroke-width="1.2"/>
<line x1="1786.0" y1="881.3" x2="1786.0" y2="897.3" stroke="#000" stroke-width="1.2"/>
<polygon points="1052.0,889.3 1058.0,887.1 1058.0,891.5" fill="#000"/>
<polygon points="1141.6,889.3 1135.6,887.1 1135.6,891.5" fill="#000"/>
<polygon points="1141.6,889.3 1147.6,887.1 1147.6,891.5" fill="#000"/>
<polygon points="1245.5,889.3 1239.5,887.1 1239.5,891.5" fill="#000"/>
<polygon points="1245.5,889.3 1251.5,887.1 1251.5,891.5" fill="#000"/>
<polygon points="1341.4,889.3 1335.4,887.1 1335.4,891.5" fill="#000"/>
<polygon points="1341.4,889.3 1347.4,887.1 1347.4,891.5" fill="#000"/>
<polygon points="1352.9,889.3 1346.9,887.1 1346.9,891.5" fill="#000"/>
<polygon points="1352.9,889.3 1358.9,887.1 1358.9,891.5" fill="#000"/>
<polygon points="1401.6,889.3 1395.6,887.1 1395.6,891.5" fill="#000"/>
<polygon points="1401.6,889.3 1407.6,887.1 1407.6,891.5" fill="#000"/>
<polygon points="1461.0,889.3 1455.0,887.1 1455.0,891.5" fill="#000"/>
<polygon points="1461.0,889.3 1467.0,887.1 1467.0,891.5" fill="#000"/>
<polygon points="1545.4,889.3 1539.4,887.1 1539.4,891.5" fill="#000"/>
<polygon points="1545.4,889.3 1551.4,887.1 1551.4,891.5" fill="#000"/>
<polygon points="1627.0,889.3 1621.0,887.1 1621.0,891.5" fill="#000"/>
<polygon points="1627.0,889.3 1633.0,887.1 1633.0,891.5" fill="#000"/>
<polygon points="1708.8,889.3 1702.8,887.1 1702.8,891.5" fill="#000"/>
<polygon points="1708.8,889.3 1714.8,887.1 1714.8,891.5" fill="#000"/>
<polygon points="1786.0,889.3 1780.0,887.1 1780.0,891.5" fill="#000"/>
<rect x="1079.0" y="881.3" width="35.0" height="16.0" fill="#fff"/>
<text x="1096.5" y="895.3" font-family="Liberation Sans" font-size="16.67" font-weight="normal" text-anchor="middle" fill="#2a2a2a" textLength="31.0" lengthAdjust="spacingAndGlyphs">6'-5&quot;</text>
<rect x="1177.2" y="881.3" width="34.0" height="16.0" fill="#fff"/>
<text x="1194.2" y="895.3" font-family="Liberation Sans" font-size="16.67" font-weight="normal" text-anchor="middle" fill="#2a2a2a" textLength="30.0" lengthAdjust="spacingAndGlyphs">7'-5&quot;</text>
<rect x="1274.8" y="881.3" width="34.0" height="16.0" fill="#fff"/>
<text x="1291.8" y="895.3" font-family="Liberation Sans" font-size="16.67" font-weight="normal" text-anchor="middle" fill="#2a2a2a" textLength="30.0" lengthAdjust="spacingAndGlyphs">6'-9&quot;</text>
<rect x="1410.1" y="881.3" width="41.0" height="16.0" fill="#fff"/>
<text x="1430.6" y="895.3" font-family="Liberation Sans" font-size="16.67" font-weight="normal" text-anchor="middle" fill="#2a2a2a" textLength="37.0" lengthAdjust="spacingAndGlyphs">4'-2¼&quot;</text>
<rect x="1484.0" y="881.3" width="38.0" height="16.0" fill="#fff"/>
<text x="1503.0" y="895.3" font-family="Liberation Sans" font-size="16.67" font-weight="normal" text-anchor="middle" fill="#2a2a2a" textLength="34.0" lengthAdjust="spacingAndGlyphs">6'-1½&quot;</text>
<rect x="1612.0" y="881.3" width="30.0" height="16.0" fill="#fff"/>
<text x="1627.0" y="895.3" font-family="Liberation Sans" font-size="16.67" font-weight="normal" text-anchor="middle" fill="#2a2a2a" textLength="26.0" lengthAdjust="spacingAndGlyphs">11'-8&quot;</text>
<rect x="1731.0" y="881.3" width="34.0" height="16.0" fill="#fff"/>
<text x="1748.0" y="895.3" font-family="Liberation Sans" font-size="16.67" font-weight="normal" text-anchor="middle" fill="#2a2a2a" textLength="30.0" lengthAdjust="spacingAndGlyphs">5'-7&quot;</text>
<line x1="1401.6" y1="866.0" x2="1401.6" y2="961.0" stroke="#222" stroke-width="1.0" stroke-dasharray="7,3,2,3"/>
<rect x="1353.9" y="872.2" width="41.0" height="10.5" fill="#fff"/>
<text x="1374.4" y="880.8" font-family="Liberation Sans" font-size="9.03" font-weight="normal" text-anchor="middle" fill="#2a2a2a" textLength="37.0" lengthAdjust="spacingAndGlyphs">VAULTED</text>
<rect x="1357.4" y="883.8" width="34.0" height="10.5" fill="#fff"/>
<text x="1374.4" y="892.2" font-family="Liberation Sans" font-size="9.03" font-weight="normal" text-anchor="middle" fill="#2a2a2a" textLength="30.0" lengthAdjust="spacingAndGlyphs">PORCH</text>
<line x1="1141.6" y1="871.0" x2="1141.6" y2="932.0" stroke="#000" stroke-width="1.2"/>
<line x1="1545.4" y1="845.0" x2="1545.4" y2="897.0" stroke="#000" stroke-width="1.2"/>
<line x1="1708.8" y1="845.0" x2="1708.8" y2="897.0" stroke="#000" stroke-width="1.2"/>
<line x1="1786.0" y1="869.0" x2="1786.0" y2="932.0" stroke="#000" stroke-width="1.2"/>
<text x="1243.0" y="877.5" font-family="Liberation Sans" font-size="6.94" font-weight="normal" text-anchor="middle" fill="#2a2a2a" textLength="12.0" lengthAdjust="spacingAndGlyphs" transform="rotate(-90 1243.0 875.0)">6'-0&quot;</text>
<text x="1250.0" y="877.5" font-family="Liberation Sans" font-size="6.94" font-weight="normal" text-anchor="middle" fill="#2a2a2a" textLength="12.0" lengthAdjust="spacingAndGlyphs" transform="rotate(-90 1250.0 875.0)">6'-2&quot;</text>
<text x="1541.0" y="877.5" font-family="Liberation Sans" font-size="6.94" font-weight="normal" text-anchor="middle" fill="#2a2a2a" textLength="12.0" lengthAdjust="spacingAndGlyphs" transform="rotate(-90 1541.0 875.0)">2'-8&quot;</text>
<text x="1549.0" y="877.5" font-family="Liberation Sans" font-size="6.94" font-weight="normal" text-anchor="middle" fill="#2a2a2a" textLength="12.0" lengthAdjust="spacingAndGlyphs" transform="rotate(-90 1549.0 875.0)">5'-6&quot;</text>
<text x="1704.5" y="877.5" font-family="Liberation Sans" font-size="6.94" font-weight="normal" text-anchor="middle" fill="#2a2a2a" textLength="12.0" lengthAdjust="spacingAndGlyphs" transform="rotate(-90 1704.5 875.0)">2'-8&quot;</text>
<text x="1712.5" y="877.5" font-family="Liberation Sans" font-size="6.94" font-weight="normal" text-anchor="middle" fill="#2a2a2a" textLength="12.0" lengthAdjust="spacingAndGlyphs" transform="rotate(-90 1712.5 875.0)">5'-6&quot;</text>
<line x1="1141.6" y1="926.9" x2="1786.0" y2="926.9" stroke="#000" stroke-width="1.2"/>
<polygon points="1141.6,926.9 1147.6,924.7 1147.6,929.1" fill="#000"/>
<polygon points="1786.0,926.9 1780.0,924.7 1780.0,929.1" fill="#000"/>
<rect x="1442.6" y="918.9" width="42.0" height="16.0" fill="#fff"/>
<text x="1463.6" y="932.9" font-family="Liberation Sans" font-size="16.67" font-weight="normal" text-anchor="middle" fill="#2a2a2a" textLength="38.0" lengthAdjust="spacingAndGlyphs">46'-2&quot;</text>
<line x1="1052.0" y1="975.2" x2="1792.7" y2="975.2" stroke="#000" stroke-width="1.2"/>
<line x1="1052.0" y1="967.2" x2="1052.0" y2="983.2" stroke="#000" stroke-width="1.2"/>
<line x1="1145.3" y1="967.2" x2="1145.3" y2="983.2" stroke="#000" stroke-width="1.2"/>
<line x1="1341.4" y1="967.2" x2="1341.4" y2="983.2" stroke="#000" stroke-width="1.2"/>
<line x1="1461.0" y1="967.2" x2="1461.0" y2="983.2" stroke="#000" stroke-width="1.2"/>
<line x1="1627.0" y1="967.2" x2="1627.0" y2="983.2" stroke="#000" stroke-width="1.2"/>
<line x1="1792.7" y1="967.2" x2="1792.7" y2="983.2" stroke="#000" stroke-width="1.2"/>
<polygon points="1052.0,975.2 1058.0,973.0 1058.0,977.4" fill="#000"/>
<polygon points="1145.3,975.2 1139.3,973.0 1139.3,977.4" fill="#000"/>
<polygon points="1145.3,975.2 1151.3,973.0 1151.3,977.4" fill="#000"/>
<polygon points="1341.4,975.2 1335.4,973.0 1335.4,977.4" fill="#000"/>
<polygon points="1341.4,975.2 1347.4,973.0 1347.4,977.4" fill="#000"/>
<polygon points="1461.0,975.2 1455.0,973.0 1455.0,977.4" fill="#000"/>
<polygon points="1461.0,975.2 1467.0,973.0 1467.0,977.4" fill="#000"/>
<polygon points="1627.0,975.2 1621.0,973.0 1621.0,977.4" fill="#000"/>
<polygon points="1627.0,975.2 1633.0,973.0 1633.0,977.4" fill="#000"/>
<polygon points="1792.7,975.2 1786.7,973.0 1786.7,977.4" fill="#000"/>
<rect x="1080.3" y="967.2" width="36.0" height="16.0" fill="#fff"/>
<text x="1098.3" y="981.2" font-family="Liberation Sans" font-size="16.67" font-weight="normal" text-anchor="middle" fill="#2a2a2a" textLength="32.0" lengthAdjust="spacingAndGlyphs">6'-8&quot;</text>
<rect x="1218.5" y="967.2" width="49.0" height="16.0" fill="#fff"/>
<text x="1243.0" y="981.2" font-family="Liberation Sans" font-size="16.67" font-weight="normal" text-anchor="middle" fill="#2a2a2a" textLength="45.0" lengthAdjust="spacingAndGlyphs">14'-0½&quot;</text>
<rect x="1379.0" y="967.2" width="44.0" height="16.0" fill="#fff"/>
<text x="1401.0" y="981.2" font-family="Liberation Sans" font-size="16.67" font-weight="normal" text-anchor="middle" fill="#2a2a2a" textLength="40.0" lengthAdjust="spacingAndGlyphs">8'-7½&quot;</text>
<rect x="1528.5" y="967.2" width="33.0" height="16.0" fill="#fff"/>
<text x="1545.0" y="981.2" font-family="Liberation Sans" font-size="16.67" font-weight="normal" text-anchor="middle" fill="#2a2a2a" textLength="29.0" lengthAdjust="spacingAndGlyphs">11'-10&quot;</text>
<rect x="1692.8" y="967.2" width="32.0" height="16.0" fill="#fff"/>
<text x="1708.8" y="981.2" font-family="Liberation Sans" font-size="16.67" font-weight="normal" text-anchor="middle" fill="#2a2a2a" textLength="28.0" lengthAdjust="spacingAndGlyphs">11'-10&quot;</text>
<line x1="1052.0" y1="962.0" x2="1052.0" y2="1012.0" stroke="#000" stroke-width="1.3"/>
<line x1="1145.3" y1="955.0" x2="1145.3" y2="982.0" stroke="#000" stroke-width="1.2"/>
<line x1="1627.0" y1="955.0" x2="1627.0" y2="982.0" stroke="#000" stroke-width="1.2"/>
<line x1="1792.7" y1="961.0" x2="1792.7" y2="1008.0" stroke="#000" stroke-width="1.3"/>
<line x1="1052.0" y1="1001.0" x2="1792.7" y2="1001.0" stroke="#000" stroke-width="1.2"/>
<polygon points="1052.0,1001.0 1058.0,998.8 1058.0,1003.2" fill="#000"/>
<polygon points="1792.7,1001.0 1786.7,998.8 1786.7,1003.2" fill="#000"/>
<rect x="1399.0" y="993.0" width="42.0" height="16.0" fill="#fff"/>
<text x="1420.0" y="1007.0" font-family="Liberation Sans" font-size="16.67" font-weight="normal" text-anchor="middle" fill="#2a2a2a" textLength="38.0" lengthAdjust="spacingAndGlyphs">53'-0&quot;</text>
<text x="1813.0" y="987.0" font-family="Liberation Sans" font-size="20.83" font-weight="normal" text-anchor="start" fill="#2a2a2a" textLength="97.0" lengthAdjust="spacingAndGlyphs">1,742 sq ft</text>
<text x="1442.0" y="345.0" font-family="Liberation Sans" font-size="8.33" font-weight="normal" text-anchor="middle" fill="#2a2a2a" textLength="18.0" lengthAdjust="spacingAndGlyphs">3'-0&quot;</text>
<line x1="1431.0" y1="347.0" x2="1453.0" y2="347.0" stroke="#000" stroke-width="0.9"/>
<text x="1442.0" y="355.5" font-family="Liberation Sans" font-size="8.33" font-weight="normal" text-anchor="middle" fill="#2a2a2a" textLength="18.0" lengthAdjust="spacingAndGlyphs">6'-8&quot;</text>
<text x="1477.0" y="418.5" font-family="Liberation Sans" font-size="8.33" font-weight="normal" text-anchor="middle" fill="#2a2a2a" textLength="18.0" lengthAdjust="spacingAndGlyphs" transform="rotate(-90 1477.0 415.5)">3'-0&quot;</text>
<line x1="1482.0" y1="404.5" x2="1482.0" y2="426.5" stroke="#000" stroke-width="0.9"/>
<text x="1487.5" y="418.5" font-family="Liberation Sans" font-size="8.33" font-weight="normal" text-anchor="middle" fill="#2a2a2a" textLength="18.0" lengthAdjust="spacingAndGlyphs" transform="rotate(-90 1487.5 415.5)">6'-8&quot;</text>
<text x="1698.0" y="369.0" font-family="Liberation Sans" font-size="8.33" font-weight="normal" text-anchor="middle" fill="#2a2a2a" textLength="18.0" lengthAdjust="spacingAndGlyphs">3'-0&quot;</text>
<line x1="1687.0" y1="371.0" x2="1709.0" y2="371.0" stroke="#000" stroke-width="0.9"/>
<text x="1698.0" y="379.5" font-family="Liberation Sans" font-size="8.33" font-weight="normal" text-anchor="middle" fill="#2a2a2a" textLength="18.0" lengthAdjust="spacingAndGlyphs">6'-8&quot;</text>
<text x="1518.3" y="450.0" font-family="Liberation Sans" font-size="8.33" font-weight="normal" text-anchor="middle" fill="#2a2a2a" textLength="18.0" lengthAdjust="spacingAndGlyphs">3'-0&quot;</text>
<line x1="1507.3" y1="452.0" x2="1529.3" y2="452.0" stroke="#000" stroke-width="0.9"/>
<text x="1518.3" y="460.5" font-family="Liberation Sans" font-size="8.33" font-weight="normal" text-anchor="middle" fill="#2a2a2a" textLength="18.0" lengthAdjust="spacingAndGlyphs">6'-8&quot;</text>
<text x="1610.0" y="451.0" font-family="Liberation Sans" font-size="8.33" font-weight="normal" text-anchor="middle" fill="#2a2a2a" textLength="18.0" lengthAdjust="spacingAndGlyphs">3'-0&quot;</text>
<line x1="1599.0" y1="453.0" x2="1621.0" y2="453.0" stroke="#000" stroke-width="0.9"/>
<text x="1610.0" y="461.5" font-family="Liberation Sans" font-size="8.33" font-weight="normal" text-anchor="middle" fill="#2a2a2a" textLength="18.0" lengthAdjust="spacingAndGlyphs">6'-8&quot;</text>
<text x="1685.8" y="444.0" font-family="Liberation Sans" font-size="8.33" font-weight="normal" text-anchor="middle" fill="#2a2a2a" textLength="18.0" lengthAdjust="spacingAndGlyphs">2'-8&quot;</text>
<line x1="1674.8" y1="446.0" x2="1696.8" y2="446.0" stroke="#000" stroke-width="0.9"/>
<text x="1685.8" y="454.5" font-family="Liberation Sans" font-size="8.33" font-weight="normal" text-anchor="middle" fill="#2a2a2a" textLength="18.0" lengthAdjust="spacingAndGlyphs">6'-8&quot;</text>
<text x="1485.0" y="520.3" font-family="Liberation Sans" font-size="8.33" font-weight="normal" text-anchor="middle" fill="#2a2a2a" textLength="18.0" lengthAdjust="spacingAndGlyphs" transform="rotate(-90 1485.0 517.3)">3'-0&quot;</text>
<line x1="1490.0" y1="506.3" x2="1490.0" y2="528.3" stroke="#000" stroke-width="0.9"/>
<text x="1495.5" y="520.3" font-family="Liberation Sans" font-size="8.33" font-weight="normal" text-anchor="middle" fill="#2a2a2a" textLength="18.0" lengthAdjust="spacingAndGlyphs" transform="rotate(-90 1495.5 517.3)">6'-8&quot;</text>
<text x="1713.0" y="487.0" font-family="Liberation Sans" font-size="8.33" font-weight="normal" text-anchor="middle" fill="#2a2a2a" textLength="18.0" lengthAdjust="spacingAndGlyphs" transform="rotate(-90 1713.0 484.0)">3'-0&quot;</text>
<line x1="1718.0" y1="473.0" x2="1718.0" y2="495.0" stroke="#000" stroke-width="0.9"/>
<text x="1723.5" y="487.0" font-family="Liberation Sans" font-size="8.33" font-weight="normal" text-anchor="middle" fill="#2a2a2a" textLength="18.0" lengthAdjust="spacingAndGlyphs" transform="rotate(-90 1723.5 484.0)">6'-8&quot;</text>
<text x="1749.4" y="447.0" font-family="Liberation Sans" font-size="8.33" font-weight="normal" text-anchor="middle" fill="#2a2a2a" textLength="18.0" lengthAdjust="spacingAndGlyphs">2'-0&quot;</text>
<line x1="1738.4" y1="449.0" x2="1760.4" y2="449.0" stroke="#000" stroke-width="0.9"/>
<text x="1749.4" y="457.5" font-family="Liberation Sans" font-size="8.33" font-weight="normal" text-anchor="middle" fill="#2a2a2a" textLength="18.0" lengthAdjust="spacingAndGlyphs">6'-8&quot;</text>
<text x="1340.6" y="494.5" font-family="Liberation Sans" font-size="8.33" font-weight="normal" text-anchor="middle" fill="#2a2a2a" textLength="18.0" lengthAdjust="spacingAndGlyphs">3'-0&quot;</text>
<line x1="1329.6" y1="496.5" x2="1351.6" y2="496.5" stroke="#000" stroke-width="0.9"/>
<text x="1340.6" y="505.0" font-family="Liberation Sans" font-size="8.33" font-weight="normal" text-anchor="middle" fill="#2a2a2a" textLength="18.0" lengthAdjust="spacingAndGlyphs">6'-8&quot;</text>
<text x="1134.0" y="508.0" font-family="Liberation Sans" font-size="8.33" font-weight="normal" text-anchor="middle" fill="#2a2a2a" textLength="18.0" lengthAdjust="spacingAndGlyphs">2'-4&quot;</text>
<line x1="1123.0" y1="510.0" x2="1145.0" y2="510.0" stroke="#000" stroke-width="0.9"/>
<text x="1134.0" y="518.5" font-family="Liberation Sans" font-size="8.33" font-weight="normal" text-anchor="middle" fill="#2a2a2a" textLength="18.0" lengthAdjust="spacingAndGlyphs">6'-8&quot;</text>
<text x="1410.3" y="559.0" font-family="Liberation Sans" font-size="8.33" font-weight="normal" text-anchor="middle" fill="#2a2a2a" textLength="18.0" lengthAdjust="spacingAndGlyphs">2'-4&quot;</text>
<line x1="1399.3" y1="561.0" x2="1421.3" y2="561.0" stroke="#000" stroke-width="0.9"/>
<text x="1410.3" y="569.5" font-family="Liberation Sans" font-size="8.33" font-weight="normal" text-anchor="middle" fill="#2a2a2a" textLength="18.0" lengthAdjust="spacingAndGlyphs">6'-8&quot;</text>
<text x="1095.6" y="715.3" font-family="Liberation Sans" font-size="8.33" font-weight="normal" text-anchor="middle" fill="#2a2a2a" textLength="18.0" lengthAdjust="spacingAndGlyphs" transform="rotate(-90 1095.6 712.3)">2'-8&quot;</text>
<line x1="1100.6" y1="701.3" x2="1100.6" y2="723.3" stroke="#000" stroke-width="0.9"/>
<text x="1106.1" y="715.3" font-family="Liberation Sans" font-size="8.33" font-weight="normal" text-anchor="middle" fill="#2a2a2a" textLength="18.0" lengthAdjust="spacingAndGlyphs" transform="rotate(-90 1106.1 712.3)">6'-8&quot;</text>
<text x="1182.0" y="708.5" font-family="Liberation Sans" font-size="8.33" font-weight="normal" text-anchor="middle" fill="#2a2a2a" textLength="18.0" lengthAdjust="spacingAndGlyphs" transform="rotate(-90 1182.0 705.5)">3'-0&quot;</text>
<line x1="1187.0" y1="694.5" x2="1187.0" y2="716.5" stroke="#000" stroke-width="0.9"/>
<text x="1192.5" y="708.5" font-family="Liberation Sans" font-size="8.33" font-weight="normal" text-anchor="middle" fill="#2a2a2a" textLength="18.0" lengthAdjust="spacingAndGlyphs" transform="rotate(-90 1192.5 705.5)">6'-8&quot;</text>
<text x="1397.0" y="847.8" font-family="Liberation Sans" font-size="8.33" font-weight="normal" text-anchor="middle" fill="#2a2a2a" textLength="18.0" lengthAdjust="spacingAndGlyphs" transform="rotate(-90 1397.0 844.8)">3'-0&quot;</text>
<line x1="1402.0" y1="833.8" x2="1402.0" y2="855.8" stroke="#000" stroke-width="0.9"/>
<text x="1407.5" y="847.8" font-family="Liberation Sans" font-size="8.33" font-weight="normal" text-anchor="middle" fill="#2a2a2a" textLength="18.0" lengthAdjust="spacingAndGlyphs" transform="rotate(-90 1407.5 844.8)">6'-8&quot;</text>
<text x="1278.0" y="710.5" font-family="Liberation Sans" font-size="6.94" font-weight="normal" text-anchor="middle" fill="#2a2a2a" textLength="12.0" lengthAdjust="spacingAndGlyphs" transform="rotate(-90 1278.0 708.0)">3'-0&quot;</text>
<text x="1284.0" y="710.5" font-family="Liberation Sans" font-size="6.94" font-weight="normal" text-anchor="middle" fill="#2a2a2a" textLength="12.0" lengthAdjust="spacingAndGlyphs" transform="rotate(-90 1284.0 708.0)">3'-0&quot;</text>
<line x1="1280.5" y1="685.0" x2="1280.5" y2="718.0" stroke="#000" stroke-width="1.0"/>
<text x="1765.9" y="422.5" font-family="Liberation Sans" font-size="12.50" font-weight="normal" text-anchor="middle" fill="#2a2a2a" textLength="22.0" lengthAdjust="spacingAndGlyphs">2'-4&quot;</text>
<line x1="1754.8" y1="426.6" x2="1782.4" y2="426.6" stroke="#000" stroke-width="1.2"/>
<line x1="1754.8" y1="422.6" x2="1754.8" y2="430.6" stroke="#000" stroke-width="1.2"/>
<line x1="1782.4" y1="422.6" x2="1782.4" y2="430.6" stroke="#000" stroke-width="1.2"/>
<polygon points="1754.8,426.6 1760.8,424.4 1760.8,428.8" fill="#000"/>
<polygon points="1782.4,426.6 1776.4,424.4 1776.4,428.8" fill="#000"/>
<line x1="1745.5" y1="277.5" x2="1745.5" y2="430.3" stroke="#000" stroke-width="1.2"/>
<line x1="1739.5" y1="277.5" x2="1751.5" y2="277.5" stroke="#000" stroke-width="1.2"/>
<line x1="1739.5" y1="319.3" x2="1751.5" y2="319.3" stroke="#000" stroke-width="1.2"/>
<line x1="1739.5" y1="353.1" x2="1751.5" y2="353.1" stroke="#000" stroke-width="1.2"/>
<line x1="1739.5" y1="395.9" x2="1751.5" y2="395.9" stroke="#000" stroke-width="1.2"/>
<line x1="1739.5" y1="430.3" x2="1751.5" y2="430.3" stroke="#000" stroke-width="1.2"/>
<polygon points="1745.5,277.5 1743.3,283.5 1747.7,283.5" fill="#000"/>
<polygon points="1745.5,319.3 1743.3,313.3 1747.7,313.3" fill="#000"/>
<polygon points="1745.5,319.3 1743.3,325.3 1747.7,325.3" fill="#000"/>
<polygon points="1745.5,353.1 1743.3,347.1 1747.7,347.1" fill="#000"/>
<polygon points="1745.5,353.1 1743.3,359.1 1747.7,359.1" fill="#000"/>
<polygon points="1745.5,395.9 1743.3,389.9 1747.7,389.9" fill="#000"/>
<polygon points="1745.5,395.9 1743.3,401.9 1747.7,401.9" fill="#000"/>
<polygon points="1745.5,430.3 1743.3,424.3 1747.7,424.3" fill="#000"/>
<rect x="1733.5" y="292.5" width="24.0" height="13.0" fill="#fff" transform="rotate(-90 1745.5 299.0)"/>
<text x="1745.5" y="303.5" font-family="Liberation Sans" font-size="12.50" font-weight="normal" text-anchor="middle" fill="#2a2a2a" textLength="20.0" lengthAdjust="spacingAndGlyphs" transform="rotate(-90 1745.5 299.0)">3'-0&quot;</text>
<rect x="1733.5" y="330.4" width="24.0" height="13.0" fill="#fff" transform="rotate(-90 1745.5 336.9)"/>
<text x="1745.5" y="341.4" font-family="Liberation Sans" font-size="12.50" font-weight="normal" text-anchor="middle" fill="#2a2a2a" textLength="20.0" lengthAdjust="spacingAndGlyphs" transform="rotate(-90 1745.5 336.9)">2'-6&quot;</text>
<rect x="1733.5" y="366.9" width="24.0" height="13.0" fill="#fff" transform="rotate(-90 1745.5 373.4)"/>
<text x="1745.5" y="377.9" font-family="Liberation Sans" font-size="12.50" font-weight="normal" text-anchor="middle" fill="#2a2a2a" textLength="20.0" lengthAdjust="spacingAndGlyphs" transform="rotate(-90 1745.5 373.4)">3'-0&quot;</text>
<rect x="1733.5" y="406.2" width="24.0" height="13.0" fill="#fff" transform="rotate(-90 1745.5 412.7)"/>
<text x="1745.5" y="417.2" font-family="Liberation Sans" font-size="12.50" font-weight="normal" text-anchor="middle" fill="#2a2a2a" textLength="20.0" lengthAdjust="spacingAndGlyphs" transform="rotate(-90 1745.5 412.7)">2'-6&quot;</text>
<text x="1185.9" y="81.4" font-family="Liberation Sans" font-size="13.89" font-weight="normal" text-anchor="middle" fill="#2a2a2a" textLength="62.0" lengthAdjust="spacingAndGlyphs">COVERED</text>
<line x1="1154.9" y1="84.4" x2="1216.9" y2="84.4" stroke="#2a2a2a" stroke-width="1.1"/>
<text x="1185.9" y="99.6" font-family="Liberation Sans" font-size="13.89" font-weight="normal" text-anchor="middle" fill="#2a2a2a" textLength="34.0" lengthAdjust="spacingAndGlyphs">PATIO</text>
<line x1="1168.9" y1="102.6" x2="1202.9" y2="102.6" stroke="#2a2a2a" stroke-width="1.1"/>
<text x="1258.5" y="384.6" font-family="Liberation Sans" font-size="13.89" font-weight="normal" text-anchor="middle" fill="#2a2a2a" textLength="85.0" lengthAdjust="spacingAndGlyphs">FAMILY ROOM</text>
<line x1="1216.0" y1="387.6" x2="1301.0" y2="387.6" stroke="#2a2a2a" stroke-width="1.1"/>
<text x="1258.5" y="402.7" font-family="Liberation Sans" font-size="13.89" font-weight="normal" text-anchor="middle" fill="#2a2a2a" textLength="86.0" lengthAdjust="spacingAndGlyphs">10' Flat Ceiling</text>
<text x="1402.0" y="419.5" font-family="Liberation Sans" font-size="9.72" font-weight="normal" text-anchor="middle" fill="#2a2a2a" textLength="46.0" lengthAdjust="spacingAndGlyphs">DROPZONE</text>
<text x="1565.8" y="308.0" font-family="Liberation Sans" font-size="13.89" font-weight="normal" text-anchor="middle" fill="#2a2a2a" textLength="52.0" lengthAdjust="spacingAndGlyphs">MASTER</text>
<line x1="1539.8" y1="311.0" x2="1591.8" y2="311.0" stroke="#2a2a2a" stroke-width="1.1"/>
<text x="1565.8" y="325.6" font-family="Liberation Sans" font-size="13.89" font-weight="normal" text-anchor="middle" fill="#2a2a2a" textLength="34.0" lengthAdjust="spacingAndGlyphs">SUITE</text>
<line x1="1548.8" y1="328.6" x2="1582.8" y2="328.6" stroke="#2a2a2a" stroke-width="1.1"/>
<rect x="1712.9" y="238.6" width="50.0" height="11.6" fill="#fff"/>
<text x="1737.9" y="248.2" font-family="Liberation Sans" font-size="10.56" font-weight="normal" text-anchor="middle" fill="#2a2a2a" textLength="46.0" lengthAdjust="spacingAndGlyphs">SHOWER</text>
<text x="1718.5" y="294.3" font-family="Liberation Sans" font-size="10.56" font-weight="normal" text-anchor="middle" fill="#2a2a2a" textLength="46.0" lengthAdjust="spacingAndGlyphs">MASTER</text>
<text x="1718.1" y="308.9" font-family="Liberation Sans" font-size="10.56" font-weight="normal" text-anchor="middle" fill="#2a2a2a" textLength="27.0" lengthAdjust="spacingAndGlyphs">BATH</text>
<text x="1776.5" y="456.8" font-family="Liberation Sans" font-size="9.72" font-weight="normal" text-anchor="middle" fill="#2a2a2a" textLength="22.0" lengthAdjust="spacingAndGlyphs" transform="rotate(-90 1776.5 453.3)">LINEN</text>
<text x="1572.0" y="456.8" font-family="Liberation Sans" font-size="9.72" font-weight="normal" text-anchor="middle" fill="#2a2a2a" textLength="36.0" lengthAdjust="spacingAndGlyphs">1/2 BATH</text>
<text x="1643.6" y="476.2" font-family="Liberation Sans" font-size="11.81" font-weight="normal" text-anchor="middle" fill="#2a2a2a" textLength="47.5" lengthAdjust="spacingAndGlyphs">LAUNDRY</text>
<text x="1628.3" y="506.0" font-family="Liberation Sans" font-size="6.94" font-weight="normal" text-anchor="middle" fill="#2a2a2a" textLength="20.0" lengthAdjust="spacingAndGlyphs">DRYER</text>
<text x="1663.6" y="506.0" font-family="Liberation Sans" font-size="6.94" font-weight="normal" text-anchor="middle" fill="#2a2a2a" textLength="26.0" lengthAdjust="spacingAndGlyphs">WASHER</text>
<text x="1238.3" y="565.9" font-family="Liberation Sans" font-size="9.72" font-weight="normal" text-anchor="middle" fill="#2a2a2a" textLength="14.0" lengthAdjust="spacingAndGlyphs">DW</text>
<text x="1252.9" y="622.1" font-family="Liberation Sans" font-size="12.50" font-weight="normal" text-anchor="middle" fill="#2a2a2a" textLength="52.6" lengthAdjust="spacingAndGlyphs">KITCHEN</text>
<line x1="1226.6" y1="625.1" x2="1279.2" y2="625.1" stroke="#2a2a2a" stroke-width="1.1"/>
<text x="1378.2" y="624.5" font-family="Liberation Sans" font-size="9.03" font-weight="normal" text-anchor="middle" fill="#2a2a2a" textLength="39.0" lengthAdjust="spacingAndGlyphs">BALCONY</text>
<text x="1378.2" y="636.0" font-family="Liberation Sans" font-size="9.03" font-weight="normal" text-anchor="middle" fill="#2a2a2a" textLength="29.0" lengthAdjust="spacingAndGlyphs">ABOVE</text>
<path d="M1358,631 Q1350,625 1354,610" fill="none" stroke="#000" stroke-width="1.0"/>
<polygon points="1355.0,609.0 1353.0,614.0 1357.0,614.0" fill="#000"/>
<text x="1431.7" y="566.4" font-family="Liberation Sans" font-size="11.11" font-weight="normal" text-anchor="middle" fill="#2a2a2a" textLength="34.0" lengthAdjust="spacingAndGlyphs" transform="rotate(-90 1431.7 562.4)">COATS</text>
<text x="1117.8" y="609.6" font-family="Liberation Sans" font-size="13.89" font-weight="normal" text-anchor="middle" fill="#2a2a2a" textLength="79.0" lengthAdjust="spacingAndGlyphs">BREAKFAST</text>
<line x1="1078.3" y1="612.6" x2="1157.3" y2="612.6" stroke="#2a2a2a" stroke-width="1.1"/>
<text x="1117.8" y="627.6" font-family="Liberation Sans" font-size="13.89" font-weight="normal" text-anchor="middle" fill="#2a2a2a" textLength="35.0" lengthAdjust="spacingAndGlyphs">NOOK</text>
<line x1="1100.3" y1="630.6" x2="1135.3" y2="630.6" stroke="#2a2a2a" stroke-width="1.1"/>
<text x="1608.0" y="643.0" font-family="Liberation Sans" font-size="13.89" font-weight="normal" text-anchor="middle" fill="#2a2a2a" textLength="54.0" lengthAdjust="spacingAndGlyphs">GARAGE</text>
<line x1="1581.0" y1="646.0" x2="1635.0" y2="646.0" stroke="#2a2a2a" stroke-width="1.1"/>
<text x="1249.2" y="768.3" font-family="Liberation Sans" font-size="13.89" font-weight="normal" text-anchor="middle" fill="#2a2a2a" textLength="38.0" lengthAdjust="spacingAndGlyphs">DINING</text>
<line x1="1230.2" y1="771.3" x2="1268.2" y2="771.3" stroke="#2a2a2a" stroke-width="1.1"/>
<text x="1376.8" y="736.1" font-family="Liberation Sans" font-size="12.50" font-weight="normal" text-anchor="middle" fill="#2a2a2a" textLength="42.0" lengthAdjust="spacingAndGlyphs">FOYER</text>
<line x1="1355.8" y1="739.1" x2="1397.8" y2="739.1" stroke="#2a2a2a" stroke-width="1.1"/>
<text x="1376.8" y="754.2" font-family="Liberation Sans" font-size="12.50" font-weight="normal" text-anchor="middle" fill="#2a2a2a" textLength="35.0" lengthAdjust="spacingAndGlyphs">OPEN</text>
<line x1="1359.3" y1="757.2" x2="1394.3" y2="757.2" stroke="#2a2a2a" stroke-width="1.1"/>
<text x="1376.8" y="771.6" font-family="Liberation Sans" font-size="12.50" font-weight="normal" text-anchor="middle" fill="#2a2a2a" textLength="17.0" lengthAdjust="spacingAndGlyphs">TO</text>
<line x1="1368.3" y1="774.6" x2="1385.3" y2="774.6" stroke="#2a2a2a" stroke-width="1.1"/>
<text x="1376.8" y="789.3" font-family="Liberation Sans" font-size="12.50" font-weight="normal" text-anchor="middle" fill="#2a2a2a" textLength="43.5" lengthAdjust="spacingAndGlyphs">ABOVE</text>
<line x1="1355.0" y1="792.3" x2="1398.5" y2="792.3" stroke="#2a2a2a" stroke-width="1.1"/>
<text x="1245.5" y="914.6" font-family="Liberation Sans" font-size="13.89" font-weight="normal" text-anchor="middle" fill="#2a2a2a" textLength="93.0" lengthAdjust="spacingAndGlyphs">FRONT PORCH</text>
<line x1="1199.0" y1="917.6" x2="1292.0" y2="917.6" stroke="#2a2a2a" stroke-width="1.1"/>
<text x="1629.7" y="914.9" font-family="Liberation Sans" font-size="13.89" font-weight="normal" text-anchor="middle" fill="#2a2a2a" textLength="93.0" lengthAdjust="spacingAndGlyphs">FRONT PORCH</text>
<line x1="1583.2" y1="917.9" x2="1676.2" y2="917.9" stroke="#2a2a2a" stroke-width="1.1"/>
<circle cx="956.8" cy="1036.0" r="17.5" fill="none" stroke="#666" stroke-width="1.0"/>
<line x1="974.3" y1="1036.0" x2="1917.0" y2="1036.0" stroke="#888" stroke-width="1.0"/>
<text x="987.6" y="1029.5" font-family="Liberation Sans" font-size="15.28" font-weight="normal" text-anchor="start" fill="#2a2a2a" textLength="115.0" lengthAdjust="spacingAndGlyphs">First Floor Plan</text>
<text x="987.6" y="1051.0" font-family="Liberation Sans" font-size="15.28" font-weight="normal" text-anchor="start" fill="#2a2a2a" textLength="80.0" lengthAdjust="spacingAndGlyphs">SCALE: 1/4&quot;</text>
<line x1="1089.0" y1="1045.0" x2="1095.0" y2="1045.0" stroke="#000" stroke-width="1.2"/>
<line x1="1089.0" y1="1048.5" x2="1095.0" y2="1048.5" stroke="#000" stroke-width="1.2"/>
<text x="1121.0" y="1051.0" font-family="Liberation Sans" font-size="15.28" font-weight="normal" text-anchor="start" fill="#2a2a2a" textLength="25.0" lengthAdjust="spacingAndGlyphs">1'-0&quot;</text>
<rect x="1540.6" y="1086.6" width="370.9" height="88.9" fill="none" stroke="#000" stroke-width="1.3"/>
<line x1="1720.9" y1="1086.6" x2="1720.9" y2="1175.5" stroke="#000" stroke-width="1.3"/>
<line x1="1857.6" y1="1086.6" x2="1857.6" y2="1175.5" stroke="#000" stroke-width="1.3"/>
<line x1="1540.6" y1="1099.4" x2="1720.9" y2="1099.4" stroke="#000" stroke-width="1.0"/>
<line x1="1540.6" y1="1164.4" x2="1720.9" y2="1164.4" stroke="#000" stroke-width="1.0"/>
<line x1="1720.9" y1="1119.3" x2="1857.6" y2="1119.3" stroke="#000" stroke-width="1.2"/>
<line x1="1720.9" y1="1131.5" x2="1857.6" y2="1131.5" stroke="#000" stroke-width="1.0"/>
<line x1="1784.3" y1="1119.3" x2="1784.3" y2="1175.5" stroke="#000" stroke-width="1.2"/>
<line x1="1857.6" y1="1103.4" x2="1911.5" y2="1103.4" stroke="#000" stroke-width="1.2"/>
<line x1="1857.6" y1="1150.6" x2="1911.5" y2="1150.6" stroke="#000" stroke-width="1.2"/>
<text x="1732.0" y="1096.4" font-family="Liberation Sans" font-size="9.72" font-weight="normal" text-anchor="start" fill="#2a2a2a" textLength="123.0" lengthAdjust="spacingAndGlyphs">Drafting Services Provided</text>
<text x="1732.0" y="1105.5" font-family="Liberation Sans" font-size="9.72" font-weight="normal" text-anchor="start" fill="#2a2a2a" textLength="87.0" lengthAdjust="spacingAndGlyphs">By:  Shannon Williams</text>
<text x="1790.0" y="1112.8" font-family="Liberation Sans" font-size="4.86" font-weight="bold" text-anchor="middle" fill="#2a2a2a" textLength="72.0" lengthAdjust="spacingAndGlyphs">Email: shanwilliams@triadrr.com</text>
<text x="1790.0" y="1118.3" font-family="Liberation Sans" font-size="4.86" font-weight="normal" text-anchor="middle" fill="#2a2a2a" textLength="30.0" lengthAdjust="spacingAndGlyphs">336-682-9278</text>
<text x="1724.0" y="1127.9" font-family="Liberation Sans" font-size="6.94" font-weight="normal" text-anchor="start" fill="#2a2a2a" textLength="15.0" lengthAdjust="spacingAndGlyphs">Date</text>
<line x1="1724.0" y1="1130.9" x2="1739.0" y2="1130.9" stroke="#2a2a2a" stroke-width="1.1"/>
<text x="1772.5" y="1127.8" font-family="Liberation Sans" font-size="8.33" font-weight="normal" text-anchor="middle" fill="#2a2a2a" textLength="18.0" lengthAdjust="spacingAndGlyphs">4.9.18</text>
<text x="1821.5" y="1128.3" font-family="Liberation Sans" font-size="9.72" font-weight="normal" text-anchor="middle" fill="#2a2a2a" textLength="38.0" lengthAdjust="spacingAndGlyphs">BUILDER</text>
<text x="1723.5" y="1138.5" font-family="Liberation Sans" font-size="6.94" font-weight="normal" text-anchor="start" fill="#2a2a2a" textLength="28.0" lengthAdjust="spacingAndGlyphs">Revisions</text>
<text x="1772.5" y="1139.5" font-family="Liberation Sans" font-size="8.33" font-weight="normal" text-anchor="middle" fill="#2a2a2a" textLength="18.0" lengthAdjust="spacingAndGlyphs">4.5.18</text>
<text x="1732.0" y="1147.0" font-family="Liberation Sans" font-size="8.33" font-weight="normal" text-anchor="middle" fill="#2a2a2a" textLength="18.0" lengthAdjust="spacingAndGlyphs">4.2.18</text>
<text x="1772.5" y="1149.0" font-family="Liberation Sans" font-size="8.33" font-weight="normal" text-anchor="middle" fill="#2a2a2a" textLength="18.0" lengthAdjust="spacingAndGlyphs">4.6.18</text>
<text x="1732.0" y="1157.2" font-family="Liberation Sans" font-size="8.33" font-weight="normal" text-anchor="middle" fill="#2a2a2a" textLength="18.0" lengthAdjust="spacingAndGlyphs">4.3.18</text>
<text x="1732.0" y="1166.4" font-family="Liberation Sans" font-size="8.33" font-weight="normal" text-anchor="middle" fill="#2a2a2a" textLength="18.0" lengthAdjust="spacingAndGlyphs">4.4.18</text>
<text x="1820.9" y="1141.9" font-family="Liberation Sans" font-size="9.72" font-weight="normal" text-anchor="middle" fill="#2a2a2a" textLength="36.0" lengthAdjust="spacingAndGlyphs">RODNEY</text>
<text x="1820.9" y="1151.0" font-family="Liberation Sans" font-size="9.72" font-weight="normal" text-anchor="middle" fill="#2a2a2a" textLength="40.0" lengthAdjust="spacingAndGlyphs">ROBBINS</text>
<text x="1820.9" y="1170.9" font-family="Liberation Sans" font-size="9.72" font-weight="normal" text-anchor="middle" fill="#2a2a2a" textLength="62.0" lengthAdjust="spacingAndGlyphs">336-382-3600</text>
<text x="1884.5" y="1098.4" font-family="Liberation Sans" font-size="9.72" font-weight="normal" text-anchor="middle" fill="#2a2a2a" textLength="33.0" lengthAdjust="spacingAndGlyphs">Project</text>
<text x="1884.5" y="1124.2" font-family="Liberation Sans" font-size="9.72" font-weight="normal" text-anchor="middle" fill="#2a2a2a" textLength="35.0" lengthAdjust="spacingAndGlyphs">Robbins</text>
<text x="1884.5" y="1133.8" font-family="Liberation Sans" font-size="9.72" font-weight="normal" text-anchor="middle" fill="#2a2a2a" textLength="44.0" lengthAdjust="spacingAndGlyphs">COTTAGE</text>
<text x="1884.5" y="1159.1" font-family="Liberation Sans" font-size="9.72" font-weight="normal" text-anchor="middle" fill="#2a2a2a" textLength="24.0" lengthAdjust="spacingAndGlyphs">Job#</text>
<text x="1884.5" y="1169.9" font-family="Liberation Sans" font-size="9.72" font-weight="normal" text-anchor="middle" fill="#2a2a2a" textLength="22.0" lengthAdjust="spacingAndGlyphs">6254</text>
<text x="1542.2" y="1104.2" font-family="Liberation Sans" font-size="6.25" font-weight="bold" text-anchor="start" fill="#2a2a2a" textLength="157.0" lengthAdjust="spacingAndGlyphs">Please be assured that we have made every effort to</text>
<text x="1542.2" y="1110.8" font-family="Liberation Sans" font-size="6.25" font-weight="bold" text-anchor="start" fill="#2a2a2a" textLength="157.0" lengthAdjust="spacingAndGlyphs">provide accuracy, clarity and adequacy of detailing in</text>
<text x="1542.2" y="1117.5" font-family="Liberation Sans" font-size="6.25" font-weight="bold" text-anchor="start" fill="#2a2a2a" textLength="166.0" lengthAdjust="spacingAndGlyphs">developing this building plan. Please remember that our</text>
<text x="1542.2" y="1124.0" font-family="Liberation Sans" font-size="6.25" font-weight="bold" text-anchor="start" fill="#2a2a2a" textLength="164.0" lengthAdjust="spacingAndGlyphs">service to you is for drafting your design.  The design is</text>
<text x="1542.2" y="1130.7" font-family="Liberation Sans" font-size="6.25" font-weight="bold" text-anchor="start" fill="#2a2a2a" textLength="160.0" lengthAdjust="spacingAndGlyphs">yours and we hold no claim to it.  It is wise to carefully</text>
<text x="1542.2" y="1137.2" font-family="Liberation Sans" font-size="6.25" font-weight="bold" text-anchor="start" fill="#2a2a2a" textLength="174.0" lengthAdjust="spacingAndGlyphs">and completely review these plans before any construction</text>
<text x="1542.2" y="1144.2" font-family="Liberation Sans" font-size="6.25" font-weight="bold" text-anchor="start" fill="#2a2a2a" textLength="164.0" lengthAdjust="spacingAndGlyphs">proceeds.  The Builder is responsible for all details and</text>
<text x="1542.2" y="1150.8" font-family="Liberation Sans" font-size="6.25" font-weight="bold" text-anchor="start" fill="#2a2a2a" textLength="157.0" lengthAdjust="spacingAndGlyphs">dimensions and must insure that these plans meet all</text>
<text x="1542.2" y="1156.8" font-family="Liberation Sans" font-size="6.25" font-weight="bold" text-anchor="start" fill="#2a2a2a" textLength="166.0" lengthAdjust="spacingAndGlyphs">Federal, State and local requirements in the area where</text>
<text x="1542.2" y="1163.5" font-family="Liberation Sans" font-size="6.25" font-weight="bold" text-anchor="start" fill="#2a2a2a" textLength="42.0" lengthAdjust="spacingAndGlyphs">it is to be built.</text>
</svg></body></html>
